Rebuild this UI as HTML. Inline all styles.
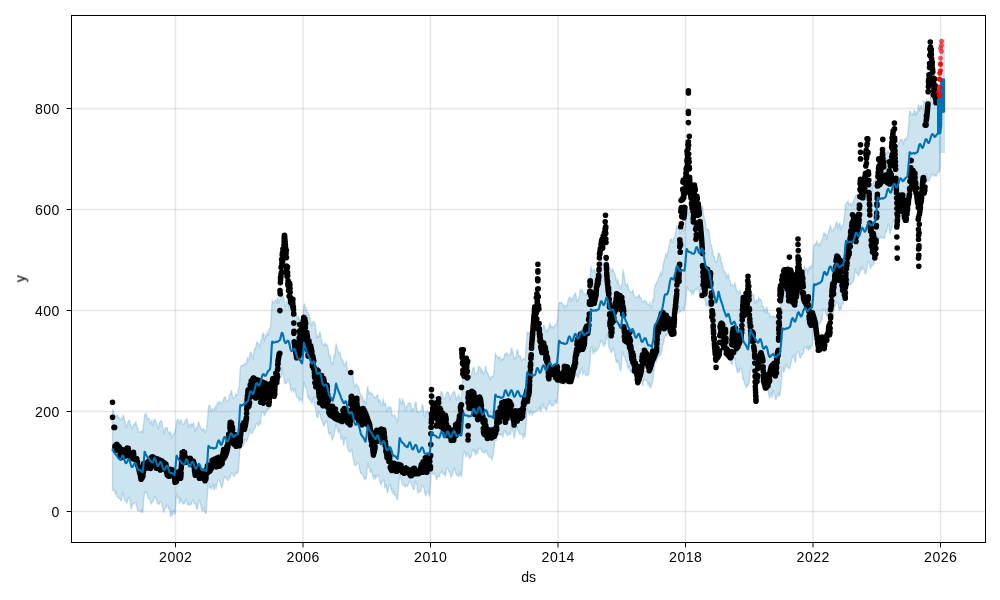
<!DOCTYPE html>
<html><head><meta charset="utf-8"><style>
html,body{margin:0;padding:0;background:#fff;}
svg{display:block}
text{font-family:"Liberation Sans",sans-serif;font-size:14.1px;letter-spacing:0.45px;fill:#000}
</style></head><body>
<svg width="1000" height="600" viewBox="0 0 1000 600">
<rect width="1000" height="600" fill="#fff"/>
<g stroke="#808080" stroke-opacity="0.2" stroke-width="1.39"><line x1="175.50" y1="15.5" x2="175.50" y2="542.5"/><line x1="303.00" y1="15.5" x2="303.00" y2="542.5"/><line x1="430.50" y1="15.5" x2="430.50" y2="542.5"/><line x1="558.00" y1="15.5" x2="558.00" y2="542.5"/><line x1="685.50" y1="15.5" x2="685.50" y2="542.5"/><line x1="813.00" y1="15.5" x2="813.00" y2="542.5"/><line x1="940.50" y1="15.5" x2="940.50" y2="542.5"/><line x1="71.5" y1="511.50" x2="985.5" y2="511.50"/><line x1="71.5" y1="411.50" x2="985.5" y2="411.50"/><line x1="71.5" y1="310.50" x2="985.5" y2="310.50"/><line x1="71.5" y1="209.50" x2="985.5" y2="209.50"/><line x1="71.5" y1="108.50" x2="985.5" y2="108.50"/></g>
<path d="M112.5,411.2 L112.8,409.0 L113.1,409.8 L113.4,411.2 L113.7,412.5 L114.0,413.5 L114.4,413.9 L114.7,414.7 L115.0,415.7 L115.3,416.7 L115.6,416.5 L116.0,416.2 L116.3,416.0 L116.6,415.4 L116.9,414.7 L117.2,414.8 L117.5,416.1 L117.9,417.3 L118.2,417.6 L118.5,417.4 L118.8,417.2 L119.1,417.8 L119.5,418.7 L119.8,419.6 L120.1,419.8 L120.4,419.9 L120.7,419.7 L121.0,419.3 L121.4,418.7 L121.7,418.3 L122.0,418.6 L122.3,419.2 L122.6,418.5 L122.9,416.7 L123.3,415.3 L123.6,415.8 L123.9,417.1 L124.2,418.5 L124.5,419.8 L124.9,420.9 L125.2,422.1 L125.5,424.4 L125.8,426.3 L126.1,427.4 L126.4,427.2 L126.8,426.7 L127.1,425.7 L127.4,424.4 L127.7,423.0 L128.0,422.0 L128.4,421.3 L128.7,420.8 L129.0,420.3 L129.3,420.2 L129.6,420.5 L129.9,421.7 L130.3,423.2 L130.6,424.5 L130.9,425.2 L131.2,425.8 L131.5,426.7 L131.9,427.9 L132.2,428.8 L132.5,428.4 L132.8,427.3 L133.1,426.1 L133.4,425.4 L133.8,424.6 L134.1,424.0 L134.4,424.3 L134.7,424.7 L135.0,424.6 L135.4,423.0 L135.7,421.7 L136.0,421.8 L136.3,423.5 L136.6,425.3 L136.9,426.4 L137.3,427.0 L137.6,427.4 L137.9,429.0 L138.2,430.7 L138.5,432.0 L138.9,432.2 L139.2,432.3 L139.5,432.2 L139.8,432.0 L140.1,431.7 L140.4,431.6 L140.8,431.7 L141.1,431.8 L141.4,431.7 L141.7,431.5 L142.0,431.3 L142.4,431.6 L142.7,432.1 L143.0,429.7 L143.3,427.5 L143.6,424.3 L143.9,421.4 L144.3,417.6 L144.6,414.1 L144.9,414.3 L145.2,414.8 L145.5,415.5 L145.9,415.6 L146.2,414.8 L146.5,413.9 L146.8,415.4 L147.1,417.4 L147.4,419.2 L147.8,418.8 L148.1,418.4 L148.4,418.1 L148.7,418.3 L149.0,418.6 L149.4,419.7 L149.7,421.9 L150.0,423.7 L150.3,423.9 L150.6,423.0 L150.9,422.2 L151.3,421.6 L151.6,421.0 L151.9,420.4 L152.2,422.8 L152.5,425.2 L152.9,426.6 L153.2,424.6 L153.5,422.5 L153.8,420.7 L154.1,419.7 L154.4,419.1 L154.8,419.3 L155.1,420.1 L155.4,421.4 L155.7,421.8 L156.0,422.0 L156.4,422.3 L156.7,423.8 L157.0,425.3 L157.3,426.5 L157.6,427.9 L157.9,429.0 L158.3,428.9 L158.6,426.8 L158.9,424.6 L159.2,423.1 L159.5,422.5 L159.9,422.0 L160.2,421.4 L160.5,420.9 L160.8,420.7 L161.1,420.8 L161.4,421.1 L161.8,421.8 L162.1,423.8 L162.4,425.8 L162.7,427.6 L163.0,428.8 L163.4,429.7 L163.7,430.8 L164.0,431.9 L164.3,432.8 L164.6,431.8 L164.9,429.9 L165.3,428.0 L165.6,427.9 L165.9,428.2 L166.2,428.4 L166.5,427.9 L166.9,427.6 L167.2,427.8 L167.5,428.7 L167.8,429.9 L168.1,430.9 L168.4,431.7 L168.8,432.6 L169.1,433.3 L169.4,433.9 L169.7,434.3 L170.0,433.5 L170.4,432.4 L170.7,431.3 L171.0,433.7 L171.3,436.1 L171.6,437.8 L171.9,437.4 L172.3,437.1 L172.6,436.6 L172.9,435.6 L173.2,434.7 L173.5,434.0 L173.9,433.5 L174.2,432.9 L174.5,433.5 L174.8,432.1 L175.1,430.2 L175.4,429.5 L175.8,427.3 L176.1,424.9 L176.4,421.5 L176.7,421.2 L177.0,421.2 L177.4,420.1 L177.7,418.9 L178.0,419.1 L178.3,420.1 L178.6,421.4 L178.9,422.2 L179.3,422.8 L179.6,423.3 L179.9,422.1 L180.2,420.9 L180.5,419.8 L180.9,420.0 L181.2,420.5 L181.5,421.4 L181.8,422.5 L182.1,423.3 L182.4,423.8 L182.8,423.9 L183.1,424.1 L183.4,424.2 L183.7,424.2 L184.0,424.3 L184.4,423.4 L184.7,422.2 L185.0,420.8 L185.3,420.5 L185.6,420.1 L185.9,419.7 L186.3,419.1 L186.6,419.0 L186.9,419.2 L187.2,419.7 L187.5,420.6 L187.8,422.8 L188.2,425.5 L188.5,428.1 L188.8,427.2 L189.1,425.9 L189.4,424.6 L189.8,424.9 L190.1,424.9 L190.4,424.6 L190.7,424.2 L191.0,423.8 L191.3,424.0 L191.7,425.1 L192.0,426.2 L192.3,425.7 L192.6,424.6 L192.9,423.8 L193.3,423.3 L193.6,423.1 L193.9,423.4 L194.2,426.5 L194.5,429.6 L194.8,431.5 L195.2,431.1 L195.5,430.3 L195.8,429.4 L196.1,428.3 L196.4,427.1 L196.8,427.4 L197.1,428.4 L197.4,429.3 L197.7,427.0 L198.0,424.2 L198.3,421.8 L198.7,422.3 L199.0,423.0 L199.3,423.8 L199.6,424.8 L199.9,426.0 L200.3,427.0 L200.6,427.7 L200.9,428.3 L201.2,428.9 L201.5,429.3 L201.8,429.4 L202.2,429.8 L202.5,430.2 L202.8,430.5 L203.1,429.6 L203.4,428.8 L203.8,428.5 L204.1,429.9 L204.4,431.3 L204.7,432.1 L205.0,432.1 L205.3,432.2 L205.7,431.7 L206.0,430.8 L206.3,429.9 L206.6,428.2 L206.9,425.5 L207.3,422.8 L207.6,418.8 L207.9,414.7 L208.2,410.0 L208.5,406.8 L208.8,405.7 L209.2,405.3 L209.5,405.6 L209.8,405.6 L210.1,406.2 L210.4,407.7 L210.8,409.3 L211.1,410.1 L211.4,410.7 L211.7,411.3 L212.0,410.4 L212.3,409.5 L212.7,408.7 L213.0,409.0 L213.3,409.4 L213.6,409.6 L213.9,409.6 L214.3,409.6 L214.6,408.8 L214.9,407.5 L215.2,406.3 L215.5,407.3 L215.8,408.9 L216.2,410.4 L216.5,408.2 L216.8,405.5 L217.1,403.1 L217.4,403.6 L217.8,404.2 L218.1,404.2 L218.4,403.3 L218.7,402.8 L219.0,402.2 L219.3,401.7 L219.7,401.5 L220.0,401.8 L220.3,402.3 L220.6,402.7 L220.9,403.3 L221.3,403.7 L221.6,403.7 L221.9,403.6 L222.2,403.2 L222.5,402.6 L222.8,401.6 L223.2,400.7 L223.5,399.6 L223.8,398.7 L224.1,398.0 L224.4,397.3 L224.8,396.8 L225.1,396.7 L225.4,397.7 L225.7,399.0 L226.0,400.3 L226.3,400.8 L226.7,401.2 L227.0,401.4 L227.3,401.4 L227.6,401.0 L227.9,400.7 L228.3,400.4 L228.6,400.0 L228.9,398.8 L229.2,397.2 L229.5,395.7 L229.8,394.8 L230.2,394.1 L230.5,393.5 L230.8,392.0 L231.1,390.8 L231.4,390.5 L231.8,392.1 L232.1,393.9 L232.4,395.5 L232.7,396.7 L233.0,397.8 L233.3,398.4 L233.7,398.5 L234.0,398.3 L234.3,397.8 L234.6,397.2 L234.9,396.5 L235.3,395.4 L235.6,394.4 L235.9,393.8 L236.2,394.6 L236.5,395.3 L236.8,395.5 L237.2,394.9 L237.5,394.3 L237.8,393.4 L238.1,392.2 L238.4,389.3 L238.8,387.8 L239.1,386.9 L239.4,384.8 L239.7,378.6 L240.0,372.0 L240.3,367.8 L240.7,366.6 L241.0,365.9 L241.3,365.7 L241.6,365.8 L241.9,365.4 L242.3,365.2 L242.6,365.3 L242.9,365.3 L243.2,365.3 L243.5,365.5 L243.8,365.7 L244.2,364.7 L244.5,363.5 L244.8,362.9 L245.1,363.3 L245.4,363.6 L245.8,363.7 L246.1,363.9 L246.4,364.1 L246.7,362.8 L247.0,360.3 L247.3,357.9 L247.7,358.2 L248.0,359.2 L248.3,359.9 L248.6,359.4 L248.9,358.5 L249.3,357.4 L249.6,355.5 L249.9,353.9 L250.2,352.8 L250.5,352.4 L250.8,352.4 L251.2,352.5 L251.5,352.9 L251.8,353.4 L252.1,355.4 L252.4,357.8 L252.7,360.0 L253.1,358.5 L253.4,356.6 L253.7,354.4 L254.0,352.3 L254.3,350.1 L254.7,348.6 L255.0,348.8 L255.3,349.0 L255.6,348.1 L255.9,346.3 L256.2,344.7 L256.6,343.5 L256.9,342.6 L257.2,342.1 L257.5,342.5 L257.8,343.2 L258.2,343.8 L258.5,343.8 L258.8,343.6 L259.1,344.0 L259.4,346.0 L259.7,347.6 L260.1,347.4 L260.4,345.4 L260.7,343.2 L261.0,341.6 L261.3,340.3 L261.7,339.1 L262.0,337.3 L262.3,335.7 L262.6,334.3 L262.9,333.5 L263.2,332.9 L263.6,333.6 L263.9,336.5 L264.2,339.7 L264.5,340.2 L264.8,337.8 L265.2,335.3 L265.5,335.6 L265.8,337.0 L266.1,338.3 L266.4,336.6 L266.7,334.5 L267.1,332.5 L267.4,333.4 L267.7,334.4 L268.0,334.8 L268.3,333.2 L268.7,331.6 L269.0,330.3 L269.3,329.3 L269.6,328.2 L269.9,328.2 L270.2,327.9 L270.6,325.1 L270.9,321.3 L271.2,316.2 L271.5,311.2 L271.8,305.5 L272.2,301.1 L272.5,300.7 L272.8,301.5 L273.1,302.5 L273.4,303.2 L273.7,303.3 L274.1,303.3 L274.4,302.7 L274.7,301.5 L275.0,300.2 L275.3,300.0 L275.7,300.2 L276.0,300.4 L276.3,301.1 L276.6,302.1 L276.9,302.6 L277.2,300.6 L277.6,298.3 L277.9,297.8 L278.2,300.4 L278.5,302.9 L278.8,303.0 L279.2,301.3 L279.5,299.5 L279.8,299.6 L280.1,299.8 L280.4,299.6 L280.7,298.0 L281.1,296.2 L281.4,294.5 L281.7,292.9 L282.0,292.4 L282.3,292.5 L282.7,293.5 L283.0,294.8 L283.3,296.1 L283.6,297.2 L283.9,298.4 L284.2,300.9 L284.6,303.6 L284.9,306.0 L285.2,306.6 L285.5,306.8 L285.8,306.5 L286.2,304.7 L286.5,302.8 L286.8,301.6 L287.1,302.3 L287.4,303.0 L287.7,303.3 L288.1,303.4 L288.4,303.8 L288.7,304.6 L289.0,305.9 L289.3,307.5 L289.7,307.1 L290.0,306.6 L290.3,306.3 L290.6,307.9 L290.9,309.2 L291.2,309.8 L291.6,309.6 L291.9,309.1 L292.2,309.5 L292.5,310.9 L292.8,312.3 L293.2,311.8 L293.5,310.8 L293.8,309.8 L294.1,310.4 L294.4,311.3 L294.7,312.2 L295.1,311.4 L295.4,310.9 L295.7,310.9 L296.0,311.5 L296.3,312.2 L296.7,314.0 L297.0,316.9 L297.3,319.5 L297.6,319.4 L297.9,318.0 L298.2,316.5 L298.6,316.9 L298.9,317.5 L299.2,318.1 L299.5,319.2 L299.8,320.5 L300.2,321.9 L300.5,323.6 L300.8,325.4 L301.1,325.5 L301.4,323.6 L301.7,321.7 L302.1,321.8 L302.4,320.2 L302.7,318.6 L303.0,315.4 L303.3,312.4 L303.7,308.5 L304.0,304.1 L304.3,303.9 L304.6,304.5 L304.9,306.0 L305.2,307.3 L305.6,307.8 L305.9,307.8 L306.2,308.0 L306.5,309.8 L306.8,312.3 L307.2,314.8 L307.5,314.6 L307.8,313.8 L308.1,313.0 L308.4,313.6 L308.7,314.4 L309.1,315.4 L309.4,316.2 L309.7,316.9 L310.0,318.0 L310.3,319.9 L310.7,321.8 L311.0,323.2 L311.3,324.3 L311.6,325.3 L311.9,324.7 L312.2,323.4 L312.6,321.8 L312.9,321.8 L313.2,321.9 L313.5,322.1 L313.8,322.0 L314.2,322.4 L314.5,322.8 L314.8,323.0 L315.1,323.4 L315.4,325.3 L315.7,328.1 L316.1,330.9 L316.4,333.8 L316.7,336.4 L317.0,338.6 L317.3,337.8 L317.6,336.6 L318.0,335.6 L318.3,336.4 L318.6,337.1 L318.9,336.8 L319.2,334.6 L319.6,332.6 L319.9,332.1 L320.2,332.9 L320.5,334.0 L320.8,335.7 L321.1,337.7 L321.5,340.0 L321.8,341.3 L322.1,342.4 L322.4,343.4 L322.7,343.9 L323.1,344.1 L323.4,344.4 L323.7,345.2 L324.0,345.8 L324.3,345.4 L324.6,344.3 L325.0,343.2 L325.3,343.4 L325.6,344.3 L325.9,345.3 L326.2,344.9 L326.6,344.5 L326.9,344.5 L327.2,345.2 L327.5,346.1 L327.8,347.3 L328.1,348.7 L328.5,350.0 L328.8,352.1 L329.1,354.8 L329.4,357.2 L329.7,357.5 L330.1,356.8 L330.4,356.1 L330.7,358.1 L331.0,360.5 L331.3,362.7 L331.6,362.7 L332.0,362.7 L332.3,363.1 L332.6,364.5 L332.9,364.2 L333.2,362.5 L333.6,359.1 L333.9,355.8 L334.2,354.9 L334.5,355.4 L334.8,355.8 L335.1,352.6 L335.5,349.1 L335.8,345.7 L336.1,344.4 L336.4,345.3 L336.7,346.8 L337.1,348.0 L337.4,348.9 L337.7,349.7 L338.0,351.0 L338.3,352.4 L338.6,353.0 L339.0,353.0 L339.3,353.2 L339.6,352.9 L339.9,352.5 L340.2,352.2 L340.6,354.5 L340.9,356.9 L341.2,358.7 L341.5,358.9 L341.8,359.2 L342.1,359.6 L342.5,359.9 L342.8,360.3 L343.1,361.4 L343.4,362.8 L343.7,364.1 L344.1,364.9 L344.4,365.4 L344.7,365.6 L345.0,364.5 L345.3,363.5 L345.6,362.8 L346.0,361.9 L346.3,361.4 L346.6,362.5 L346.9,365.7 L347.2,369.2 L347.6,371.3 L347.9,372.1 L348.2,372.8 L348.5,372.9 L348.8,372.6 L349.1,372.0 L349.5,372.3 L349.8,372.4 L350.1,372.4 L350.4,372.7 L350.7,372.9 L351.1,372.7 L351.4,372.0 L351.7,371.6 L352.0,371.9 L352.3,373.1 L352.6,374.6 L353.0,376.7 L353.3,379.2 L353.6,381.8 L353.9,383.7 L354.2,385.5 L354.6,386.8 L354.9,387.0 L355.2,386.9 L355.5,386.3 L355.8,385.3 L356.1,384.1 L356.5,383.9 L356.8,384.7 L357.1,385.5 L357.4,385.8 L357.7,386.0 L358.1,386.4 L358.4,386.8 L358.7,387.3 L359.0,388.3 L359.3,390.0 L359.6,391.9 L360.0,393.5 L360.3,393.9 L360.6,394.2 L360.9,395.1 L361.2,396.7 L361.6,398.1 L361.9,398.0 L362.2,397.3 L362.5,396.6 L362.8,398.5 L363.1,400.9 L363.5,403.1 L363.8,401.7 L364.1,400.4 L364.4,399.9 L364.7,401.3 L365.1,402.7 L365.4,404.2 L365.7,404.2 L366.0,403.4 L366.3,400.7 L366.6,397.1 L367.0,392.1 L367.3,389.4 L367.6,387.0 L367.9,386.9 L368.2,389.0 L368.6,391.5 L368.9,393.5 L369.2,393.3 L369.5,392.7 L369.8,392.4 L370.1,392.3 L370.5,392.0 L370.8,392.4 L371.1,393.4 L371.4,394.4 L371.7,394.2 L372.1,393.7 L372.4,393.6 L372.7,394.5 L373.0,395.2 L373.3,395.6 L373.6,396.0 L374.0,396.5 L374.3,397.0 L374.6,397.7 L374.9,398.3 L375.2,398.3 L375.6,397.8 L375.9,396.9 L376.2,396.6 L376.5,396.3 L376.8,395.9 L377.1,395.3 L377.5,395.0 L377.8,395.4 L378.1,397.5 L378.4,400.1 L378.7,401.3 L379.1,400.4 L379.4,399.6 L379.7,399.9 L380.0,400.8 L380.3,401.5 L380.6,403.0 L381.0,404.4 L381.3,405.6 L381.6,405.4 L381.9,405.1 L382.2,404.3 L382.5,401.9 L382.9,399.6 L383.2,399.1 L383.5,401.5 L383.8,404.2 L384.1,404.8 L384.5,403.9 L384.8,403.3 L385.1,403.1 L385.4,403.0 L385.7,402.9 L386.0,406.4 L386.4,409.7 L386.7,412.3 L387.0,411.4 L387.3,410.3 L387.6,409.1 L388.0,407.9 L388.3,406.6 L388.6,406.4 L388.9,407.3 L389.2,408.3 L389.5,408.0 L389.9,407.3 L390.2,406.9 L390.5,407.0 L390.8,407.3 L391.1,408.2 L391.5,410.5 L391.8,413.0 L392.1,414.9 L392.4,415.4 L392.7,415.6 L393.0,415.8 L393.4,415.9 L393.7,415.8 L394.0,415.6 L394.3,415.3 L394.6,415.0 L395.0,415.7 L395.3,416.5 L395.6,417.4 L395.9,417.8 L396.2,418.4 L396.5,419.0 L396.9,420.0 L397.2,421.0 L397.5,421.5 L397.8,419.9 L398.1,416.6 L398.5,413.1 L398.8,408.3 L399.1,403.4 L399.4,399.5 L399.7,398.0 L400.0,399.0 L400.4,400.5 L400.7,402.2 L401.0,403.4 L401.3,403.6 L401.6,404.0 L402.0,403.4 L402.3,401.3 L402.6,399.0 L402.9,399.1 L403.2,400.5 L403.5,401.9 L403.9,402.5 L404.2,403.4 L404.5,404.6 L404.8,407.4 L405.1,410.0 L405.5,411.4 L405.8,409.3 L406.1,407.3 L406.4,406.2 L406.7,406.5 L407.0,406.8 L407.4,406.4 L407.7,405.3 L408.0,403.8 L408.3,403.4 L408.6,403.2 L409.0,403.2 L409.3,402.8 L409.6,402.8 L409.9,403.1 L410.2,403.1 L410.5,403.5 L410.9,404.9 L411.2,407.9 L411.5,410.8 L411.8,411.3 L412.1,410.0 L412.5,408.4 L412.8,408.5 L413.1,408.9 L413.4,409.0 L413.7,409.2 L414.0,409.2 L414.4,408.7 L414.7,406.5 L415.0,404.4 L415.3,402.9 L415.6,402.3 L416.0,402.1 L416.3,403.7 L416.6,406.7 L416.9,410.1 L417.2,411.4 L417.5,412.0 L417.9,412.6 L418.2,412.7 L418.5,412.6 L418.8,412.2 L419.1,412.2 L419.5,412.0 L419.8,411.7 L420.1,411.5 L420.4,411.2 L420.7,410.9 L421.0,410.6 L421.4,410.5 L421.7,408.6 L422.0,406.3 L422.3,404.1 L422.6,405.1 L423.0,406.5 L423.3,408.2 L423.6,410.8 L423.9,413.4 L424.2,415.5 L424.5,416.3 L424.9,416.9 L425.2,416.0 L425.5,413.9 L425.8,411.7 L426.1,411.3 L426.5,411.8 L426.8,412.2 L427.1,411.7 L427.4,411.3 L427.7,411.0 L428.0,411.9 L428.4,412.9 L428.7,414.0 L429.0,415.4 L429.3,416.8 L429.6,416.3 L430.0,412.4 L430.3,408.4 L430.6,405.2 L430.9,402.9 L431.2,400.0 L431.5,396.1 L431.9,395.2 L432.2,394.9 L432.5,395.3 L432.8,395.4 L433.1,395.1 L433.5,394.9 L433.8,394.8 L434.1,395.3 L434.4,396.3 L434.7,397.3 L435.0,397.5 L435.4,397.2 L435.7,396.8 L436.0,396.7 L436.3,396.9 L436.6,396.9 L437.0,397.1 L437.3,397.2 L437.6,397.3 L437.9,397.2 L438.2,397.1 L438.5,397.2 L438.9,397.6 L439.2,397.9 L439.5,397.9 L439.8,397.5 L440.1,396.8 L440.5,395.1 L440.8,393.1 L441.1,391.4 L441.4,391.4 L441.7,391.8 L442.0,392.6 L442.4,393.8 L442.7,395.2 L443.0,396.5 L443.3,397.4 L443.6,398.2 L444.0,398.7 L444.3,398.7 L444.6,398.3 L444.9,398.1 L445.2,397.7 L445.5,397.0 L445.9,396.0 L446.2,394.8 L446.5,393.7 L446.8,393.0 L447.1,392.5 L447.4,392.1 L447.8,391.9 L448.1,392.0 L448.4,392.6 L448.7,393.7 L449.0,394.9 L449.4,396.6 L449.7,398.4 L450.0,399.9 L450.3,399.3 L450.6,398.2 L450.9,396.9 L451.3,396.1 L451.6,395.0 L451.9,394.1 L452.2,393.7 L452.5,393.3 L452.9,392.9 L453.2,392.7 L453.5,392.6 L453.8,392.0 L454.1,391.4 L454.4,391.2 L454.8,392.5 L455.1,394.2 L455.4,396.0 L455.7,397.6 L456.0,399.0 L456.4,399.7 L456.7,398.7 L457.0,397.4 L457.3,397.0 L457.6,397.5 L457.9,398.0 L458.3,397.1 L458.6,395.7 L458.9,394.4 L459.2,395.4 L459.5,396.7 L459.9,398.1 L460.2,399.3 L460.5,400.5 L460.8,401.0 L461.1,399.9 L461.4,398.6 L461.8,394.1 L462.1,389.3 L462.4,383.5 L462.7,380.2 L463.0,377.1 L463.4,374.7 L463.7,375.3 L464.0,376.5 L464.3,377.8 L464.6,378.0 L464.9,377.6 L465.3,377.1 L465.6,376.4 L465.9,375.7 L466.2,375.2 L466.5,375.2 L466.9,375.2 L467.2,375.4 L467.5,375.6 L467.8,375.9 L468.1,375.5 L468.4,375.0 L468.8,374.2 L469.1,374.6 L469.4,375.1 L469.7,375.6 L470.0,376.1 L470.4,376.6 L470.7,376.6 L471.0,376.1 L471.3,375.3 L471.6,373.8 L471.9,371.9 L472.3,369.9 L472.6,368.8 L472.9,368.2 L473.2,367.9 L473.5,367.5 L473.9,367.5 L474.2,368.2 L474.5,370.4 L474.8,372.8 L475.1,374.3 L475.4,374.5 L475.8,374.4 L476.1,374.2 L476.4,373.6 L476.7,372.7 L477.0,372.6 L477.4,372.5 L477.7,372.3 L478.0,370.2 L478.3,368.2 L478.6,366.7 L478.9,366.5 L479.3,366.6 L479.6,366.7 L479.9,366.8 L480.2,367.2 L480.5,368.5 L480.9,370.4 L481.2,372.4 L481.5,372.2 L481.8,371.2 L482.1,369.9 L482.4,371.1 L482.8,372.0 L483.1,372.8 L483.4,373.4 L483.7,373.9 L484.0,373.8 L484.4,372.8 L484.7,371.9 L485.0,370.3 L485.3,368.0 L485.6,366.0 L485.9,367.1 L486.3,369.5 L486.6,372.2 L486.9,372.3 L487.2,372.3 L487.5,372.6 L487.9,373.5 L488.2,374.2 L488.5,375.0 L488.8,376.0 L489.1,376.8 L489.4,377.6 L489.8,378.4 L490.1,379.1 L490.4,378.6 L490.7,377.6 L491.0,376.7 L491.4,376.7 L491.7,376.8 L492.0,376.8 L492.3,376.5 L492.6,376.2 L492.9,376.1 L493.3,376.5 L493.6,374.0 L493.9,371.3 L494.2,368.8 L494.5,364.7 L494.9,359.9 L495.2,354.9 L495.5,353.6 L495.8,354.1 L496.1,355.0 L496.4,355.9 L496.8,356.4 L497.1,356.6 L497.4,357.0 L497.7,357.3 L498.0,357.5 L498.4,357.6 L498.7,357.8 L499.0,358.1 L499.3,357.7 L499.6,357.0 L499.9,356.7 L500.3,358.1 L500.6,359.5 L500.9,360.6 L501.2,360.2 L501.5,359.9 L501.9,359.5 L502.2,359.0 L502.5,358.5 L502.8,358.6 L503.1,359.3 L503.4,359.7 L503.8,358.5 L504.1,356.5 L504.4,354.5 L504.7,354.1 L505.0,354.4 L505.4,355.0 L505.7,354.1 L506.0,353.4 L506.3,353.1 L506.6,353.0 L506.9,353.1 L507.3,353.6 L507.6,354.4 L507.9,355.1 L508.2,355.6 L508.5,356.0 L508.8,356.2 L509.2,355.8 L509.5,355.1 L509.8,354.4 L510.1,354.3 L510.4,354.4 L510.8,353.9 L511.1,351.2 L511.4,348.7 L511.7,347.7 L512.0,349.2 L512.3,350.9 L512.7,352.1 L513.0,352.8 L513.3,353.4 L513.6,355.3 L513.9,357.4 L514.3,359.1 L514.6,358.6 L514.9,357.9 L515.2,357.2 L515.5,357.7 L515.8,358.1 L516.2,357.4 L516.5,354.7 L516.8,352.1 L517.1,350.7 L517.4,350.2 L517.8,349.9 L518.1,351.6 L518.4,354.0 L518.7,356.7 L519.0,356.4 L519.3,356.0 L519.7,355.7 L520.0,355.9 L520.3,356.0 L520.6,356.5 L520.9,358.3 L521.3,359.9 L521.6,360.6 L521.9,360.5 L522.2,360.3 L522.5,359.8 L522.8,359.3 L523.2,358.8 L523.5,358.5 L523.8,358.4 L524.1,358.3 L524.4,359.0 L524.8,359.7 L525.1,359.8 L525.4,356.5 L525.7,352.2 L526.0,348.4 L526.3,343.6 L526.7,338.8 L527.0,333.9 L527.3,332.1 L527.6,332.1 L527.9,332.7 L528.3,333.3 L528.6,333.5 L528.9,332.9 L529.2,332.5 L529.5,332.4 L529.8,332.8 L530.2,332.9 L530.5,333.9 L530.8,335.7 L531.1,337.5 L531.4,337.7 L531.8,337.4 L532.1,337.2 L532.4,337.7 L532.7,338.0 L533.0,338.3 L533.3,338.3 L533.7,338.3 L534.0,338.1 L534.3,337.3 L534.6,336.5 L534.9,335.8 L535.3,335.1 L535.6,334.0 L535.9,332.5 L536.2,330.9 L536.5,329.3 L536.8,329.6 L537.2,330.5 L537.5,331.9 L537.8,331.9 L538.1,332.2 L538.4,332.6 L538.8,332.6 L539.1,332.7 L539.4,333.0 L539.7,333.6 L540.0,333.9 L540.3,333.8 L540.7,333.4 L541.0,332.8 L541.3,331.7 L541.6,330.5 L541.9,329.3 L542.3,328.7 L542.6,328.3 L542.9,327.9 L543.2,326.4 L543.5,325.3 L543.8,325.0 L544.2,325.8 L544.5,326.8 L544.8,328.0 L545.1,329.2 L545.4,330.3 L545.8,331.2 L546.1,331.8 L546.4,332.1 L546.7,331.3 L547.0,330.4 L547.3,329.6 L547.7,330.5 L548.0,331.3 L548.3,331.0 L548.6,328.9 L548.9,326.8 L549.3,325.3 L549.6,324.2 L549.9,323.4 L550.2,324.2 L550.5,325.7 L550.8,327.5 L551.2,327.1 L551.5,326.6 L551.8,326.1 L552.1,326.6 L552.4,326.8 L552.8,327.0 L553.1,327.9 L553.4,328.7 L553.7,328.4 L554.0,327.2 L554.3,326.1 L554.7,325.7 L555.0,325.6 L555.3,325.6 L555.6,325.0 L555.9,324.4 L556.3,323.9 L556.6,323.7 L556.9,323.5 L557.2,321.9 L557.5,319.3 L557.8,316.7 L558.2,312.9 L558.5,309.2 L558.8,305.2 L559.1,302.7 L559.4,302.4 L559.8,302.5 L560.1,303.1 L560.4,303.5 L560.7,303.3 L561.0,302.9 L561.3,302.6 L561.7,302.4 L562.0,302.6 L562.3,303.0 L562.6,303.5 L562.9,304.3 L563.3,304.9 L563.6,305.7 L563.9,306.6 L564.2,307.4 L564.5,306.8 L564.8,306.0 L565.2,305.3 L565.5,305.5 L565.8,305.8 L566.1,306.0 L566.4,306.2 L566.8,306.3 L567.1,305.5 L567.4,303.8 L567.7,301.9 L568.0,300.5 L568.3,299.6 L568.7,298.9 L569.0,297.9 L569.3,297.3 L569.6,297.1 L569.9,297.3 L570.3,297.8 L570.6,298.6 L570.9,300.2 L571.2,301.6 L571.5,301.7 L571.8,300.0 L572.2,298.0 L572.5,298.0 L572.8,299.2 L573.1,300.2 L573.4,298.7 L573.7,296.6 L574.1,294.6 L574.4,294.4 L574.7,294.4 L575.0,294.3 L575.3,293.5 L575.7,293.0 L576.0,294.0 L576.3,297.3 L576.6,300.7 L576.9,301.9 L577.2,301.6 L577.6,301.0 L577.9,300.4 L578.2,299.6 L578.5,298.5 L578.8,297.7 L579.2,296.7 L579.5,295.4 L579.8,293.1 L580.1,290.9 L580.4,289.7 L580.7,290.4 L581.1,291.2 L581.4,291.0 L581.7,290.2 L582.0,289.6 L582.3,290.1 L582.7,291.1 L583.0,292.2 L583.3,292.8 L583.6,293.3 L583.9,293.7 L584.2,294.2 L584.6,294.5 L584.9,294.6 L585.2,294.8 L585.5,294.9 L585.8,294.5 L586.2,293.7 L586.5,293.0 L586.8,293.6 L587.1,294.6 L587.4,295.7 L587.7,294.3 L588.1,292.6 L588.4,291.3 L588.7,292.8 L589.0,293.4 L589.3,291.0 L589.7,287.0 L590.0,281.9 L590.3,276.7 L590.6,270.7 L590.9,266.3 L591.2,267.0 L591.6,269.1 L591.9,271.4 L592.2,271.8 L592.5,271.5 L592.8,271.2 L593.2,270.5 L593.5,269.8 L593.8,269.2 L594.1,269.9 L594.4,270.7 L594.7,271.3 L595.1,271.7 L595.4,272.4 L595.7,272.3 L596.0,271.8 L596.3,270.9 L596.7,270.4 L597.0,270.0 L597.3,269.6 L597.6,269.3 L597.9,269.1 L598.2,269.1 L598.6,269.9 L598.9,270.4 L599.2,269.1 L599.5,266.0 L599.8,262.8 L600.2,260.8 L600.5,259.7 L600.8,258.9 L601.1,259.6 L601.4,260.8 L601.7,262.2 L602.1,262.7 L602.4,263.2 L602.7,264.0 L603.0,265.2 L603.3,266.2 L603.7,266.1 L604.0,264.6 L604.3,262.8 L604.6,262.5 L604.9,263.1 L605.2,263.5 L605.6,261.7 L605.9,259.6 L606.2,257.6 L606.5,257.7 L606.8,258.7 L607.2,260.0 L607.5,261.0 L607.8,262.3 L608.1,263.5 L608.4,264.1 L608.7,264.7 L609.1,265.6 L609.4,266.5 L609.7,267.1 L610.0,268.5 L610.3,269.9 L610.7,271.1 L611.0,271.6 L611.3,271.9 L611.6,271.9 L611.9,270.6 L612.2,269.3 L612.6,268.8 L612.9,269.5 L613.2,270.4 L613.5,271.0 L613.8,271.6 L614.2,272.4 L614.5,273.0 L614.8,273.5 L615.1,274.2 L615.4,275.8 L615.7,277.3 L616.1,278.7 L616.4,280.6 L616.7,282.4 L617.0,282.9 L617.3,281.3 L617.7,279.6 L618.0,280.0 L618.3,282.1 L618.6,284.4 L618.9,285.0 L619.2,285.1 L619.6,285.3 L619.9,286.9 L620.2,288.6 L620.5,289.9 L620.8,288.1 L621.2,286.3 L621.5,285.0 L621.8,283.8 L622.1,282.9 L622.4,279.2 L622.7,274.2 L623.1,270.5 L623.4,271.2 L623.7,272.9 L624.0,274.4 L624.3,276.9 L624.7,279.5 L625.0,282.1 L625.3,283.2 L625.6,284.0 L625.9,284.8 L626.2,285.6 L626.6,286.4 L626.9,286.1 L627.2,284.9 L627.5,284.0 L627.8,285.2 L628.2,287.1 L628.5,288.9 L628.8,289.4 L629.1,289.7 L629.4,290.1 L629.7,290.9 L630.1,291.7 L630.4,292.4 L630.7,292.5 L631.0,292.3 L631.3,292.1 L631.7,292.1 L632.0,292.2 L632.3,291.5 L632.6,290.6 L632.9,290.2 L633.2,291.7 L633.6,293.5 L633.9,295.5 L634.2,295.7 L634.5,296.0 L634.8,296.4 L635.2,297.1 L635.5,297.5 L635.8,297.7 L636.1,297.7 L636.4,297.3 L636.7,297.2 L637.1,297.0 L637.4,296.8 L637.7,296.6 L638.0,296.5 L638.3,296.5 L638.6,295.5 L639.0,294.8 L639.3,294.7 L639.6,295.9 L639.9,297.4 L640.2,298.3 L640.6,298.1 L640.9,297.8 L641.2,298.6 L641.5,299.9 L641.8,300.9 L642.1,301.6 L642.5,302.1 L642.8,302.4 L643.1,302.1 L643.4,301.8 L643.7,301.4 L644.1,300.9 L644.4,300.6 L644.7,300.4 L645.0,300.4 L645.3,300.7 L645.6,300.9 L646.0,301.1 L646.3,301.6 L646.6,302.2 L646.9,302.8 L647.2,303.4 L647.6,304.1 L647.9,304.6 L648.2,304.8 L648.5,305.0 L648.8,305.0 L649.1,304.6 L649.5,303.5 L649.8,302.4 L650.1,303.1 L650.4,305.3 L650.7,307.5 L651.1,307.9 L651.4,307.7 L651.7,307.6 L652.0,306.0 L652.3,302.0 L652.6,298.7 L653.0,299.9 L653.3,301.1 L653.6,300.9 L653.9,296.2 L654.2,291.6 L654.6,287.5 L654.9,285.8 L655.2,284.9 L655.5,284.6 L655.8,284.4 L656.1,283.8 L656.5,282.9 L656.8,282.1 L657.1,281.4 L657.4,281.0 L657.7,280.6 L658.1,280.0 L658.4,278.8 L658.7,277.5 L659.0,276.7 L659.3,276.4 L659.6,276.3 L660.0,275.3 L660.3,273.8 L660.6,272.4 L660.9,273.2 L661.2,274.3 L661.6,275.2 L661.9,273.6 L662.2,271.9 L662.5,270.1 L662.8,267.9 L663.1,265.4 L663.5,263.3 L663.8,262.0 L664.1,260.8 L664.4,259.4 L664.7,258.3 L665.1,257.5 L665.4,256.1 L665.7,254.8 L666.0,253.7 L666.3,254.8 L666.6,255.8 L667.0,256.2 L667.3,255.0 L667.6,253.4 L667.9,251.9 L668.2,250.5 L668.6,248.9 L668.9,247.4 L669.2,245.9 L669.5,244.4 L669.8,242.6 L670.1,240.8 L670.5,239.3 L670.8,238.9 L671.1,238.8 L671.4,239.1 L671.7,240.2 L672.1,241.4 L672.4,242.0 L672.7,241.3 L673.0,240.5 L673.3,239.8 L673.6,239.1 L674.0,238.0 L674.3,237.6 L674.6,237.1 L674.9,236.4 L675.2,234.7 L675.6,232.9 L675.9,231.0 L676.2,229.0 L676.5,227.1 L676.8,226.1 L677.1,227.0 L677.5,228.3 L677.8,228.5 L678.1,228.0 L678.4,227.7 L678.7,227.7 L679.1,227.6 L679.4,227.5 L679.7,229.6 L680.0,231.6 L680.3,232.9 L680.6,232.3 L681.0,231.6 L681.3,231.1 L681.6,231.1 L681.9,231.2 L682.2,230.5 L682.6,229.3 L682.9,228.2 L683.2,228.6 L683.5,229.6 L683.8,230.6 L684.1,230.3 L684.5,230.0 L684.8,227.7 L685.1,225.9 L685.4,224.2 L685.7,220.6 L686.1,215.9 L686.4,211.2 L686.7,209.8 L687.0,210.1 L687.3,210.8 L687.6,212.5 L688.0,214.2 L688.3,215.5 L688.6,213.7 L688.9,211.7 L689.2,209.9 L689.6,210.2 L689.9,210.7 L690.2,211.7 L690.5,213.7 L690.8,215.6 L691.1,216.1 L691.5,214.8 L691.8,213.3 L692.1,213.1 L692.4,213.8 L692.7,214.4 L693.1,214.2 L693.4,213.8 L693.7,213.4 L694.0,213.5 L694.3,213.4 L694.6,213.2 L695.0,213.6 L695.3,213.7 L695.6,212.8 L695.9,210.7 L696.2,209.0 L696.6,207.4 L696.9,206.2 L697.2,205.4 L697.5,207.3 L697.8,209.8 L698.1,212.2 L698.5,213.6 L698.8,214.8 L699.1,215.8 L699.4,216.4 L699.7,216.6 L700.1,216.4 L700.4,215.7 L700.7,214.9 L701.0,213.2 L701.3,211.2 L701.6,209.2 L702.0,207.5 L702.3,206.7 L702.6,206.7 L702.9,208.7 L703.2,211.1 L703.5,213.7 L703.9,215.8 L704.2,218.1 L704.5,219.7 L704.8,220.2 L705.1,220.5 L705.5,222.6 L705.8,225.7 L706.1,228.5 L706.4,229.5 L706.7,230.1 L707.0,230.5 L707.4,229.8 L707.7,229.2 L708.0,228.9 L708.3,229.3 L708.6,229.9 L709.0,231.2 L709.3,233.5 L709.6,236.1 L709.9,238.4 L710.2,240.5 L710.5,242.7 L710.9,244.0 L711.2,244.9 L711.5,245.6 L711.8,247.2 L712.1,248.4 L712.5,249.8 L712.8,251.9 L713.1,254.0 L713.4,255.4 L713.7,255.7 L714.0,256.0 L714.4,257.1 L714.7,258.6 L715.0,260.1 L715.3,261.0 L715.6,261.6 L716.0,262.2 L716.3,262.6 L716.6,262.2 L716.9,261.6 L717.2,260.7 L717.5,258.6 L717.9,256.6 L718.2,254.4 L718.5,253.1 L718.8,253.0 L719.1,253.5 L719.5,254.1 L719.8,255.0 L720.1,255.7 L720.4,256.5 L720.7,258.8 L721.0,261.2 L721.4,263.0 L721.7,263.1 L722.0,263.2 L722.3,263.9 L722.6,265.9 L723.0,268.3 L723.3,269.9 L723.6,270.5 L723.9,270.8 L724.2,271.1 L724.5,271.5 L724.9,271.9 L725.2,272.2 L725.5,272.6 L725.8,273.0 L726.1,275.2 L726.5,276.9 L726.8,277.7 L727.1,277.0 L727.4,276.1 L727.7,275.2 L728.0,274.6 L728.4,274.3 L728.7,275.5 L729.0,277.4 L729.3,279.7 L729.6,280.3 L730.0,280.6 L730.3,281.1 L730.6,282.9 L730.9,284.5 L731.2,285.5 L731.5,285.2 L731.9,284.5 L732.2,284.5 L732.5,285.2 L732.8,285.8 L733.1,286.1 L733.5,286.2 L733.8,286.4 L734.1,285.2 L734.4,283.8 L734.7,282.8 L735.0,283.4 L735.4,284.3 L735.7,285.7 L736.0,287.7 L736.3,289.7 L736.6,290.9 L737.0,291.0 L737.3,290.8 L737.6,291.4 L737.9,292.4 L738.2,293.2 L738.5,293.3 L738.9,293.2 L739.2,293.0 L739.5,291.8 L739.8,290.7 L740.1,290.4 L740.5,292.0 L740.8,293.8 L741.1,295.1 L741.4,295.4 L741.7,295.9 L742.0,296.7 L742.4,297.7 L742.7,298.8 L743.0,299.6 L743.3,300.2 L743.6,300.5 L744.0,301.9 L744.3,303.2 L744.6,304.2 L744.9,304.3 L745.2,304.4 L745.5,304.9 L745.9,306.1 L746.2,307.4 L746.5,308.0 L746.8,308.0 L747.1,308.1 L747.5,307.9 L747.8,307.7 L748.1,306.5 L748.4,306.0 L748.7,305.7 L749.0,304.8 L749.4,299.5 L749.7,294.2 L750.0,290.0 L750.3,289.3 L750.6,290.5 L751.0,292.2 L751.3,292.9 L751.6,293.4 L751.9,293.7 L752.2,294.1 L752.5,294.7 L752.9,294.7 L753.2,294.5 L753.5,294.6 L753.8,296.8 L754.1,298.9 L754.5,300.6 L754.8,301.8 L755.1,303.4 L755.4,303.4 L755.7,301.9 L756.0,300.3 L756.4,300.1 L756.7,300.4 L757.0,300.7 L757.3,301.2 L757.6,301.7 L758.0,302.0 L758.3,300.5 L758.6,298.6 L758.9,297.4 L759.2,298.3 L759.5,299.2 L759.9,299.5 L760.2,299.3 L760.5,299.4 L760.8,299.7 L761.1,300.1 L761.5,300.8 L761.8,302.5 L762.1,304.3 L762.4,305.9 L762.7,306.2 L763.0,306.1 L763.4,306.5 L763.7,308.8 L764.0,310.8 L764.3,311.3 L764.6,310.3 L765.0,309.1 L765.3,309.9 L765.6,311.7 L765.9,313.7 L766.2,311.5 L766.5,308.8 L766.9,306.6 L767.2,308.5 L767.5,310.6 L767.8,312.5 L768.1,313.0 L768.4,313.4 L768.8,313.7 L769.1,313.7 L769.4,313.3 L769.7,314.2 L770.0,315.8 L770.4,317.2 L770.7,317.3 L771.0,317.0 L771.3,316.8 L771.6,316.6 L771.9,316.5 L772.3,316.4 L772.6,316.2 L772.9,316.2 L773.2,316.3 L773.5,316.4 L773.9,316.8 L774.2,316.8 L774.5,316.6 L774.8,316.3 L775.1,316.9 L775.4,317.5 L775.8,317.9 L776.1,317.6 L776.4,317.2 L776.7,316.9 L777.0,316.6 L777.4,316.4 L777.7,315.9 L778.0,314.9 L778.3,314.0 L778.6,313.7 L778.9,313.9 L779.3,314.1 L779.6,314.5 L779.9,314.4 L780.2,312.2 L780.5,308.9 L780.9,305.6 L781.2,301.5 L781.5,298.5 L781.8,294.9 L782.1,291.8 L782.4,290.2 L782.8,291.2 L783.1,291.1 L783.4,289.6 L783.7,287.6 L784.0,287.5 L784.4,288.3 L784.7,289.0 L785.0,289.8 L785.3,290.6 L785.6,291.2 L785.9,289.5 L786.3,287.8 L786.6,287.0 L786.9,287.7 L787.2,288.4 L787.5,289.3 L787.9,290.3 L788.2,291.5 L788.5,290.0 L788.8,287.5 L789.1,285.0 L789.4,285.4 L789.8,286.0 L790.1,286.2 L790.4,284.8 L790.7,283.1 L791.0,281.5 L791.4,280.5 L791.7,279.7 L792.0,279.2 L792.3,278.9 L792.6,279.1 L792.9,280.1 L793.3,281.6 L793.6,283.2 L793.9,282.5 L794.2,281.3 L794.5,280.2 L794.9,281.0 L795.2,281.6 L795.5,281.6 L795.8,281.1 L796.1,280.3 L796.4,279.1 L796.8,277.3 L797.1,275.6 L797.4,274.5 L797.7,273.7 L798.0,273.2 L798.4,272.5 L798.7,272.0 L799.0,272.0 L799.3,273.3 L799.6,274.9 L799.9,276.2 L800.3,276.7 L800.6,277.1 L800.9,277.9 L801.2,279.3 L801.5,280.5 L801.9,279.7 L802.2,277.7 L802.5,275.5 L802.8,273.6 L803.1,271.7 L803.4,269.9 L803.8,268.5 L804.1,267.2 L804.4,266.6 L804.7,267.4 L805.0,268.6 L805.4,269.5 L805.7,269.8 L806.0,270.2 L806.3,270.0 L806.6,269.4 L806.9,268.6 L807.3,269.7 L807.6,271.0 L807.9,272.1 L808.2,271.0 L808.5,269.8 L808.9,268.6 L809.2,267.6 L809.5,266.5 L809.8,266.3 L810.1,267.3 L810.4,268.3 L810.8,268.2 L811.1,267.2 L811.4,266.3 L811.7,267.0 L812.0,268.2 L812.4,266.6 L812.7,262.9 L813.0,259.1 L813.3,253.9 L813.6,249.5 L813.9,245.4 L814.3,244.8 L814.6,244.8 L814.9,245.2 L815.2,245.1 L815.5,244.3 L815.9,243.3 L816.2,242.4 L816.5,241.5 L816.8,240.4 L817.1,242.1 L817.4,244.1 L817.8,245.8 L818.1,245.4 L818.4,245.1 L818.7,245.0 L819.0,244.4 L819.4,243.5 L819.7,243.3 L820.0,244.1 L820.3,245.0 L820.6,244.2 L820.9,242.8 L821.3,241.4 L821.6,240.9 L821.9,240.3 L822.2,239.3 L822.5,238.6 L822.9,237.7 L823.2,236.4 L823.5,234.4 L823.8,232.8 L824.1,232.6 L824.4,233.8 L824.8,235.4 L825.1,235.1 L825.4,234.1 L825.7,233.1 L826.0,235.0 L826.4,237.1 L826.7,238.7 L827.0,238.0 L827.3,236.9 L827.6,235.6 L827.9,234.5 L828.3,233.2 L828.6,232.0 L828.9,230.8 L829.2,229.7 L829.5,228.2 L829.9,226.7 L830.2,225.5 L830.5,225.8 L830.8,226.7 L831.1,227.9 L831.4,229.1 L831.8,230.3 L832.1,231.3 L832.4,231.3 L832.7,231.0 L833.0,230.4 L833.3,229.5 L833.7,228.3 L834.0,228.0 L834.3,228.3 L834.6,228.5 L834.9,227.5 L835.3,226.3 L835.6,225.1 L835.9,223.7 L836.2,222.6 L836.5,222.0 L836.8,222.6 L837.2,223.6 L837.5,224.9 L837.8,226.7 L838.1,228.5 L838.4,228.0 L838.8,225.9 L839.1,223.5 L839.4,223.2 L839.7,223.3 L840.0,223.2 L840.3,225.9 L840.7,228.5 L841.0,230.3 L841.3,228.6 L841.6,227.0 L841.9,225.9 L842.3,225.5 L842.6,225.1 L842.9,224.8 L843.2,224.3 L843.5,222.1 L843.8,219.7 L844.2,217.5 L844.5,215.2 L844.8,213.5 L845.1,210.3 L845.4,207.1 L845.8,203.8 L846.1,203.3 L846.4,203.5 L846.7,203.2 L847.0,203.0 L847.3,202.4 L847.7,201.6 L848.0,201.0 L848.3,202.1 L848.6,203.5 L848.9,204.9 L849.3,204.8 L849.6,204.7 L849.9,204.4 L850.2,203.6 L850.5,203.1 L850.8,203.4 L851.2,204.8 L851.5,205.9 L851.8,205.8 L852.1,204.4 L852.4,203.0 L852.8,202.6 L853.1,202.6 L853.4,202.5 L853.7,201.6 L854.0,200.1 L854.3,198.5 L854.7,197.9 L855.0,197.3 L855.3,196.6 L855.6,195.8 L855.9,195.3 L856.3,195.0 L856.6,194.8 L856.9,194.9 L857.2,195.3 L857.5,195.9 L857.8,196.4 L858.2,197.3 L858.5,198.2 L858.8,198.5 L859.1,197.8 L859.4,196.7 L859.8,195.3 L860.1,193.7 L860.4,192.0 L860.7,190.4 L861.0,189.0 L861.3,187.7 L861.7,186.5 L862.0,185.7 L862.3,185.1 L862.6,186.8 L862.9,189.0 L863.3,191.3 L863.6,191.9 L863.9,192.4 L864.2,193.2 L864.5,195.0 L864.8,196.6 L865.2,195.7 L865.5,192.0 L865.8,188.1 L866.1,187.3 L866.4,188.1 L866.8,188.9 L867.1,187.6 L867.4,186.1 L867.7,184.7 L868.0,183.7 L868.3,182.8 L868.7,182.6 L869.0,184.0 L869.3,185.7 L869.6,186.4 L869.9,185.7 L870.3,185.0 L870.6,185.2 L870.9,185.8 L871.2,186.2 L871.5,187.1 L871.8,188.0 L872.2,188.8 L872.5,186.8 L872.8,184.8 L873.1,183.1 L873.4,182.1 L873.8,181.2 L874.1,181.5 L874.4,183.5 L874.7,185.5 L875.0,185.2 L875.3,181.8 L875.7,177.4 L876.0,174.9 L876.3,172.9 L876.6,170.9 L876.9,167.0 L877.3,163.1 L877.6,159.0 L877.9,157.3 L878.2,157.4 L878.5,157.7 L878.8,157.6 L879.2,157.2 L879.5,157.4 L879.8,158.5 L880.1,159.7 L880.4,159.4 L880.8,158.4 L881.1,157.5 L881.4,158.2 L881.7,159.0 L882.0,159.5 L882.3,158.8 L882.7,158.3 L883.0,158.3 L883.3,159.2 L883.6,160.1 L883.9,160.1 L884.3,159.5 L884.6,158.8 L884.9,157.5 L885.2,156.0 L885.5,154.3 L885.8,154.3 L886.2,154.2 L886.5,153.7 L886.8,152.6 L887.1,151.7 L887.4,151.1 L887.8,151.1 L888.1,151.6 L888.4,151.9 L888.7,152.0 L889.0,152.4 L889.3,152.6 L889.7,152.7 L890.0,152.6 L890.3,152.4 L890.6,152.0 L890.9,151.3 L891.3,151.1 L891.6,150.6 L891.9,149.8 L892.2,148.6 L892.5,147.3 L892.8,146.3 L893.2,145.7 L893.5,145.3 L893.8,144.1 L894.1,142.9 L894.4,142.0 L894.8,143.3 L895.1,145.2 L895.4,147.1 L895.7,148.0 L896.0,148.8 L896.3,149.0 L896.7,148.1 L897.0,146.8 L897.3,146.0 L897.6,145.9 L897.9,145.5 L898.2,144.9 L898.6,144.0 L898.9,143.1 L899.2,142.3 L899.5,141.6 L899.8,141.0 L900.2,140.3 L900.5,139.7 L900.8,139.4 L901.1,139.1 L901.4,138.9 L901.7,139.2 L902.1,140.0 L902.4,140.7 L902.7,141.8 L903.0,143.0 L903.3,143.9 L903.7,142.7 L904.0,141.1 L904.3,139.5 L904.6,139.2 L904.9,138.9 L905.2,138.8 L905.6,139.4 L905.9,140.0 L906.2,139.8 L906.5,138.4 L906.8,137.0 L907.2,136.7 L907.5,136.2 L907.8,134.1 L908.1,131.4 L908.4,128.6 L908.7,124.7 L909.1,119.9 L909.4,114.7 L909.7,111.3 L910.0,110.9 L910.3,110.9 L910.7,111.8 L911.0,113.6 L911.3,115.0 L911.6,115.1 L911.9,114.4 L912.2,113.7 L912.6,114.0 L912.9,114.8 L913.2,115.7 L913.5,113.4 L913.8,110.9 L914.2,109.4 L914.5,111.7 L914.8,114.0 L915.1,114.7 L915.4,113.3 L915.7,111.9 L916.1,111.9 L916.4,113.1 L916.7,114.2 L917.0,113.6 L917.3,112.3 L917.7,110.6 L918.0,108.5 L918.3,106.2 L918.6,104.3 L918.9,106.4 L919.2,108.7 L919.6,109.7 L919.9,107.9 L920.2,106.4 L920.5,105.7 L920.8,105.6 L921.2,105.7 L921.5,106.6 L921.8,107.7 L922.1,108.6 L922.4,109.2 L922.7,109.4 L923.1,109.1 L923.4,106.3 L923.7,103.3 L924.0,101.2 L924.3,101.5 L924.7,101.8 L925.0,102.1 L925.3,102.5 L925.6,103.1 L925.9,101.9 L926.2,100.2 L926.6,98.7 L926.9,100.7 L927.2,103.4 L927.5,105.7 L927.8,104.3 L928.2,102.7 L928.5,101.7 L928.8,102.8 L929.1,103.6 L929.4,103.4 L929.7,102.0 L930.1,100.5 L930.4,98.7 L930.7,96.7 L931.0,94.9 L931.3,94.5 L931.7,94.6 L932.0,94.8 L932.3,95.6 L932.6,96.7 L932.9,97.8 L933.2,98.5 L933.6,99.3 L933.9,99.1 L934.2,97.6 L934.5,95.9 L934.8,95.4 L935.2,95.6 L935.5,95.6 L935.8,96.1 L936.1,96.8 L936.4,97.4 L936.7,95.7 L937.1,94.1 L937.4,93.0 L937.7,93.0 L938.0,93.1 L938.3,93.0 L938.7,92.8 L939.0,92.5 L939.3,93.5 L939.6,95.4 L939.6,172.7 L939.3,171.7 L939.0,171.3 L938.7,171.9 L938.3,172.4 L938.0,172.7 L937.7,172.9 L937.4,173.1 L937.1,173.9 L936.7,174.9 L936.4,176.0 L936.1,175.7 L935.8,175.3 L935.5,175.1 L935.2,175.7 L934.8,176.1 L934.5,176.1 L934.2,175.6 L933.9,174.9 L933.6,174.6 L933.2,174.7 L932.9,175.0 L932.6,174.5 L932.3,174.1 L932.0,173.9 L931.7,174.5 L931.3,175.3 L931.0,176.3 L930.7,177.0 L930.4,177.7 L930.1,178.6 L929.7,179.4 L929.4,180.1 L929.1,180.7 L928.8,181.0 L928.5,181.0 L928.2,181.1 L927.8,181.2 L927.5,181.0 L927.2,178.7 L926.9,176.3 L926.6,174.2 L926.2,173.9 L925.9,173.8 L925.6,175.1 L925.3,178.8 L925.0,182.8 L924.7,184.4 L924.3,183.6 L924.0,182.9 L923.7,183.8 L923.4,185.3 L923.1,186.5 L922.7,187.0 L922.4,187.1 L922.1,186.9 L921.8,187.1 L921.5,187.1 L921.2,186.7 L920.8,185.8 L920.5,185.0 L920.2,184.5 L919.9,184.3 L919.6,184.4 L919.2,184.6 L918.9,185.0 L918.6,185.6 L918.3,186.1 L918.0,186.5 L917.7,186.7 L917.3,187.5 L917.0,187.9 L916.7,188.1 L916.4,188.1 L916.1,188.1 L915.7,188.1 L915.4,188.4 L915.1,188.7 L914.8,190.2 L914.5,192.1 L914.2,193.8 L913.8,192.9 L913.5,191.7 L913.2,190.5 L912.9,190.9 L912.6,191.4 L912.2,192.0 L911.9,192.9 L911.6,193.8 L911.3,193.9 L911.0,193.2 L910.7,191.9 L910.3,190.9 L910.0,190.3 L909.7,190.2 L909.4,193.0 L909.1,197.6 L908.7,201.7 L908.4,205.2 L908.1,207.7 L907.8,210.4 L907.5,214.1 L907.2,216.1 L906.8,216.3 L906.5,215.2 L906.2,214.2 L905.9,214.0 L905.6,214.5 L905.2,215.0 L904.9,216.9 L904.6,219.1 L904.3,221.4 L904.0,221.2 L903.7,221.0 L903.3,220.7 L903.0,220.5 L902.7,220.0 L902.4,219.5 L902.1,219.2 L901.7,218.8 L901.4,218.5 L901.1,218.3 L900.8,218.4 L900.5,218.4 L900.2,218.7 L899.8,219.2 L899.5,220.4 L899.2,221.8 L898.9,223.1 L898.6,223.1 L898.2,223.1 L897.9,223.5 L897.6,224.6 L897.3,225.5 L897.0,226.5 L896.7,227.6 L896.3,228.3 L896.0,228.2 L895.7,227.8 L895.4,227.3 L895.1,225.2 L894.8,223.2 L894.4,221.5 L894.1,221.1 L893.8,220.9 L893.5,221.1 L893.2,221.5 L892.8,222.2 L892.5,223.5 L892.2,225.5 L891.9,227.4 L891.6,228.7 L891.3,229.7 L890.9,230.3 L890.6,232.1 L890.3,233.6 L890.0,234.4 L889.7,231.7 L889.3,228.8 L889.0,226.3 L888.7,225.0 L888.4,224.0 L888.1,224.2 L887.8,225.9 L887.4,227.9 L887.1,229.4 L886.8,230.7 L886.5,232.1 L886.2,232.3 L885.8,232.2 L885.5,231.9 L885.2,234.3 L884.9,236.6 L884.6,238.2 L884.3,238.0 L883.9,237.8 L883.6,237.8 L883.3,238.0 L883.0,238.3 L882.7,238.1 L882.3,237.7 L882.0,237.5 L881.7,237.3 L881.4,237.0 L881.1,236.7 L880.8,237.2 L880.4,237.8 L880.1,238.1 L879.8,237.9 L879.5,237.9 L879.2,238.2 L878.8,238.5 L878.5,238.4 L878.2,237.6 L877.9,236.7 L877.6,237.7 L877.3,241.8 L876.9,245.9 L876.6,249.9 L876.3,252.0 L876.0,254.0 L875.7,256.1 L875.3,258.4 L875.0,259.8 L874.7,260.3 L874.4,261.6 L874.1,263.0 L873.8,263.8 L873.4,264.4 L873.1,265.2 L872.8,265.3 L872.5,265.3 L872.2,265.3 L871.8,265.4 L871.5,265.5 L871.2,265.8 L870.9,267.2 L870.6,268.4 L870.3,268.1 L869.9,265.8 L869.6,263.4 L869.3,262.1 L869.0,261.7 L868.7,261.5 L868.3,261.5 L868.0,261.8 L867.7,262.2 L867.4,265.1 L867.1,268.1 L866.8,270.9 L866.4,271.6 L866.1,272.3 L865.8,272.9 L865.5,273.5 L865.2,273.8 L864.8,273.3 L864.5,271.9 L864.2,270.2 L863.9,269.5 L863.6,269.2 L863.3,268.9 L862.9,267.9 L862.6,267.2 L862.3,266.9 L862.0,268.1 L861.7,269.6 L861.3,270.3 L861.0,269.1 L860.7,268.1 L860.4,268.6 L860.1,270.4 L859.8,272.0 L859.4,273.5 L859.1,274.8 L858.8,275.8 L858.5,275.7 L858.2,275.1 L857.8,274.3 L857.5,273.7 L857.2,273.1 L856.9,272.6 L856.6,272.7 L856.3,273.0 L855.9,272.2 L855.6,270.1 L855.3,268.5 L855.0,270.4 L854.7,273.9 L854.3,277.3 L854.0,279.1 L853.7,280.5 L853.4,281.4 L853.1,281.8 L852.8,282.2 L852.4,282.4 L852.1,282.3 L851.8,282.2 L851.5,282.7 L851.2,284.0 L850.8,285.0 L850.5,284.9 L850.2,284.4 L849.9,284.3 L849.6,282.6 L849.3,280.6 L848.9,278.8 L848.6,280.0 L848.3,281.0 L848.0,281.3 L847.7,279.9 L847.3,278.8 L847.0,277.9 L846.7,277.2 L846.4,276.6 L846.1,277.5 L845.8,280.4 L845.4,285.9 L845.1,290.2 L844.8,294.2 L844.5,296.8 L844.2,298.8 L843.8,300.8 L843.5,302.8 L843.2,304.3 L842.9,304.0 L842.6,303.7 L842.3,303.5 L841.9,303.4 L841.6,304.7 L841.3,307.1 L841.0,309.5 L840.7,309.3 L840.3,308.5 L840.0,307.7 L839.7,308.8 L839.4,309.8 L839.1,310.1 L838.8,308.3 L838.4,306.3 L838.1,304.6 L837.8,303.8 L837.5,303.1 L837.2,302.4 L836.8,301.9 L836.5,301.7 L836.2,302.2 L835.9,303.0 L835.6,304.1 L835.3,304.9 L834.9,305.8 L834.6,306.8 L834.3,307.9 L834.0,309.0 L833.7,310.4 L833.3,312.5 L833.0,314.4 L832.7,313.7 L832.4,310.8 L832.1,307.7 L831.8,307.1 L831.4,307.3 L831.1,307.7 L830.8,305.7 L830.5,303.8 L830.2,302.7 L829.9,304.9 L829.5,307.4 L829.2,309.2 L828.9,309.3 L828.6,309.5 L828.3,310.4 L827.9,312.0 L827.6,313.4 L827.3,314.4 L827.0,315.2 L826.7,315.6 L826.4,315.6 L826.0,315.2 L825.7,314.6 L825.4,312.8 L825.1,311.0 L824.8,309.8 L824.4,309.8 L824.1,310.1 L823.8,310.0 L823.5,309.4 L823.2,309.1 L822.9,311.6 L822.5,315.3 L822.2,318.8 L821.9,320.1 L821.6,320.8 L821.3,321.3 L820.9,321.9 L820.6,322.4 L820.3,322.9 L820.0,323.3 L819.7,323.8 L819.4,324.2 L819.0,324.1 L818.7,323.8 L818.4,323.3 L818.1,323.0 L817.8,322.8 L817.4,322.5 L817.1,322.1 L816.8,321.9 L816.5,322.0 L816.2,321.8 L815.9,322.0 L815.5,323.0 L815.2,323.9 L814.9,323.6 L814.6,322.5 L814.3,321.6 L813.9,322.3 L813.6,327.2 L813.3,332.3 L813.0,337.1 L812.7,340.3 L812.4,343.4 L812.0,346.0 L811.7,345.9 L811.4,346.0 L811.1,347.3 L810.8,348.6 L810.4,348.9 L810.1,347.6 L809.8,346.4 L809.5,346.9 L809.2,348.6 L808.9,350.3 L808.5,349.7 L808.2,348.5 L807.9,347.2 L807.6,348.0 L807.3,348.6 L806.9,348.9 L806.6,348.4 L806.3,347.9 L806.0,347.3 L805.7,347.0 L805.4,346.8 L805.0,346.7 L804.7,346.8 L804.4,347.2 L804.1,348.6 L803.8,350.5 L803.4,352.5 L803.1,353.2 L802.8,353.9 L802.5,354.4 L802.2,354.1 L801.9,353.7 L801.5,354.0 L801.2,355.7 L800.9,357.2 L800.6,357.8 L800.3,357.9 L799.9,357.7 L799.6,356.4 L799.3,354.8 L799.0,353.4 L798.7,352.5 L798.4,351.9 L798.0,351.6 L797.7,351.8 L797.4,352.1 L797.1,352.7 L796.8,353.5 L796.4,354.4 L796.1,356.3 L795.8,359.2 L795.5,361.9 L795.2,362.1 L794.9,361.3 L794.5,360.2 L794.2,358.7 L793.9,357.1 L793.6,355.6 L793.3,356.2 L792.9,356.9 L792.6,357.5 L792.3,357.4 L792.0,357.8 L791.7,359.0 L791.4,360.8 L791.0,362.9 L790.7,364.7 L790.4,366.2 L790.1,367.4 L789.8,368.1 L789.4,368.6 L789.1,369.0 L788.8,368.6 L788.5,368.1 L788.2,367.7 L787.9,367.3 L787.5,366.9 L787.2,366.3 L786.9,365.5 L786.6,364.6 L786.3,364.9 L785.9,366.0 L785.6,366.9 L785.3,367.8 L785.0,368.8 L784.7,369.8 L784.4,370.6 L784.0,371.3 L783.7,371.7 L783.4,370.3 L783.1,368.4 L782.8,367.3 L782.4,367.4 L782.1,370.1 L781.8,374.9 L781.5,380.4 L781.2,385.2 L780.9,388.5 L780.5,390.3 L780.2,392.3 L779.9,395.4 L779.6,396.3 L779.3,396.3 L778.9,394.6 L778.6,392.8 L778.3,392.3 L778.0,393.5 L777.7,394.8 L777.4,395.6 L777.0,396.3 L776.7,396.9 L776.4,398.1 L776.1,399.2 L775.8,400.3 L775.4,398.5 L775.1,396.4 L774.8,394.5 L774.5,394.1 L774.2,393.6 L773.9,392.7 L773.5,391.2 L773.2,389.9 L772.9,391.1 L772.6,394.1 L772.3,397.3 L771.9,396.5 L771.6,394.8 L771.3,393.2 L771.0,393.7 L770.7,394.3 L770.4,395.0 L770.0,396.5 L769.7,397.7 L769.4,398.0 L769.1,396.6 L768.8,394.9 L768.4,393.0 L768.1,391.1 L767.8,389.1 L767.5,388.4 L767.2,388.2 L766.9,388.3 L766.5,386.9 L766.2,385.8 L765.9,385.3 L765.6,386.6 L765.3,388.1 L765.0,389.4 L764.6,390.2 L764.3,391.0 L764.0,390.4 L763.7,388.4 L763.4,386.3 L763.0,386.3 L762.7,387.0 L762.4,387.4 L762.1,384.8 L761.8,382.0 L761.5,379.7 L761.1,380.5 L760.8,381.6 L760.5,382.0 L760.2,380.8 L759.9,380.0 L759.5,380.2 L759.2,381.1 L758.9,382.1 L758.6,382.7 L758.3,382.8 L758.0,382.5 L757.6,380.8 L757.3,378.9 L757.0,377.1 L756.7,377.2 L756.4,377.3 L756.0,377.6 L755.7,378.6 L755.4,379.5 L755.1,379.8 L754.8,379.7 L754.5,379.8 L754.1,379.1 L753.8,377.7 L753.5,376.3 L753.2,374.8 L752.9,373.3 L752.5,371.5 L752.2,369.7 L751.9,368.1 L751.6,367.4 L751.3,368.5 L751.0,369.3 L750.6,369.6 L750.3,370.9 L750.0,374.1 L749.7,377.6 L749.4,380.6 L749.0,383.6 L748.7,384.2 L748.4,384.6 L748.1,385.1 L747.8,385.7 L747.5,385.3 L747.1,385.2 L746.8,386.3 L746.5,387.3 L746.2,387.5 L745.9,386.5 L745.5,385.5 L745.2,384.9 L744.9,384.4 L744.6,384.0 L744.3,382.4 L744.0,380.6 L743.6,378.7 L743.3,379.1 L743.0,379.4 L742.7,378.8 L742.4,375.6 L742.0,372.4 L741.7,370.1 L741.4,369.2 L741.1,368.5 L740.8,368.2 L740.5,368.2 L740.1,368.4 L739.8,369.6 L739.5,371.3 L739.2,373.2 L738.9,371.9 L738.5,370.6 L738.2,369.7 L737.9,371.0 L737.6,372.2 L737.3,372.3 L737.0,370.8 L736.6,369.1 L736.3,367.6 L736.0,366.4 L735.7,365.3 L735.4,362.9 L735.0,360.3 L734.7,358.1 L734.4,358.1 L734.1,358.5 L733.8,359.1 L733.5,359.1 L733.1,359.2 L732.8,360.0 L732.5,362.0 L732.2,363.9 L731.9,364.6 L731.5,364.3 L731.2,363.7 L730.9,362.6 L730.6,361.1 L730.3,359.4 L730.0,357.9 L729.6,356.5 L729.3,355.1 L729.0,353.1 L728.7,351.4 L728.4,350.7 L728.0,351.9 L727.7,353.4 L727.4,354.6 L727.1,355.3 L726.8,355.7 L726.5,354.4 L726.1,352.2 L725.8,349.5 L725.5,350.2 L725.2,351.3 L724.9,352.0 L724.5,350.7 L724.2,349.3 L723.9,348.8 L723.6,349.9 L723.3,350.8 L723.0,350.0 L722.6,348.0 L722.3,346.4 L722.0,345.1 L721.7,344.1 L721.4,343.2 L721.0,341.9 L720.7,340.3 L720.4,338.7 L720.1,337.4 L719.8,336.2 L719.5,335.0 L719.1,334.7 L718.8,334.5 L718.5,334.4 L718.2,334.9 L717.9,336.2 L717.5,337.5 L717.2,338.8 L716.9,339.0 L716.6,339.1 L716.3,339.2 L716.0,338.4 L715.6,338.7 L715.3,339.1 L715.0,338.9 L714.7,337.1 L714.4,335.5 L714.0,334.2 L713.7,333.6 L713.4,333.0 L713.1,331.9 L712.8,330.5 L712.5,329.0 L712.1,327.6 L711.8,326.2 L711.5,324.5 L711.2,322.8 L710.9,320.8 L710.5,318.6 L710.2,315.8 L709.9,313.2 L709.6,310.8 L709.3,308.8 L709.0,307.2 L708.6,306.1 L708.3,305.4 L708.0,304.9 L707.7,304.5 L707.4,304.2 L707.0,303.9 L706.7,304.9 L706.4,305.8 L706.1,306.1 L705.8,304.2 L705.5,302.1 L705.1,300.4 L704.8,299.6 L704.5,298.6 L704.2,297.0 L703.9,294.9 L703.5,292.9 L703.2,291.4 L702.9,290.4 L702.6,289.7 L702.3,288.8 L702.0,288.5 L701.6,289.1 L701.3,289.5 L701.0,289.9 L700.7,290.6 L700.4,291.9 L700.1,292.9 L699.7,293.3 L699.4,293.1 L699.1,292.6 L698.8,291.2 L698.5,289.4 L698.1,287.4 L697.8,287.9 L697.5,288.7 L697.2,289.5 L696.9,289.6 L696.6,290.0 L696.2,290.3 L695.9,289.7 L695.6,289.3 L695.3,289.5 L695.0,290.0 L694.6,290.3 L694.3,291.5 L694.0,292.8 L693.7,293.9 L693.4,293.0 L693.1,291.9 L692.7,291.1 L692.4,292.6 L692.1,294.1 L691.8,294.9 L691.5,293.4 L691.1,291.7 L690.8,290.8 L690.5,291.0 L690.2,291.2 L689.9,291.0 L689.6,290.6 L689.2,290.4 L688.9,290.2 L688.6,289.9 L688.3,289.7 L688.0,289.1 L687.6,288.1 L687.3,287.5 L687.0,289.0 L686.7,290.8 L686.4,293.0 L686.1,297.0 L685.7,301.0 L685.4,304.0 L685.1,305.1 L684.8,306.2 L684.5,308.9 L684.1,309.9 L683.8,310.7 L683.5,309.6 L683.2,308.4 L682.9,307.8 L682.6,308.7 L682.2,309.6 L681.9,310.2 L681.6,310.4 L681.3,310.5 L681.0,310.9 L680.6,311.4 L680.3,311.9 L680.0,312.5 L679.7,312.9 L679.4,312.9 L679.1,310.5 L678.7,308.0 L678.4,306.0 L678.1,306.4 L677.8,306.9 L677.5,307.1 L677.1,306.8 L676.8,306.9 L676.5,308.6 L676.2,311.1 L675.9,313.7 L675.6,313.9 L675.2,313.6 L674.9,313.3 L674.6,314.7 L674.3,315.9 L674.0,317.0 L673.6,317.8 L673.3,318.3 L673.0,318.6 L672.7,318.8 L672.4,318.9 L672.1,318.4 L671.7,317.8 L671.4,317.3 L671.1,318.0 L670.8,319.2 L670.5,320.8 L670.1,321.9 L669.8,323.2 L669.5,324.8 L669.2,326.6 L668.9,328.5 L668.6,330.2 L668.2,331.4 L667.9,332.5 L667.6,333.8 L667.3,335.1 L667.0,336.1 L666.6,335.9 L666.3,335.2 L666.0,334.5 L665.7,334.7 L665.4,335.2 L665.1,335.9 L664.7,336.7 L664.4,338.0 L664.1,339.6 L663.8,341.3 L663.5,343.1 L663.1,344.4 L662.8,344.9 L662.5,345.1 L662.2,347.2 L661.9,350.0 L661.6,352.8 L661.2,353.5 L660.9,353.9 L660.6,354.4 L660.3,355.1 L660.0,355.8 L659.6,355.9 L659.3,355.0 L659.0,354.1 L658.7,354.6 L658.4,356.3 L658.1,358.0 L657.7,358.7 L657.4,359.1 L657.1,359.5 L656.8,360.2 L656.5,361.1 L656.1,362.2 L655.8,362.4 L655.5,362.2 L655.2,362.4 L654.9,364.0 L654.6,366.4 L654.2,369.8 L653.9,372.1 L653.6,374.5 L653.3,376.5 L653.0,379.0 L652.6,381.6 L652.3,383.0 L652.0,384.1 L651.7,383.1 L651.4,384.9 L651.1,386.6 L650.7,387.8 L650.4,387.5 L650.1,387.2 L649.8,386.3 L649.5,384.5 L649.1,382.8 L648.8,382.9 L648.5,384.0 L648.2,385.1 L647.9,384.2 L647.6,382.7 L647.2,381.0 L646.9,380.8 L646.6,380.6 L646.3,380.4 L646.0,380.2 L645.6,380.3 L645.3,380.3 L645.0,379.8 L644.7,379.7 L644.4,379.5 L644.1,379.3 L643.7,379.3 L643.4,381.4 L643.1,383.8 L642.8,386.2 L642.5,384.6 L642.1,382.8 L641.8,381.3 L641.5,381.4 L641.2,381.2 L640.9,380.6 L640.6,379.5 L640.2,378.3 L639.9,376.5 L639.6,374.5 L639.3,372.8 L639.0,372.8 L638.6,373.6 L638.3,374.7 L638.0,374.4 L637.7,374.2 L637.4,374.2 L637.1,374.8 L636.7,375.3 L636.4,376.1 L636.1,377.5 L635.8,378.7 L635.5,378.0 L635.2,375.7 L634.8,373.1 L634.5,372.0 L634.2,371.3 L633.9,370.6 L633.6,370.0 L633.2,369.6 L632.9,369.4 L632.6,370.1 L632.3,371.2 L632.0,371.6 L631.7,370.4 L631.3,369.2 L631.0,369.4 L630.7,370.7 L630.4,371.6 L630.1,370.1 L629.7,367.7 L629.4,365.3 L629.1,366.3 L628.8,367.7 L628.5,368.8 L628.2,368.5 L627.8,368.0 L627.5,366.8 L627.2,364.9 L626.9,363.4 L626.6,362.3 L626.2,361.5 L625.9,360.7 L625.6,359.9 L625.3,358.9 L625.0,357.8 L624.7,357.0 L624.3,356.5 L624.0,356.0 L623.7,355.5 L623.4,354.9 L623.1,353.6 L622.7,352.1 L622.4,352.0 L622.1,354.9 L621.8,359.8 L621.5,365.0 L621.2,367.6 L620.8,369.5 L620.5,371.4 L620.2,370.3 L619.9,368.8 L619.6,367.3 L619.2,365.7 L618.9,364.1 L618.6,362.7 L618.3,361.3 L618.0,360.0 L617.7,360.0 L617.3,361.3 L617.0,362.7 L616.7,362.8 L616.4,362.1 L616.1,361.3 L615.7,359.8 L615.4,357.9 L615.1,356.0 L614.8,354.1 L614.5,352.3 L614.2,350.7 L613.8,349.4 L613.5,348.3 L613.2,348.1 L612.9,348.9 L612.6,349.8 L612.2,350.7 L611.9,351.6 L611.6,352.5 L611.3,352.5 L611.0,352.1 L610.7,351.6 L610.3,350.5 L610.0,349.2 L609.7,348.0 L609.4,348.0 L609.1,347.8 L608.7,346.5 L608.4,343.9 L608.1,341.3 L607.8,338.7 L607.5,336.1 L607.2,334.0 L606.8,334.5 L606.5,336.0 L606.2,338.4 L605.9,340.6 L605.6,342.8 L605.2,344.6 L604.9,344.2 L604.6,343.8 L604.3,344.0 L604.0,345.3 L603.7,346.4 L603.3,346.0 L603.0,344.6 L602.7,343.0 L602.4,342.4 L602.1,342.1 L601.7,341.9 L601.4,341.2 L601.1,340.8 L600.8,340.9 L600.5,342.0 L600.2,343.4 L599.8,344.7 L599.5,345.5 L599.2,346.2 L598.9,347.1 L598.6,348.0 L598.2,348.6 L597.9,349.1 L597.6,349.5 L597.3,349.9 L597.0,350.3 L596.7,350.9 L596.3,351.2 L596.0,350.3 L595.7,349.0 L595.4,348.5 L595.1,350.4 L594.7,352.5 L594.4,353.0 L594.1,351.9 L593.8,350.9 L593.5,351.4 L593.2,352.3 L592.8,353.1 L592.5,351.2 L592.2,349.1 L591.9,346.8 L591.6,346.9 L591.2,347.2 L590.9,348.2 L590.6,353.0 L590.3,359.3 L590.0,363.5 L589.7,366.0 L589.3,367.5 L589.0,371.2 L588.7,373.9 L588.4,375.6 L588.1,375.4 L587.7,374.8 L587.4,374.3 L587.1,374.4 L586.8,374.5 L586.5,374.8 L586.2,375.2 L585.8,375.7 L585.5,375.1 L585.2,373.2 L584.9,371.2 L584.6,371.0 L584.2,371.6 L583.9,372.0 L583.6,372.8 L583.3,373.7 L583.0,374.3 L582.7,371.8 L582.3,369.4 L582.0,367.8 L581.7,368.4 L581.4,369.3 L581.1,370.3 L580.7,371.5 L580.4,372.9 L580.1,373.1 L579.8,372.7 L579.5,372.2 L579.2,373.7 L578.8,375.6 L578.5,377.3 L578.2,377.5 L577.9,377.5 L577.6,377.1 L577.2,376.4 L576.9,375.6 L576.6,374.9 L576.3,374.8 L576.0,374.8 L575.7,374.5 L575.3,374.2 L575.0,374.2 L574.7,374.3 L574.4,374.6 L574.1,375.0 L573.7,374.5 L573.4,373.9 L573.1,373.9 L572.8,376.7 L572.5,379.2 L572.2,380.7 L571.8,380.8 L571.5,380.6 L571.2,379.4 L570.9,377.4 L570.6,375.4 L570.3,374.4 L569.9,373.8 L569.6,373.5 L569.3,374.8 L569.0,376.5 L568.7,378.2 L568.3,377.4 L568.0,376.9 L567.7,377.3 L567.4,379.1 L567.1,380.6 L566.8,381.0 L566.4,380.4 L566.1,379.7 L565.8,380.9 L565.5,382.8 L565.2,384.7 L564.8,383.1 L564.5,381.3 L564.2,380.0 L563.9,381.5 L563.6,382.9 L563.3,383.8 L562.9,383.7 L562.6,383.5 L562.3,382.9 L562.0,382.1 L561.7,381.4 L561.3,382.0 L561.0,383.1 L560.7,384.3 L560.4,382.9 L560.1,380.8 L559.8,378.7 L559.4,379.1 L559.1,380.0 L558.8,382.7 L558.5,386.5 L558.2,390.0 L557.8,394.2 L557.5,398.0 L557.2,401.7 L556.9,403.5 L556.6,403.4 L556.3,403.4 L555.9,402.4 L555.6,401.3 L555.3,400.4 L555.0,401.4 L554.7,402.5 L554.3,403.6 L554.0,404.5 L553.7,405.5 L553.4,405.8 L553.1,405.3 L552.8,404.7 L552.4,405.1 L552.1,405.7 L551.8,406.1 L551.5,405.7 L551.2,405.0 L550.8,404.3 L550.5,402.9 L550.2,401.7 L549.9,401.1 L549.6,402.2 L549.3,403.4 L548.9,404.1 L548.6,404.0 L548.3,404.0 L548.0,404.9 L547.7,406.4 L547.3,407.7 L547.0,408.8 L546.7,409.7 L546.4,410.3 L546.1,410.0 L545.8,409.3 L545.4,408.6 L545.1,408.5 L544.8,408.4 L544.5,408.1 L544.2,408.0 L543.8,408.0 L543.5,406.9 L543.2,405.3 L542.9,403.9 L542.6,404.0 L542.3,404.7 L541.9,405.4 L541.6,407.9 L541.3,410.4 L541.0,412.0 L540.7,410.3 L540.3,408.3 L540.0,407.6 L539.7,409.0 L539.4,410.0 L539.1,410.0 L538.8,409.2 L538.4,408.4 L538.1,408.5 L537.8,409.0 L537.5,409.8 L537.2,410.0 L536.8,410.5 L536.5,411.3 L536.2,411.2 L535.9,411.2 L535.6,411.4 L535.3,411.9 L534.9,412.0 L534.6,412.0 L534.3,412.1 L534.0,412.2 L533.7,412.7 L533.3,413.3 L533.0,413.9 L532.7,414.6 L532.4,415.4 L532.1,415.6 L531.8,413.5 L531.4,411.5 L531.1,410.8 L530.8,411.8 L530.5,412.8 L530.2,413.6 L529.8,414.2 L529.5,414.7 L529.2,413.8 L528.9,412.5 L528.6,411.4 L528.3,410.7 L527.9,409.6 L527.6,408.8 L527.3,409.5 L527.0,412.0 L526.7,417.3 L526.3,421.6 L526.0,426.0 L525.7,429.5 L525.4,433.5 L525.1,436.6 L524.8,436.2 L524.4,435.2 L524.1,434.2 L523.8,435.3 L523.5,436.6 L523.2,437.8 L522.8,436.7 L522.5,435.7 L522.2,434.9 L521.9,434.4 L521.6,433.9 L521.3,433.7 L520.9,433.8 L520.6,433.8 L520.3,434.1 L520.0,434.3 L519.7,434.4 L519.3,433.4 L519.0,432.2 L518.7,431.1 L518.4,430.7 L518.1,430.7 L517.8,430.4 L517.4,429.0 L517.1,427.7 L516.8,427.4 L516.5,428.0 L516.2,428.8 L515.8,430.1 L515.5,431.5 L515.2,432.9 L514.9,434.9 L514.6,436.9 L514.3,438.5 L513.9,436.2 L513.6,433.6 L513.3,431.3 L513.0,431.0 L512.7,430.7 L512.3,429.9 L512.0,428.5 L511.7,427.3 L511.4,428.4 L511.1,430.9 L510.8,433.8 L510.4,434.3 L510.1,434.5 L509.8,434.6 L509.5,434.3 L509.2,433.9 L508.8,433.6 L508.5,434.5 L508.2,435.0 L507.9,435.4 L507.6,435.7 L507.3,435.8 L506.9,434.7 L506.6,433.1 L506.3,431.5 L506.0,431.4 L505.7,431.8 L505.4,432.7 L505.0,431.5 L504.7,430.7 L504.4,430.5 L504.1,431.6 L503.8,432.6 L503.4,434.0 L503.1,435.8 L502.8,437.1 L502.5,437.1 L502.2,436.0 L501.9,434.9 L501.5,434.5 L501.2,434.3 L500.9,434.1 L500.6,434.6 L500.3,434.8 L499.9,434.8 L499.6,434.9 L499.3,435.3 L499.0,435.4 L498.7,434.7 L498.4,434.0 L498.0,434.2 L497.7,434.9 L497.4,435.4 L497.1,436.9 L496.8,439.0 L496.4,440.8 L496.1,439.2 L495.8,437.3 L495.5,435.7 L495.2,435.6 L494.9,439.1 L494.5,442.9 L494.2,446.7 L493.9,448.9 L493.6,451.9 L493.3,455.2 L492.9,455.6 L492.6,456.8 L492.3,458.5 L492.0,460.2 L491.7,459.5 L491.4,458.5 L491.0,457.7 L490.7,457.4 L490.4,457.1 L490.1,457.0 L489.8,457.1 L489.4,457.2 L489.1,456.8 L488.8,455.8 L488.5,454.6 L488.2,454.4 L487.9,454.7 L487.5,454.8 L487.2,453.6 L486.9,452.4 L486.6,451.3 L486.3,450.7 L485.9,450.4 L485.6,450.6 L485.3,451.6 L485.0,452.7 L484.7,453.1 L484.4,452.5 L484.0,451.8 L483.7,451.9 L483.4,452.3 L483.1,452.5 L482.8,452.5 L482.4,452.3 L482.1,451.8 L481.8,450.8 L481.5,449.5 L481.2,448.5 L480.9,448.6 L480.5,448.8 L480.2,448.7 L479.9,448.3 L479.6,448.2 L479.3,448.2 L478.9,448.4 L478.6,448.8 L478.3,449.8 L478.0,451.3 L477.7,452.7 L477.4,452.1 L477.0,451.4 L476.7,451.1 L476.4,453.2 L476.1,454.9 L475.8,455.1 L475.4,453.1 L475.1,451.0 L474.8,450.5 L474.5,451.3 L474.2,452.3 L473.9,451.3 L473.5,450.0 L473.2,449.2 L472.9,449.5 L472.6,450.1 L472.3,451.1 L471.9,453.1 L471.6,454.9 L471.3,456.2 L471.0,456.6 L470.7,456.8 L470.4,457.2 L470.0,457.8 L469.7,458.4 L469.4,458.0 L469.1,457.5 L468.8,456.9 L468.4,455.8 L468.1,454.4 L467.8,453.1 L467.5,453.0 L467.2,453.0 L466.9,453.5 L466.5,455.1 L466.2,456.8 L465.9,456.6 L465.6,454.7 L465.3,452.7 L464.9,452.3 L464.6,452.4 L464.3,451.9 L464.0,452.4 L463.7,453.1 L463.4,454.3 L463.0,458.1 L462.7,462.5 L462.4,466.2 L462.1,470.4 L461.8,473.6 L461.4,476.4 L461.1,476.2 L460.8,475.6 L460.5,474.7 L460.2,473.5 L459.9,472.4 L459.5,473.8 L459.2,475.6 L458.9,477.1 L458.6,476.1 L458.3,475.2 L457.9,474.7 L457.6,475.1 L457.3,475.6 L457.0,475.6 L456.7,475.0 L456.4,474.2 L456.0,473.3 L455.7,472.5 L455.4,471.5 L455.1,470.2 L454.8,468.9 L454.4,468.0 L454.1,468.4 L453.8,469.1 L453.5,470.2 L453.2,471.9 L452.9,473.7 L452.5,474.8 L452.2,475.0 L451.9,475.1 L451.6,475.7 L451.3,476.3 L450.9,476.8 L450.6,475.8 L450.3,474.3 L450.0,472.5 L449.7,472.6 L449.4,472.5 L449.0,472.1 L448.7,470.9 L448.4,469.9 L448.1,469.1 L447.8,468.3 L447.4,467.9 L447.1,467.8 L446.8,468.1 L446.5,468.5 L446.2,470.8 L445.9,473.4 L445.5,475.9 L445.2,475.3 L444.9,474.4 L444.6,473.7 L444.3,474.4 L444.0,474.7 L443.6,474.6 L443.3,474.3 L443.0,473.9 L442.7,473.0 L442.4,472.0 L442.0,471.3 L441.7,471.3 L441.4,471.8 L441.1,472.8 L440.8,472.7 L440.5,472.7 L440.1,473.2 L439.8,474.8 L439.5,476.2 L439.2,476.8 L438.9,476.5 L438.5,476.1 L438.2,475.9 L437.9,475.9 L437.6,476.0 L437.3,477.1 L437.0,478.6 L436.6,480.1 L436.3,478.8 L436.0,477.3 L435.7,476.1 L435.4,475.1 L435.0,473.9 L434.7,473.3 L434.4,473.5 L434.1,473.8 L433.8,473.9 L433.5,474.1 L433.1,474.5 L432.8,473.9 L432.5,472.6 L432.2,471.0 L431.9,470.1 L431.5,469.8 L431.2,472.8 L430.9,477.5 L430.6,481.6 L430.3,486.2 L430.0,490.8 L429.6,495.4 L429.3,496.3 L429.0,495.1 L428.7,493.8 L428.4,492.8 L428.0,492.1 L427.7,491.3 L427.4,491.4 L427.1,491.5 L426.8,491.9 L426.5,493.4 L426.1,494.8 L425.8,495.8 L425.5,495.4 L425.2,495.0 L424.9,493.7 L424.5,491.5 L424.2,489.0 L423.9,487.7 L423.6,487.1 L423.3,486.5 L423.0,485.9 L422.6,485.5 L422.3,485.4 L422.0,486.2 L421.7,487.3 L421.4,488.5 L421.0,489.7 L420.7,491.0 L420.4,491.6 L420.1,491.2 L419.8,490.8 L419.5,491.1 L419.1,491.7 L418.8,492.0 L418.5,492.6 L418.2,493.0 L417.9,493.0 L417.5,490.0 L417.2,486.8 L416.9,484.3 L416.6,484.0 L416.3,484.0 L416.0,483.5 L415.6,482.5 L415.3,481.7 L415.0,483.2 L414.7,485.9 L414.4,488.8 L414.0,489.5 L413.7,489.6 L413.4,489.7 L413.1,488.9 L412.8,487.8 L412.5,486.7 L412.1,486.3 L411.8,485.7 L411.5,484.8 L411.2,484.1 L410.9,483.3 L410.5,482.6 L410.2,482.1 L409.9,481.9 L409.6,481.6 L409.3,481.8 L409.0,482.3 L408.6,483.6 L408.3,484.9 L408.0,486.0 L407.7,486.3 L407.4,486.1 L407.0,485.7 L406.7,485.3 L406.4,484.9 L406.1,485.2 L405.8,485.9 L405.5,486.7 L405.1,486.7 L404.8,486.4 L404.5,485.7 L404.2,485.0 L403.9,484.4 L403.5,484.3 L403.2,484.8 L402.9,485.2 L402.6,485.1 L402.3,484.1 L402.0,482.9 L401.6,481.5 L401.3,480.1 L401.0,478.8 L400.7,477.5 L400.4,476.0 L400.0,474.6 L399.7,474.6 L399.4,477.2 L399.1,481.9 L398.8,485.6 L398.5,489.4 L398.1,492.6 L397.8,497.0 L397.5,499.7 L397.2,499.8 L396.9,498.9 L396.5,497.9 L396.2,496.8 L395.9,495.7 L395.6,494.6 L395.3,494.7 L395.0,495.1 L394.6,495.3 L394.3,493.4 L394.0,491.5 L393.7,490.6 L393.4,492.3 L393.0,493.8 L392.7,493.5 L392.4,491.4 L392.1,489.1 L391.8,488.8 L391.5,489.6 L391.1,490.4 L390.8,488.4 L390.5,486.2 L390.2,484.5 L389.9,484.8 L389.5,485.4 L389.2,486.1 L388.9,486.9 L388.6,487.7 L388.3,489.0 L388.0,490.8 L387.6,492.5 L387.3,492.3 L387.0,490.9 L386.7,489.3 L386.4,487.8 L386.0,486.0 L385.7,484.1 L385.4,485.6 L385.1,487.1 L384.8,487.4 L384.5,484.3 L384.1,481.5 L383.8,480.0 L383.5,480.1 L383.2,480.5 L382.9,480.7 L382.5,480.8 L382.2,481.0 L381.9,482.2 L381.6,483.6 L381.3,484.7 L381.0,484.1 L380.6,483.2 L380.3,482.2 L380.0,481.7 L379.7,480.9 L379.4,479.6 L379.1,477.8 L378.7,476.2 L378.4,475.2 L378.1,474.8 L377.8,474.8 L377.5,475.2 L377.1,476.1 L376.8,477.2 L376.5,476.7 L376.2,476.1 L375.9,475.8 L375.6,477.5 L375.2,478.9 L374.9,479.0 L374.6,477.5 L374.3,476.0 L374.0,476.0 L373.6,477.3 L373.3,478.5 L373.0,477.5 L372.7,475.6 L372.4,473.4 L372.1,472.0 L371.7,471.0 L371.4,470.4 L371.1,471.4 L370.8,472.5 L370.5,472.6 L370.1,470.6 L369.8,468.6 L369.5,467.8 L369.2,468.1 L368.9,468.1 L368.6,466.4 L368.2,464.3 L367.9,462.6 L367.6,463.7 L367.3,467.3 L367.0,470.7 L366.6,474.7 L366.3,477.3 L366.0,479.1 L365.7,479.3 L365.4,478.6 L365.1,478.0 L364.7,478.6 L364.4,479.3 L364.1,478.7 L363.8,477.8 L363.5,476.9 L363.1,475.9 L362.8,475.0 L362.5,474.2 L362.2,473.7 L361.9,473.2 L361.6,472.9 L361.2,473.3 L360.9,473.5 L360.6,473.0 L360.3,471.8 L360.0,470.6 L359.6,468.8 L359.3,466.9 L359.0,465.2 L358.7,464.1 L358.4,463.3 L358.1,462.7 L357.7,462.5 L357.4,462.4 L357.1,462.7 L356.8,463.7 L356.5,464.6 L356.1,465.2 L355.8,465.3 L355.5,465.2 L355.2,465.3 L354.9,465.3 L354.6,465.1 L354.2,463.9 L353.9,462.3 L353.6,460.6 L353.3,459.2 L353.0,457.8 L352.6,456.1 L352.3,453.3 L352.0,450.8 L351.7,449.7 L351.4,450.2 L351.1,451.0 L350.7,451.5 L350.4,451.8 L350.1,452.1 L349.8,452.2 L349.5,452.1 L349.1,451.7 L348.8,451.1 L348.5,450.2 L348.2,449.2 L347.9,449.0 L347.6,448.7 L347.2,446.8 L346.9,442.9 L346.6,439.2 L346.3,437.8 L346.0,438.0 L345.6,438.7 L345.3,438.4 L345.0,438.1 L344.7,437.9 L344.4,441.2 L344.1,444.2 L343.7,445.9 L343.4,443.5 L343.1,440.9 L342.8,438.8 L342.5,437.8 L342.1,436.7 L341.8,437.0 L341.5,438.2 L341.2,439.5 L340.9,438.0 L340.6,435.6 L340.2,433.3 L339.9,432.0 L339.6,430.8 L339.3,430.0 L339.0,431.2 L338.6,432.6 L338.3,432.8 L338.0,431.1 L337.7,429.5 L337.4,428.8 L337.1,428.4 L336.7,427.5 L336.4,425.8 L336.1,424.4 L335.8,425.3 L335.5,427.4 L335.1,429.7 L334.8,432.0 L334.5,433.1 L334.2,434.1 L333.9,435.2 L333.6,436.2 L333.2,437.2 L332.9,438.6 L332.6,440.0 L332.3,439.9 L332.0,438.4 L331.6,436.6 L331.3,434.8 L331.0,434.0 L330.7,433.3 L330.4,432.9 L330.1,433.6 L329.7,434.3 L329.4,434.6 L329.1,433.8 L328.8,432.8 L328.5,431.2 L328.1,429.1 L327.8,427.0 L327.5,424.9 L327.2,423.0 L326.9,421.4 L326.6,421.0 L326.2,420.9 L325.9,421.2 L325.6,421.9 L325.3,422.8 L325.0,423.7 L324.6,424.4 L324.3,425.1 L324.0,425.7 L323.7,425.9 L323.4,425.9 L323.1,424.9 L322.7,423.1 L322.4,420.9 L322.1,420.7 L321.8,420.6 L321.5,420.4 L321.1,419.1 L320.8,418.0 L320.5,416.8 L320.2,415.2 L319.9,413.9 L319.6,412.9 L319.2,412.3 L318.9,411.8 L318.6,412.9 L318.3,414.9 L318.0,416.7 L317.6,417.4 L317.3,417.5 L317.0,417.4 L316.7,415.9 L316.4,414.1 L316.1,412.1 L315.7,410.3 L315.4,408.4 L315.1,406.7 L314.8,405.3 L314.5,404.1 L314.2,401.9 L313.8,399.2 L313.5,396.9 L313.2,398.1 L312.9,400.1 L312.6,402.1 L312.2,403.0 L311.9,403.6 L311.6,403.5 L311.3,402.0 L311.0,400.4 L310.7,399.6 L310.3,400.0 L310.0,400.4 L309.7,399.8 L309.4,398.6 L309.1,397.1 L308.7,397.2 L308.4,397.8 L308.1,398.7 L307.8,396.4 L307.5,394.0 L307.2,391.7 L306.8,390.5 L306.5,389.1 L306.2,388.0 L305.9,387.6 L305.6,387.4 L305.2,386.8 L304.9,385.5 L304.6,384.1 L304.3,382.9 L304.0,382.1 L303.7,385.7 L303.3,390.0 L303.0,393.6 L302.7,397.4 L302.4,399.5 L302.1,401.6 L301.7,400.7 L301.4,399.7 L301.1,398.6 L300.8,398.5 L300.5,399.1 L300.2,399.7 L299.8,400.1 L299.5,400.5 L299.2,401.0 L298.9,399.8 L298.6,398.6 L298.2,397.5 L297.9,397.7 L297.6,397.8 L297.3,397.7 L297.0,397.3 L296.7,396.7 L296.3,395.7 L296.0,394.2 L295.7,392.8 L295.4,391.3 L295.1,390.0 L294.7,389.0 L294.4,389.7 L294.1,390.8 L293.8,391.9 L293.5,391.4 L293.2,390.9 L292.8,390.3 L292.5,389.3 L292.2,388.1 L291.9,388.3 L291.6,389.9 L291.2,391.3 L290.9,390.7 L290.6,389.0 L290.3,387.0 L290.0,385.6 L289.7,384.3 L289.3,383.1 L289.0,381.5 L288.7,380.2 L288.4,379.4 L288.1,379.4 L287.7,379.6 L287.4,380.4 L287.1,381.6 L286.8,383.0 L286.5,383.3 L286.2,383.0 L285.8,382.6 L285.5,383.1 L285.2,383.7 L284.9,383.8 L284.6,382.2 L284.2,380.2 L283.9,378.2 L283.6,376.7 L283.3,375.2 L283.0,373.3 L282.7,371.0 L282.3,369.0 L282.0,369.8 L281.7,372.5 L281.4,376.1 L281.1,376.9 L280.7,377.0 L280.4,377.0 L280.1,377.8 L279.8,378.3 L279.5,378.2 L279.2,377.5 L278.8,376.7 L278.5,376.7 L278.2,377.8 L277.9,378.9 L277.6,380.0 L277.2,380.9 L276.9,381.5 L276.6,381.6 L276.3,381.8 L276.0,382.3 L275.7,381.8 L275.3,381.4 L275.0,381.2 L274.7,381.6 L274.4,381.8 L274.1,382.3 L273.7,383.4 L273.4,384.5 L273.1,383.4 L272.8,380.9 L272.5,378.6 L272.2,378.9 L271.8,383.4 L271.5,389.3 L271.2,394.5 L270.9,399.8 L270.6,403.9 L270.2,407.1 L269.9,407.8 L269.6,408.0 L269.3,408.6 L269.0,409.3 L268.7,409.3 L268.3,408.8 L268.0,408.4 L267.7,409.0 L267.4,410.0 L267.1,411.1 L266.7,411.1 L266.4,411.0 L266.1,411.1 L265.8,412.5 L265.5,413.7 L265.2,414.6 L264.8,415.2 L264.5,415.6 L264.2,415.1 L263.9,414.0 L263.6,413.1 L263.2,412.4 L262.9,412.0 L262.6,411.8 L262.3,411.9 L262.0,412.1 L261.7,412.8 L261.3,415.5 L261.0,418.4 L260.7,420.9 L260.4,422.5 L260.1,424.1 L259.7,424.4 L259.4,423.5 L259.1,422.4 L258.8,423.1 L258.5,424.5 L258.2,425.7 L257.8,425.1 L257.5,424.4 L257.2,423.8 L256.9,423.4 L256.6,423.3 L256.2,423.8 L255.9,424.9 L255.6,426.3 L255.3,427.4 L255.0,428.1 L254.7,428.7 L254.3,429.2 L254.0,429.4 L253.7,429.4 L253.4,430.5 L253.1,431.6 L252.7,432.3 L252.4,432.8 L252.1,433.1 L251.8,433.2 L251.5,433.0 L251.2,433.0 L250.8,432.3 L250.5,430.6 L250.2,429.4 L249.9,429.8 L249.6,431.4 L249.3,433.2 L248.9,434.7 L248.6,435.9 L248.3,436.9 L248.0,438.1 L247.7,439.0 L247.3,439.8 L247.0,440.6 L246.7,441.3 L246.4,441.3 L246.1,440.4 L245.8,439.5 L245.4,439.5 L245.1,439.6 L244.8,439.6 L244.5,441.0 L244.2,443.1 L243.8,445.1 L243.5,445.3 L243.2,445.6 L242.9,445.9 L242.6,445.8 L242.3,445.5 L241.9,445.5 L241.6,446.0 L241.3,446.0 L241.0,444.8 L240.7,443.2 L240.3,442.0 L240.0,445.5 L239.7,451.8 L239.4,457.8 L239.1,462.7 L238.8,466.5 L238.4,470.3 L238.1,472.0 L237.8,472.0 L237.5,472.2 L237.2,472.8 L236.8,473.4 L236.5,473.3 L236.2,472.8 L235.9,472.3 L235.6,473.0 L235.3,474.2 L234.9,475.4 L234.6,475.8 L234.3,476.1 L234.0,476.3 L233.7,476.0 L233.3,475.4 L233.0,474.7 L232.7,474.1 L232.4,473.5 L232.1,473.0 L231.8,472.9 L231.4,473.0 L231.1,474.0 L230.8,475.6 L230.5,477.4 L230.2,477.3 L229.8,477.1 L229.5,477.2 L229.2,478.2 L228.9,479.3 L228.6,480.1 L228.3,480.3 L227.9,480.3 L227.6,480.2 L227.3,480.1 L227.0,479.6 L226.7,479.2 L226.3,478.9 L226.0,478.4 L225.7,477.6 L225.4,476.9 L225.1,476.5 L224.8,476.9 L224.4,477.5 L224.1,478.5 L223.8,479.6 L223.5,480.9 L223.2,482.5 L222.8,484.3 L222.5,486.0 L222.2,487.0 L221.9,487.5 L221.6,487.7 L221.3,487.1 L220.9,486.2 L220.6,484.8 L220.3,483.4 L220.0,481.8 L219.7,480.5 L219.3,480.2 L219.0,480.2 L218.7,480.1 L218.4,480.1 L218.1,480.5 L217.8,481.3 L217.4,482.4 L217.1,483.5 L216.8,485.3 L216.5,486.9 L216.2,488.1 L215.8,487.0 L215.5,485.7 L215.2,485.1 L214.9,486.9 L214.6,488.7 L214.3,489.5 L213.9,488.9 L213.6,488.3 L213.3,487.2 L213.0,485.8 L212.7,484.6 L212.3,485.6 L212.0,487.2 L211.7,488.6 L211.4,488.0 L211.1,487.4 L210.8,486.9 L210.4,487.4 L210.1,487.9 L209.8,488.4 L209.5,488.1 L209.2,487.4 L208.8,485.7 L208.5,483.6 L208.2,483.7 L207.9,487.8 L207.6,492.1 L207.3,496.4 L206.9,502.3 L206.6,508.2 L206.3,512.6 L206.0,513.0 L205.7,513.4 L205.3,513.3 L205.0,512.4 L204.7,511.5 L204.4,510.4 L204.1,509.0 L203.8,507.6 L203.4,508.2 L203.1,509.5 L202.8,510.7 L202.5,510.8 L202.2,510.7 L201.8,510.4 L201.5,509.0 L201.2,507.3 L200.9,505.8 L200.6,504.7 L200.3,503.7 L199.9,502.5 L199.6,501.3 L199.3,500.4 L199.0,500.5 L198.7,501.1 L198.3,501.8 L198.0,504.2 L197.7,506.9 L197.4,509.3 L197.1,509.3 L196.8,509.2 L196.4,508.7 L196.1,507.0 L195.8,505.0 L195.5,504.2 L195.2,504.3 L194.8,504.1 L194.5,503.9 L194.2,503.5 L193.9,503.1 L193.6,501.9 L193.3,500.7 L192.9,499.9 L192.6,500.1 L192.3,500.7 L192.0,501.6 L191.7,502.8 L191.3,504.2 L191.0,504.8 L190.7,504.4 L190.4,503.9 L190.1,504.3 L189.8,504.9 L189.4,505.2 L189.1,505.1 L188.8,504.5 L188.5,503.8 L188.2,504.2 L187.8,504.7 L187.5,504.5 L187.2,502.4 L186.9,500.6 L186.6,499.4 L186.3,499.1 L185.9,499.2 L185.6,500.3 L185.3,501.8 L185.0,503.4 L184.7,503.6 L184.4,503.2 L184.0,502.5 L183.7,503.2 L183.4,503.9 L183.1,504.2 L182.8,503.6 L182.4,502.9 L182.1,502.4 L181.8,502.0 L181.5,501.3 L181.2,500.3 L180.9,499.4 L180.5,498.8 L180.2,500.3 L179.9,502.2 L179.6,504.1 L179.3,501.9 L178.9,499.6 L178.6,497.6 L178.3,497.8 L178.0,498.2 L177.7,497.8 L177.4,496.3 L177.0,494.8 L176.7,494.1 L176.4,495.1 L176.1,499.2 L175.8,504.7 L175.4,510.5 L175.1,514.9 L174.8,513.9 L174.5,512.2 L174.2,509.1 L173.9,510.0 L173.5,510.9 L173.2,512.1 L172.9,513.8 L172.6,515.6 L172.3,515.6 L171.9,514.3 L171.6,513.1 L171.3,514.1 L171.0,515.8 L170.7,517.6 L170.4,514.4 L170.0,510.8 L169.7,507.8 L169.4,508.7 L169.1,509.4 L168.8,509.3 L168.4,507.7 L168.1,506.2 L167.8,505.4 L167.5,505.2 L167.2,505.2 L166.9,505.8 L166.5,506.6 L166.2,507.7 L165.9,507.7 L165.6,507.6 L165.3,507.7 L164.9,508.5 L164.6,509.2 L164.3,510.1 L164.0,511.2 L163.7,512.1 L163.4,511.6 L163.0,509.7 L162.7,507.6 L162.4,506.1 L162.1,504.9 L161.8,503.9 L161.4,502.9 L161.1,502.1 L160.8,501.7 L160.5,501.5 L160.2,501.6 L159.9,502.0 L159.5,502.9 L159.2,503.8 L158.9,504.3 L158.6,504.3 L158.3,504.1 L157.9,504.0 L157.6,503.7 L157.3,503.0 L157.0,502.3 L156.7,501.4 L156.4,500.3 L156.0,499.1 L155.7,497.9 L155.4,497.1 L155.1,496.8 L154.8,496.9 L154.4,497.4 L154.1,498.3 L153.8,499.5 L153.5,500.3 L153.2,500.8 L152.9,501.1 L152.5,501.9 L152.2,502.5 L151.9,502.8 L151.6,503.3 L151.3,503.8 L150.9,503.8 L150.6,502.2 L150.3,500.5 L150.0,499.6 L149.7,499.2 L149.4,498.5 L149.0,498.2 L148.7,498.3 L148.4,498.6 L148.1,497.8 L147.8,496.7 L147.4,495.8 L147.1,494.6 L146.8,493.2 L146.5,492.1 L146.2,492.5 L145.9,492.7 L145.5,492.6 L145.2,492.6 L144.9,492.8 L144.6,492.3 L144.3,495.0 L143.9,498.0 L143.6,502.2 L143.3,507.3 L143.0,511.4 L142.7,512.7 L142.4,511.1 L142.0,510.0 L141.7,511.0 L141.4,511.9 L141.1,512.3 L140.8,511.6 L140.4,511.0 L140.1,510.7 L139.8,510.6 L139.5,510.6 L139.2,510.7 L138.9,510.8 L138.5,510.9 L138.2,510.9 L137.9,510.8 L137.6,510.3 L137.3,509.0 L136.9,507.5 L136.6,506.0 L136.3,504.5 L136.0,503.1 L135.7,502.5 L135.4,502.5 L135.0,502.8 L134.7,502.9 L134.4,503.0 L134.1,503.3 L133.8,503.7 L133.4,504.2 L133.1,504.5 L132.8,504.4 L132.5,504.1 L132.2,504.6 L131.9,507.0 L131.5,509.0 L131.2,508.8 L130.9,506.6 L130.6,504.1 L130.3,502.1 L129.9,500.3 L129.6,498.6 L129.3,497.8 L129.0,497.4 L128.7,497.3 L128.4,498.0 L128.0,498.9 L127.7,500.1 L127.4,501.4 L127.1,502.8 L126.8,503.1 L126.4,502.1 L126.1,501.0 L125.8,500.9 L125.5,501.1 L125.2,501.0 L124.9,500.6 L124.5,500.0 L124.2,499.2 L123.9,497.4 L123.6,495.7 L123.3,494.4 L122.9,493.4 L122.6,492.8 L122.3,493.8 L122.0,496.4 L121.7,499.3 L121.4,500.5 L121.0,500.7 L120.7,500.5 L120.4,500.0 L120.1,499.2 L119.8,498.4 L119.5,498.6 L119.1,498.8 L118.8,498.7 L118.5,497.9 L118.2,497.1 L117.9,496.7 L117.5,496.8 L117.2,496.8 L116.9,495.7 L116.6,494.0 L116.3,492.3 L116.0,492.6 L115.6,493.4 L115.3,494.3 L115.0,492.8 L114.7,491.2 L114.4,490.2 L114.0,490.4 L113.7,490.2 L113.4,489.6 L113.1,489.0 L112.8,489.0 L112.5,491.4Z" fill="#0072B2" fill-opacity="0.2" stroke="#0072B2" stroke-opacity="0.2" stroke-width="1.39"/>
<rect x="940.3" y="39" width="4.6" height="114" fill="#0072B2" fill-opacity="0.2"/><line x1="940" y1="100" x2="940" y2="170" stroke="#0072B2" stroke-opacity="0.2" stroke-width="1.5"/>
<path d="M114.9,446.8h0M115.1,445.7h0M115.2,448.0h0M115.3,447.1h0M115.4,450.3h0M115.6,449.7h0M115.7,448.3h0M115.8,449.7h0M115.9,449.2h0M116.1,449.2h0M116.2,448.4h0M116.3,447.5h0M116.5,446.8h0M116.6,446.3h0M116.7,444.2h0M116.8,445.7h0M117.0,447.0h0M117.1,446.3h0M117.2,448.1h0M117.3,445.9h0M117.5,447.6h0M117.6,446.2h0M117.7,448.8h0M117.8,446.3h0M118.0,445.9h0M118.1,448.2h0M118.2,448.8h0M118.4,448.0h0M118.5,447.5h0M118.6,446.6h0M118.7,447.8h0M118.9,449.1h0M119.0,446.7h0M119.1,449.4h0M119.2,449.8h0M119.4,449.0h0M119.5,447.5h0M119.6,449.8h0M119.7,449.8h0M119.9,450.9h0M120.0,454.9h0M120.1,451.8h0M120.2,453.3h0M120.4,453.0h0M120.5,452.0h0M120.6,452.6h0M120.8,453.5h0M120.9,455.2h0M121.0,453.5h0M121.1,457.3h0M121.3,457.4h0M121.4,457.0h0M121.5,453.2h0M121.6,450.7h0M121.8,449.6h0M121.9,452.5h0M122.0,452.7h0M122.1,454.1h0M122.3,453.6h0M122.4,451.5h0M122.5,450.0h0M122.7,450.5h0M122.8,449.9h0M122.9,450.9h0M123.0,451.8h0M123.2,455.2h0M123.3,455.8h0M123.4,456.9h0M123.5,455.6h0M123.7,454.8h0M123.8,453.5h0M123.9,452.7h0M124.0,451.7h0M124.2,453.6h0M124.3,452.6h0M124.4,452.5h0M124.6,452.9h0M124.7,451.3h0M124.8,451.8h0M124.9,453.5h0M125.1,450.9h0M125.2,453.8h0M125.3,455.9h0M125.4,454.9h0M125.6,453.9h0M125.7,455.4h0M125.8,454.4h0M125.9,454.0h0M126.1,455.4h0M126.2,453.2h0M126.3,454.5h0M126.4,454.9h0M126.6,454.2h0M126.7,451.4h0M126.8,453.4h0M127.0,452.2h0M127.1,450.0h0M127.2,448.0h0M127.3,448.9h0M127.5,453.5h0M127.6,452.0h0M127.7,452.5h0M127.8,451.5h0M128.0,451.0h0M128.1,448.7h0M128.2,448.2h0M128.3,449.1h0M128.5,452.6h0M128.6,454.1h0M128.7,454.3h0M128.9,454.5h0M129.0,454.8h0M129.1,455.0h0M129.2,455.2h0M129.4,455.5h0M129.5,455.7h0M129.6,455.9h0M129.7,456.2h0M129.9,455.3h0M130.0,456.6h0M130.1,455.8h0M130.2,455.2h0M130.4,452.9h0M130.5,455.0h0M130.6,455.2h0M130.7,457.1h0M130.9,454.9h0M131.0,457.5h0M131.1,457.6h0M131.3,457.6h0M131.4,457.7h0M131.5,457.8h0M131.6,457.8h0M131.8,457.9h0M131.9,458.0h0M132.0,458.0h0M132.1,458.1h0M132.3,458.2h0M132.4,458.2h0M132.5,458.3h0M132.6,458.4h0M132.8,458.4h0M132.9,458.5h0M133.0,457.9h0M133.2,457.3h0M133.3,454.2h0M133.4,452.3h0M133.5,455.1h0M133.7,454.1h0M133.8,457.0h0M133.9,456.8h0M134.0,459.1h0M134.2,459.1h0M134.3,459.1h0M134.4,459.1h0M134.5,459.0h0M134.7,458.8h0M134.8,459.1h0M134.9,458.5h0M135.0,459.1h0M135.2,459.1h0M135.3,459.1h0M135.4,459.1h0M135.6,459.1h0M135.7,459.1h0M135.8,459.1h0M135.9,459.1h0M136.1,459.4h0M136.2,459.8h0M136.3,460.2h0M136.4,458.6h0M136.6,461.1h0M136.7,461.5h0M136.8,458.7h0M136.9,462.4h0M137.1,462.8h0M137.2,463.2h0M137.3,463.0h0M137.5,461.8h0M137.6,464.0h0M137.7,464.9h0M137.8,465.3h0M138.0,465.7h0M138.1,466.1h0M138.2,466.6h0M138.3,467.0h0M138.5,467.4h0M138.6,467.8h0M138.7,468.3h0M138.8,468.7h0M139.0,469.3h0M139.1,469.9h0M139.2,470.5h0M139.3,471.1h0M139.5,471.5h0M139.6,472.2h0M139.7,472.9h0M139.9,470.6h0M140.0,470.7h0M140.1,471.6h0M140.2,474.1h0M140.4,475.2h0M140.5,475.4h0M140.6,477.1h0M140.7,476.6h0M140.9,478.3h0M141.0,478.9h0M141.1,479.2h0M141.2,479.0h0M141.4,478.4h0M141.5,478.6h0M141.6,478.4h0M141.8,478.2h0M141.9,477.6h0M142.0,477.8h0M142.1,477.6h0M142.3,477.4h0M142.4,476.6h0M142.5,477.0h0M142.6,475.4h0M142.8,476.2h0M142.9,476.3h0M143.0,475.8h0M143.1,472.4h0M143.3,472.5h0M143.4,471.2h0M143.5,468.5h0M143.7,465.1h0M143.8,463.6h0M143.9,465.5h0M144.0,466.6h0M144.2,468.9h0M144.3,468.0h0M144.4,468.6h0M144.5,463.6h0M144.7,467.3h0M144.8,465.2h0M144.9,464.3h0M145.0,464.9h0M145.2,464.3h0M145.3,466.2h0M145.4,465.8h0M145.5,466.1h0M145.7,467.6h0M145.8,468.3h0M145.9,468.3h0M146.1,466.7h0M146.2,466.7h0M146.3,464.3h0M146.4,463.6h0M146.6,463.6h0M146.7,463.4h0M146.8,464.2h0M146.9,465.5h0M147.1,463.4h0M147.2,462.8h0M147.3,462.6h0M147.4,462.7h0M147.6,463.4h0M147.7,462.2h0M147.8,462.0h0M148.0,462.1h0M148.1,462.4h0M148.2,465.1h0M148.3,462.3h0M148.5,461.4h0M148.6,462.9h0M148.7,461.0h0M148.8,462.2h0M149.0,462.5h0M149.1,465.3h0M149.2,462.9h0M149.3,465.8h0M149.5,464.3h0M149.6,463.0h0M149.7,462.4h0M149.8,463.4h0M150.0,468.3h0M150.1,464.7h0M150.2,468.0h0M150.4,468.5h0M150.5,464.6h0M150.6,465.1h0M150.7,463.7h0M150.9,461.4h0M151.0,463.5h0M151.1,463.3h0M151.2,464.3h0M151.4,464.2h0M151.5,461.1h0M151.6,457.7h0M151.7,457.3h0M151.9,457.1h0M152.0,457.1h0M152.1,457.5h0M152.3,457.2h0M152.4,460.7h0M152.5,460.7h0M152.6,459.7h0M152.8,457.3h0M152.9,457.8h0M153.0,457.3h0M153.1,457.4h0M153.3,457.4h0M153.4,457.4h0M153.5,457.5h0M153.6,457.5h0M153.8,457.5h0M153.9,458.0h0M154.0,459.4h0M154.1,462.8h0M154.3,462.5h0M154.4,459.1h0M154.5,460.2h0M154.7,458.9h0M154.8,460.7h0M154.9,461.7h0M155.0,464.8h0M155.2,464.9h0M155.3,465.8h0M155.4,465.9h0M155.5,465.4h0M155.7,464.3h0M155.8,462.4h0M155.9,465.7h0M156.0,465.5h0M156.2,468.1h0M156.3,467.0h0M156.4,465.9h0M156.6,468.2h0M156.7,467.2h0M156.8,467.1h0M156.9,464.3h0M157.1,462.8h0M157.2,458.9h0M157.3,459.1h0M157.4,461.4h0M157.6,459.9h0M157.7,459.8h0M157.8,461.4h0M157.9,461.2h0M158.1,461.8h0M158.2,463.9h0M158.3,460.0h0M158.4,461.7h0M158.6,464.0h0M158.7,466.7h0M158.8,464.9h0M159.0,464.4h0M159.1,459.7h0M159.2,460.9h0M159.3,463.1h0M159.5,465.3h0M159.6,463.8h0M159.7,462.7h0M159.8,464.5h0M160.0,464.8h0M160.1,467.6h0M160.2,469.8h0M160.3,469.9h0M160.5,467.3h0M160.6,463.4h0M160.7,465.1h0M160.9,463.7h0M161.0,464.0h0M161.1,464.0h0M161.2,462.8h0M161.4,461.5h0M161.5,460.9h0M161.6,463.7h0M161.7,462.0h0M161.9,461.2h0M162.0,461.3h0M162.1,461.4h0M162.2,461.5h0M162.4,463.1h0M162.5,461.7h0M162.6,464.0h0M162.7,462.6h0M162.9,463.6h0M163.0,467.2h0M163.1,462.4h0M163.3,465.4h0M163.4,463.4h0M163.5,464.6h0M163.6,463.6h0M163.8,462.7h0M163.9,462.8h0M164.0,462.9h0M164.1,463.5h0M164.3,463.6h0M164.4,466.1h0M164.5,464.6h0M164.6,465.0h0M164.8,469.2h0M164.9,469.3h0M165.0,466.2h0M165.2,469.6h0M165.3,469.7h0M165.4,469.6h0M165.5,468.2h0M165.7,465.7h0M165.8,464.1h0M165.9,466.6h0M166.0,465.1h0M166.2,468.2h0M166.3,469.2h0M166.4,467.6h0M166.5,467.8h0M166.7,472.4h0M166.8,471.8h0M166.9,473.2h0M167.1,471.6h0M167.2,471.5h0M167.3,474.9h0M167.4,475.0h0M167.6,475.1h0M167.7,475.2h0M167.8,475.3h0M167.9,475.4h0M168.1,475.5h0M168.2,473.8h0M168.3,472.5h0M168.4,475.2h0M168.6,475.7h0M168.7,475.9h0M168.8,474.3h0M168.9,474.1h0M169.1,476.2h0M169.2,476.2h0M169.3,476.1h0M169.5,473.2h0M169.6,474.5h0M169.7,475.8h0M169.8,474.6h0M170.0,474.2h0M170.1,475.5h0M170.2,473.4h0M170.3,471.4h0M170.5,469.4h0M170.6,475.2h0M170.7,474.3h0M170.8,475.0h0M171.0,474.9h0M171.1,474.4h0M171.2,473.4h0M171.4,471.9h0M171.5,473.2h0M171.6,472.8h0M171.7,474.4h0M171.9,474.3h0M172.0,474.2h0M172.1,474.1h0M172.2,474.0h0M172.4,473.2h0M172.5,471.4h0M172.6,471.4h0M172.7,470.1h0M172.9,470.2h0M173.0,473.6h0M173.1,474.6h0M173.2,472.3h0M173.4,470.5h0M173.5,471.5h0M173.6,474.3h0M173.8,474.6h0M173.9,473.7h0M174.0,473.3h0M174.1,476.7h0M174.3,476.2h0M174.4,476.1h0M174.5,477.3h0M174.6,477.6h0M174.8,479.5h0M174.9,482.0h0M175.0,482.2h0M175.1,482.1h0M175.3,482.1h0M175.4,482.0h0M175.5,481.9h0M175.7,481.2h0M175.8,481.8h0M175.9,481.7h0M176.0,481.7h0M176.2,481.6h0M176.3,481.5h0M176.4,481.5h0M176.5,480.9h0M176.7,478.5h0M176.8,479.8h0M176.9,478.2h0M177.0,476.7h0M177.2,479.3h0M177.3,476.8h0M177.4,477.3h0M177.5,474.9h0M177.7,476.4h0M177.8,476.1h0M177.9,475.0h0M178.1,473.7h0M178.2,472.0h0M178.3,474.3h0M178.4,473.0h0M178.6,475.5h0M178.7,474.7h0M178.8,473.4h0M178.9,473.2h0M179.1,473.4h0M179.2,475.2h0M179.3,472.6h0M179.4,473.6h0M179.6,471.4h0M179.7,472.6h0M179.8,473.8h0M180.0,471.7h0M180.1,475.6h0M180.2,473.1h0M180.3,476.0h0M180.5,478.2h0M180.6,475.0h0M180.7,476.9h0M180.8,477.3h0M181.0,475.4h0M181.1,473.0h0M181.2,468.7h0M181.3,466.9h0M181.5,464.8h0M181.6,462.6h0M181.7,460.5h0M181.8,458.4h0M182.0,459.8h0M182.1,455.4h0M182.2,452.6h0M182.4,454.7h0M182.5,456.1h0M182.6,456.9h0M182.7,452.6h0M182.9,452.6h0M183.0,452.6h0M183.1,452.6h0M183.2,452.6h0M183.4,452.6h0M183.5,452.6h0M183.6,452.6h0M183.7,452.6h0M183.9,452.6h0M184.0,452.6h0M184.1,452.6h0M184.3,452.6h0M184.4,452.6h0M184.5,452.6h0M184.6,452.6h0M184.8,455.4h0M184.9,456.8h0M185.0,461.0h0M185.1,457.4h0M185.3,457.1h0M185.4,460.3h0M185.5,461.9h0M185.6,462.2h0M185.8,462.2h0M185.9,462.1h0M186.0,462.1h0M186.2,462.0h0M186.3,461.9h0M186.4,461.9h0M186.5,460.7h0M186.7,461.5h0M186.8,461.7h0M186.9,460.7h0M187.0,459.8h0M187.2,459.2h0M187.3,461.5h0M187.4,460.6h0M187.5,461.4h0M187.7,461.4h0M187.8,461.3h0M187.9,461.3h0M188.0,461.2h0M188.2,461.2h0M188.3,460.8h0M188.4,461.1h0M188.6,461.1h0M188.7,461.1h0M188.8,461.1h0M188.9,461.1h0M189.1,461.1h0M189.2,459.7h0M189.3,461.1h0M189.4,461.1h0M189.6,460.4h0M189.7,461.0h0M189.8,461.1h0M189.9,459.8h0M190.1,458.4h0M190.2,459.1h0M190.3,458.6h0M190.5,460.8h0M190.6,461.1h0M190.7,461.1h0M190.8,461.1h0M191.0,461.1h0M191.1,461.1h0M191.2,461.1h0M191.3,461.1h0M191.5,461.1h0M191.6,461.1h0M191.7,461.1h0M191.8,461.1h0M192.0,461.1h0M192.1,461.1h0M192.2,461.0h0M192.3,461.1h0M192.5,460.7h0M192.6,461.1h0M192.7,461.1h0M192.9,461.1h0M193.0,461.1h0M193.1,461.6h0M193.2,462.4h0M193.4,461.4h0M193.5,462.4h0M193.6,463.9h0M193.7,465.4h0M193.9,466.4h0M194.0,466.1h0M194.1,463.6h0M194.2,466.0h0M194.4,466.8h0M194.5,469.7h0M194.6,471.2h0M194.8,472.0h0M194.9,472.8h0M195.0,473.6h0M195.1,474.4h0M195.3,475.2h0M195.4,475.3h0M195.5,473.1h0M195.6,472.9h0M195.8,474.2h0M195.9,470.2h0M196.0,472.3h0M196.1,468.6h0M196.3,470.6h0M196.4,468.3h0M196.5,468.4h0M196.6,468.4h0M196.8,467.2h0M196.9,467.3h0M197.0,467.4h0M197.2,467.5h0M197.3,468.3h0M197.4,467.7h0M197.5,467.8h0M197.7,467.8h0M197.8,467.9h0M197.9,468.5h0M198.0,470.3h0M198.2,472.5h0M198.3,472.5h0M198.4,470.8h0M198.5,469.0h0M198.7,471.4h0M198.8,473.1h0M198.9,471.7h0M199.1,472.7h0M199.2,474.5h0M199.3,476.5h0M199.4,478.2h0M199.6,477.6h0M199.7,478.2h0M199.8,477.6h0M199.9,478.3h0M200.1,476.5h0M200.2,476.3h0M200.3,477.6h0M200.4,476.0h0M200.6,476.5h0M200.7,475.4h0M200.8,474.3h0M200.9,476.0h0M201.1,475.3h0M201.2,474.2h0M201.3,476.9h0M201.5,473.7h0M201.6,471.0h0M201.7,471.5h0M201.8,474.0h0M202.0,474.9h0M202.1,474.1h0M202.2,473.9h0M202.3,474.7h0M202.5,472.9h0M202.6,474.1h0M202.7,473.8h0M202.8,473.1h0M203.0,475.0h0M203.1,475.0h0M203.2,474.9h0M203.4,472.2h0M203.5,472.3h0M203.6,472.4h0M203.7,472.5h0M203.9,472.6h0M204.0,474.2h0M204.1,476.7h0M204.2,475.4h0M204.4,474.5h0M204.5,476.2h0M204.6,475.7h0M204.7,479.9h0M204.9,479.0h0M205.0,480.8h0M205.1,480.4h0M205.2,479.2h0M205.4,477.4h0M205.5,477.9h0M205.6,478.3h0M205.8,479.2h0M205.9,478.8h0M206.0,477.6h0M206.1,474.6h0M206.3,472.4h0M206.4,473.0h0M206.5,474.1h0M206.6,469.2h0M206.8,470.7h0M206.9,471.1h0M207.0,469.0h0M207.1,468.6h0M207.3,470.0h0M207.4,467.3h0M207.5,465.8h0M207.7,468.6h0M207.8,466.9h0M207.9,467.0h0M208.0,465.3h0M208.2,470.9h0M208.3,466.1h0M208.4,469.3h0M208.5,472.1h0M208.7,469.1h0M208.8,468.9h0M208.9,467.4h0M209.0,468.9h0M209.2,468.3h0M209.3,469.2h0M209.4,471.5h0M209.6,471.0h0M209.7,468.9h0M209.8,469.3h0M209.9,470.9h0M210.1,470.4h0M210.2,469.5h0M210.3,468.1h0M210.4,466.5h0M210.6,466.4h0M210.7,464.9h0M210.8,467.1h0M210.9,466.6h0M211.1,465.9h0M211.2,466.3h0M211.3,465.3h0M211.4,467.0h0M211.6,468.2h0M211.7,467.4h0M211.8,464.1h0M212.0,464.9h0M212.1,460.7h0M212.2,461.9h0M212.3,460.4h0M212.5,460.9h0M212.6,460.8h0M212.7,460.1h0M212.8,460.1h0M213.0,460.0h0M213.1,459.9h0M213.2,459.9h0M213.3,459.8h0M213.5,459.8h0M213.6,459.7h0M213.7,459.7h0M213.9,459.6h0M214.0,459.5h0M214.1,460.7h0M214.2,463.3h0M214.4,463.2h0M214.5,464.8h0M214.6,461.3h0M214.7,461.2h0M214.9,464.7h0M215.0,463.4h0M215.1,464.2h0M215.2,460.9h0M215.4,460.3h0M215.5,460.8h0M215.6,462.1h0M215.7,461.6h0M215.9,462.7h0M216.0,465.4h0M216.1,463.2h0M216.3,465.0h0M216.4,466.8h0M216.5,462.5h0M216.6,460.0h0M216.8,459.4h0M216.9,459.0h0M217.0,458.1h0M217.1,462.6h0M217.3,462.2h0M217.4,461.3h0M217.5,460.0h0M217.6,460.1h0M217.8,459.9h0M217.9,457.7h0M218.0,460.9h0M218.2,460.5h0M218.3,459.0h0M218.4,459.4h0M218.5,460.0h0M218.7,460.4h0M218.8,457.3h0M218.9,461.0h0M219.0,462.2h0M219.2,464.7h0M219.3,466.1h0M219.4,464.8h0M219.5,464.9h0M219.7,462.9h0M219.8,465.1h0M219.9,465.8h0M220.0,464.8h0M220.2,463.8h0M220.3,463.3h0M220.4,460.8h0M220.6,458.0h0M220.7,459.6h0M220.8,460.7h0M220.9,462.9h0M221.1,462.8h0M221.2,463.7h0M221.3,461.1h0M221.4,461.2h0M221.6,461.1h0M221.7,464.1h0M221.8,461.9h0M221.9,463.8h0M222.1,463.5h0M222.2,460.6h0M222.3,460.6h0M222.5,460.4h0M222.6,459.3h0M222.7,458.7h0M222.8,455.3h0M223.0,453.3h0M223.1,453.1h0M223.2,452.7h0M223.3,451.9h0M223.5,453.1h0M223.6,452.3h0M223.7,449.6h0M223.8,453.5h0M224.0,457.0h0M224.1,455.1h0M224.2,456.2h0M224.3,457.7h0M224.5,457.3h0M224.6,456.7h0M224.7,457.1h0M224.9,456.8h0M225.0,456.5h0M225.1,456.2h0M225.2,455.9h0M225.4,455.6h0M225.5,453.9h0M225.6,455.0h0M225.7,454.7h0M225.9,453.3h0M226.0,454.1h0M226.1,453.7h0M226.2,453.4h0M226.4,452.8h0M226.5,451.6h0M226.6,452.1h0M226.8,446.9h0M226.9,450.9h0M227.0,451.1h0M227.1,448.5h0M227.3,445.8h0M227.4,449.2h0M227.5,448.6h0M227.6,447.9h0M227.8,447.3h0M227.9,446.6h0M228.0,442.9h0M228.1,445.0h0M228.3,439.8h0M228.4,440.1h0M228.5,442.2h0M228.7,434.3h0M228.8,438.2h0M228.9,435.0h0M229.0,440.5h0M229.2,436.8h0M229.3,435.8h0M229.4,439.0h0M229.5,438.3h0M229.7,436.5h0M229.8,434.6h0M229.9,427.8h0M230.0,424.7h0M230.2,422.5h0M230.3,430.2h0M230.4,423.1h0M230.5,422.2h0M230.7,426.8h0M230.8,426.3h0M230.9,424.7h0M231.1,423.7h0M231.2,428.0h0M231.3,422.7h0M231.4,423.1h0M231.6,423.6h0M231.7,428.2h0M231.8,430.4h0M231.9,433.9h0M232.1,430.2h0M232.2,428.8h0M232.3,427.6h0M232.4,427.3h0M232.6,429.6h0M232.7,433.7h0M232.8,437.1h0M233.0,436.1h0M233.1,438.3h0M233.2,435.6h0M233.3,441.0h0M233.5,437.6h0M233.6,438.3h0M233.7,444.1h0M233.8,439.7h0M234.0,435.6h0M234.1,438.3h0M234.2,435.1h0M234.3,434.2h0M234.5,435.3h0M234.6,435.2h0M234.7,435.7h0M234.8,436.2h0M235.0,436.7h0M235.1,437.2h0M235.2,439.0h0M235.4,438.2h0M235.5,438.4h0M235.6,442.9h0M235.7,441.3h0M235.9,444.0h0M236.0,443.0h0M236.1,446.3h0M236.2,444.1h0M236.4,439.6h0M236.5,444.3h0M236.6,439.2h0M236.7,440.7h0M236.9,440.2h0M237.0,437.9h0M237.1,436.4h0M237.3,437.9h0M237.4,438.3h0M237.5,437.3h0M237.6,436.5h0M237.8,435.6h0M237.9,439.6h0M238.0,440.8h0M238.1,439.5h0M238.3,439.2h0M238.4,435.4h0M238.5,435.0h0M238.6,438.1h0M238.8,442.1h0M238.9,441.1h0M239.0,441.5h0M239.1,442.7h0M239.3,445.7h0M239.4,441.6h0M239.5,445.0h0M239.7,438.3h0M239.8,440.9h0M239.9,436.5h0M240.0,438.3h0M240.2,440.4h0M240.3,441.9h0M240.4,439.1h0M240.5,435.6h0M240.7,434.7h0M240.8,432.0h0M240.9,432.2h0M241.0,431.7h0M241.2,430.5h0M241.3,430.0h0M241.4,429.8h0M241.6,428.9h0M241.7,428.4h0M241.8,427.9h0M241.9,427.4h0M242.1,426.8h0M242.2,426.3h0M242.3,425.8h0M242.4,425.3h0M242.6,426.9h0M242.7,424.8h0M242.8,426.8h0M242.9,426.4h0M243.1,426.4h0M243.2,425.9h0M243.3,424.7h0M243.4,426.1h0M243.6,425.7h0M243.7,423.0h0M243.8,422.7h0M244.0,425.7h0M244.1,422.8h0M244.2,422.5h0M244.3,423.4h0M244.5,429.2h0M244.6,426.3h0M244.7,424.1h0M244.8,426.3h0M245.0,426.6h0M245.1,426.7h0M245.2,426.2h0M245.3,425.6h0M245.5,424.8h0M245.6,422.8h0M245.7,423.1h0M245.9,422.3h0M246.0,419.1h0M246.1,420.6h0M246.2,419.8h0M246.4,418.9h0M246.5,417.5h0M246.6,413.6h0M246.7,409.2h0M246.9,407.1h0M247.0,403.7h0M247.1,400.4h0M247.2,399.2h0M247.4,396.8h0M247.5,395.6h0M247.6,398.1h0M247.7,395.1h0M247.9,392.2h0M248.0,391.1h0M248.1,390.3h0M248.3,389.9h0M248.4,394.9h0M248.5,403.3h0M248.6,405.4h0M248.8,406.3h0M248.9,405.4h0M249.0,401.9h0M249.1,401.8h0M249.3,404.0h0M249.4,397.3h0M249.5,403.0h0M249.6,402.7h0M249.8,397.2h0M249.9,391.0h0M250.0,388.6h0M250.2,385.0h0M250.3,391.6h0M250.4,396.9h0M250.5,393.8h0M250.7,393.1h0M250.8,393.2h0M250.9,388.2h0M251.0,384.3h0M251.2,381.0h0M251.3,383.2h0M251.4,383.5h0M251.5,389.4h0M251.7,388.2h0M251.8,384.9h0M251.9,384.5h0M252.1,384.5h0M252.2,382.4h0M252.3,383.1h0M252.4,379.7h0M252.6,379.4h0M252.7,384.7h0M252.8,385.2h0M252.9,382.7h0M253.1,380.5h0M253.2,386.1h0M253.3,383.3h0M253.4,378.0h0M253.6,378.1h0M253.7,378.2h0M253.8,378.3h0M253.9,378.4h0M254.1,378.6h0M254.2,378.7h0M254.3,378.8h0M254.5,382.9h0M254.6,379.9h0M254.7,383.4h0M254.8,389.7h0M255.0,387.8h0M255.1,394.7h0M255.2,390.7h0M255.3,392.4h0M255.5,397.5h0M255.6,395.6h0M255.7,397.9h0M255.8,394.7h0M256.0,394.9h0M256.1,395.9h0M256.2,393.9h0M256.4,389.6h0M256.5,393.2h0M256.6,387.9h0M256.7,384.2h0M256.9,380.6h0M257.0,380.0h0M257.1,380.7h0M257.2,380.1h0M257.4,380.1h0M257.5,380.1h0M257.6,380.5h0M257.7,380.2h0M257.9,381.6h0M258.0,380.3h0M258.1,380.3h0M258.2,385.2h0M258.4,380.4h0M258.5,383.5h0M258.6,380.4h0M258.8,388.2h0M258.9,380.5h0M259.0,380.5h0M259.1,380.6h0M259.3,380.6h0M259.4,380.7h0M259.5,380.7h0M259.6,380.8h0M259.8,380.9h0M259.9,380.9h0M260.0,390.3h0M260.1,390.9h0M260.3,383.3h0M260.4,381.5h0M260.5,394.0h0M260.7,402.3h0M260.8,402.3h0M260.9,402.3h0M261.0,398.5h0M261.2,391.4h0M261.3,396.0h0M261.4,398.0h0M261.5,396.1h0M261.7,389.1h0M261.8,387.4h0M261.9,385.8h0M262.0,395.1h0M262.2,390.8h0M262.3,382.0h0M262.4,383.8h0M262.5,390.6h0M262.7,389.9h0M262.8,388.3h0M262.9,394.5h0M263.1,397.4h0M263.2,403.1h0M263.3,399.9h0M263.4,396.3h0M263.6,386.2h0M263.7,387.3h0M263.8,387.1h0M263.9,382.8h0M264.1,385.6h0M264.2,386.6h0M264.3,388.9h0M264.4,384.4h0M264.6,391.0h0M264.7,390.9h0M264.8,385.3h0M265.0,383.1h0M265.1,383.2h0M265.2,385.5h0M265.3,383.3h0M265.5,391.2h0M265.6,384.2h0M265.7,390.9h0M265.8,395.9h0M266.0,388.6h0M266.1,394.6h0M266.2,394.3h0M266.3,388.2h0M266.5,385.4h0M266.6,386.1h0M266.7,391.3h0M266.8,392.9h0M267.0,394.4h0M267.1,398.7h0M267.2,393.0h0M267.4,391.9h0M267.5,391.5h0M267.6,393.9h0M267.7,389.7h0M267.9,387.9h0M268.0,388.6h0M268.1,392.8h0M268.2,394.1h0M268.4,396.1h0M268.5,397.5h0M268.6,403.7h0M268.7,404.5h0M268.9,404.5h0M269.0,398.7h0M269.1,400.7h0M269.3,401.9h0M269.4,398.4h0M269.5,397.8h0M269.6,392.6h0M269.8,395.0h0M269.9,393.2h0M270.0,388.1h0M270.1,388.3h0M270.3,386.0h0M270.4,388.6h0M270.5,384.1h0M270.6,383.8h0M270.8,383.5h0M270.9,384.3h0M271.0,388.9h0M271.2,387.5h0M271.3,386.3h0M271.4,393.2h0M271.5,387.8h0M271.7,393.4h0M271.8,393.5h0M271.9,390.2h0M272.0,386.6h0M272.2,390.1h0M272.3,390.1h0M272.4,390.2h0M272.5,381.2h0M272.7,379.2h0M272.8,382.6h0M272.9,378.6h0M273.0,384.7h0M273.2,380.1h0M273.3,383.4h0M273.4,386.0h0M273.6,382.9h0M273.7,391.5h0M273.8,383.8h0M273.9,382.1h0M274.1,389.9h0M274.2,396.2h0M274.3,389.7h0M274.4,393.4h0M274.6,388.3h0M274.7,391.6h0M274.8,394.1h0M274.9,388.9h0M275.1,385.7h0M275.2,382.1h0M275.3,381.3h0M275.5,383.3h0M275.6,377.7h0M275.7,377.9h0M275.8,373.2h0M276.0,378.4h0M276.1,381.0h0M276.2,378.9h0M276.3,373.6h0M276.5,376.7h0M276.6,378.8h0M276.7,376.7h0M276.8,382.6h0M277.0,379.7h0M277.1,375.2h0M277.2,374.7h0M277.3,377.5h0M277.5,377.0h0M277.6,369.7h0M277.7,364.7h0M277.9,368.5h0M278.0,361.4h0M278.1,363.4h0M278.2,359.8h0M278.4,359.0h0M278.5,358.2h0M278.6,357.4h0M278.7,356.6h0M278.9,355.8h0M279.0,355.0h0M279.1,354.3h0M279.2,354.1h0M279.4,353.9h0M279.5,353.7h0M279.6,353.6h0M279.8,353.4h0M279.9,310.6h0M280.0,290.6h0M280.1,293.1h0M280.3,294.0h0M280.4,282.6h0M280.5,277.7h0M280.6,279.7h0M280.8,277.3h0M280.9,276.4h0M281.0,274.4h0M281.1,267.5h0M281.3,266.8h0M281.4,273.1h0M281.5,272.6h0M281.6,259.6h0M281.8,272.1h0M281.9,263.6h0M282.0,261.1h0M282.2,254.8h0M282.3,258.3h0M282.4,260.2h0M282.5,252.7h0M282.7,261.6h0M282.8,259.1h0M282.9,249.1h0M283.0,256.9h0M283.2,254.3h0M283.3,249.9h0M283.4,251.6h0M283.5,248.7h0M283.7,250.3h0M283.8,248.6h0M283.9,245.3h0M284.1,241.4h0M284.2,237.8h0M284.3,239.2h0M284.4,236.0h0M284.6,236.1h0M284.7,237.3h0M284.8,241.7h0M284.9,239.2h0M285.1,241.2h0M285.2,243.3h0M285.3,245.6h0M285.4,244.7h0M285.6,247.9h0M285.7,251.2h0M285.8,255.0h0M285.9,251.1h0M286.1,253.5h0M286.2,251.2h0M286.3,250.3h0M286.5,257.6h0M286.6,266.1h0M286.7,269.4h0M286.8,273.8h0M287.0,275.5h0M287.1,276.6h0M287.2,275.6h0M287.3,267.7h0M287.5,267.1h0M287.6,272.6h0M287.7,275.8h0M287.8,283.9h0M288.0,285.4h0M288.1,280.9h0M288.2,285.7h0M288.4,281.8h0M288.5,281.9h0M288.6,290.8h0M288.7,285.3h0M288.9,288.3h0M289.0,288.3h0M289.1,296.3h0M289.2,286.0h0M289.4,285.5h0M289.5,286.7h0M289.6,283.4h0M289.7,286.6h0M289.9,285.0h0M290.0,288.4h0M290.1,297.0h0M290.2,292.3h0M290.4,298.4h0M290.5,300.0h0M290.6,302.0h0M290.8,302.2h0M290.9,302.3h0M291.0,302.5h0M291.1,302.7h0M291.3,302.8h0M291.4,303.0h0M291.5,302.7h0M291.6,303.3h0M291.8,303.5h0M291.9,303.6h0M292.0,303.8h0M292.1,303.9h0M292.3,304.4h0M292.4,305.0h0M292.5,304.2h0M292.7,302.4h0M292.8,304.1h0M292.9,299.2h0M293.0,307.6h0M293.2,307.1h0M293.3,308.1h0M293.4,306.9h0M293.5,309.8h0M293.7,313.9h0M293.8,323.1h0M293.9,333.2h0M294.0,331.4h0M294.2,341.9h0M294.3,342.7h0M294.4,343.5h0M294.6,344.4h0M294.7,345.2h0M294.8,346.0h0M294.9,346.8h0M295.1,347.6h0M295.2,348.5h0M295.3,349.3h0M295.4,350.1h0M295.6,350.9h0M295.7,351.8h0M295.8,351.5h0M295.9,352.9h0M296.1,354.2h0M296.2,355.1h0M296.3,354.8h0M296.4,355.2h0M296.6,357.5h0M296.7,357.8h0M296.8,357.7h0M297.0,357.6h0M297.1,357.5h0M297.2,346.3h0M297.3,353.2h0M297.5,355.6h0M297.6,357.1h0M297.7,356.1h0M297.8,356.9h0M298.0,356.8h0M298.1,356.7h0M298.2,356.6h0M298.3,356.5h0M298.5,356.4h0M298.6,356.3h0M298.7,356.2h0M298.9,356.1h0M299.0,345.4h0M299.1,342.1h0M299.2,338.0h0M299.4,345.5h0M299.5,331.4h0M299.6,343.6h0M299.7,324.5h0M299.9,332.2h0M300.0,340.5h0M300.1,334.7h0M300.2,332.7h0M300.4,348.4h0M300.5,340.0h0M300.6,338.4h0M300.7,345.5h0M300.9,336.3h0M301.0,329.6h0M301.1,349.4h0M301.3,344.2h0M301.4,352.9h0M301.5,351.4h0M301.6,334.8h0M301.8,336.1h0M301.9,330.9h0M302.0,334.0h0M302.1,329.8h0M302.3,332.8h0M302.4,339.6h0M302.5,348.4h0M302.6,342.8h0M302.8,339.4h0M302.9,332.9h0M303.0,326.5h0M303.2,321.3h0M303.3,326.9h0M303.4,320.1h0M303.5,323.5h0M303.7,317.6h0M303.8,317.6h0M303.9,331.0h0M304.0,336.6h0M304.2,330.0h0M304.3,333.7h0M304.4,333.3h0M304.5,329.9h0M304.7,330.7h0M304.8,318.9h0M304.9,319.6h0M305.0,322.1h0M305.2,320.8h0M305.3,327.5h0M305.4,327.6h0M305.6,323.1h0M305.7,323.7h0M305.8,332.2h0M305.9,336.4h0M306.1,334.5h0M306.2,335.8h0M306.3,334.7h0M306.4,335.5h0M306.6,337.0h0M306.7,340.2h0M306.8,332.5h0M306.9,337.1h0M307.1,339.9h0M307.2,341.6h0M307.3,335.3h0M307.5,337.2h0M307.6,340.5h0M307.7,344.3h0M307.8,350.4h0M308.0,355.0h0M308.1,356.1h0M308.2,355.7h0M308.3,350.3h0M308.5,351.5h0M308.6,354.5h0M308.7,349.0h0M308.8,348.3h0M309.0,341.0h0M309.1,343.6h0M309.2,347.8h0M309.3,353.3h0M309.5,351.2h0M309.6,353.5h0M309.7,354.9h0M309.9,350.4h0M310.0,353.1h0M310.1,351.9h0M310.2,352.6h0M310.4,350.5h0M310.5,348.3h0M310.6,345.7h0M310.7,348.6h0M310.9,347.5h0M311.0,347.6h0M311.1,348.2h0M311.2,348.8h0M311.4,350.6h0M311.5,350.1h0M311.6,350.7h0M311.8,351.3h0M311.9,352.0h0M312.0,355.0h0M312.1,355.1h0M312.3,364.5h0M312.4,366.3h0M312.5,364.9h0M312.6,356.6h0M312.8,356.3h0M312.9,357.0h0M313.0,357.6h0M313.1,358.2h0M313.3,358.8h0M313.4,361.9h0M313.5,360.1h0M313.7,360.7h0M313.8,369.1h0M313.9,367.2h0M314.0,367.1h0M314.2,367.9h0M314.3,367.9h0M314.4,372.8h0M314.5,376.0h0M314.7,377.6h0M314.8,377.8h0M314.9,382.7h0M315.0,374.7h0M315.2,375.4h0M315.3,371.9h0M315.4,370.6h0M315.5,371.6h0M315.7,376.6h0M315.8,386.8h0M315.9,382.3h0M316.1,375.9h0M316.2,369.7h0M316.3,369.9h0M316.4,378.9h0M316.6,375.6h0M316.7,377.2h0M316.8,377.2h0M316.9,369.9h0M317.1,370.0h0M317.2,371.2h0M317.3,370.3h0M317.4,370.4h0M317.6,370.5h0M317.7,370.7h0M317.8,370.8h0M318.0,370.9h0M318.1,371.1h0M318.2,384.1h0M318.3,375.6h0M318.5,387.5h0M318.6,390.0h0M318.7,390.1h0M318.8,393.0h0M319.0,396.3h0M319.1,394.1h0M319.2,384.3h0M319.3,389.1h0M319.5,393.4h0M319.6,402.8h0M319.7,402.7h0M319.8,398.0h0M320.0,393.3h0M320.1,387.6h0M320.2,378.9h0M320.4,385.8h0M320.5,402.8h0M320.6,399.0h0M320.7,399.1h0M320.9,395.8h0M321.0,395.1h0M321.1,392.1h0M321.2,391.5h0M321.4,379.0h0M321.5,375.5h0M321.6,378.2h0M321.7,386.2h0M321.9,385.4h0M322.0,391.9h0M322.1,391.5h0M322.3,390.0h0M322.4,385.6h0M322.5,386.9h0M322.6,405.0h0M322.8,395.1h0M322.9,400.6h0M323.0,402.0h0M323.1,405.8h0M323.3,397.2h0M323.4,386.1h0M323.5,378.6h0M323.6,385.0h0M323.8,391.8h0M323.9,389.5h0M324.0,380.6h0M324.1,382.0h0M324.3,385.5h0M324.4,393.5h0M324.5,405.1h0M324.7,391.7h0M324.8,393.3h0M324.9,391.7h0M325.0,401.9h0M325.2,400.1h0M325.3,404.9h0M325.4,401.7h0M325.5,405.8h0M325.7,398.6h0M325.8,399.1h0M325.9,386.7h0M326.0,393.5h0M326.2,395.1h0M326.3,396.5h0M326.4,398.2h0M326.6,398.3h0M326.7,394.5h0M326.8,391.7h0M326.9,385.4h0M327.1,386.1h0M327.2,386.7h0M327.3,387.4h0M327.4,390.2h0M327.6,396.2h0M327.7,394.6h0M327.8,401.5h0M327.9,404.0h0M328.1,406.1h0M328.2,408.1h0M328.3,406.7h0M328.4,400.4h0M328.6,408.0h0M328.7,406.9h0M328.8,412.3h0M329.0,412.5h0M329.1,411.5h0M329.2,413.0h0M329.3,413.3h0M329.5,413.5h0M329.6,412.5h0M329.7,414.0h0M329.8,414.3h0M330.0,414.5h0M330.1,414.8h0M330.2,414.7h0M330.3,415.0h0M330.5,415.1h0M330.6,415.2h0M330.7,415.2h0M330.9,415.3h0M331.0,414.4h0M331.1,415.5h0M331.2,415.6h0M331.4,414.9h0M331.5,414.1h0M331.6,415.6h0M331.7,413.9h0M331.9,416.1h0M332.0,414.0h0M332.1,412.5h0M332.2,413.7h0M332.4,406.2h0M332.5,410.3h0M332.6,412.9h0M332.7,409.5h0M332.9,409.9h0M333.0,411.3h0M333.1,412.9h0M333.3,416.3h0M333.4,411.2h0M333.5,413.8h0M333.6,408.6h0M333.8,410.3h0M333.9,413.7h0M334.0,412.5h0M334.1,412.6h0M334.3,417.8h0M334.4,414.3h0M334.5,414.3h0M334.6,416.7h0M334.8,409.8h0M334.9,409.4h0M335.0,410.1h0M335.2,412.3h0M335.3,413.7h0M335.4,409.1h0M335.5,418.6h0M335.7,415.9h0M335.8,413.4h0M335.9,417.2h0M336.0,417.1h0M336.2,416.5h0M336.3,413.2h0M336.4,418.9h0M336.5,419.0h0M336.7,419.0h0M336.8,417.3h0M336.9,418.0h0M337.1,419.2h0M337.2,419.2h0M337.3,418.9h0M337.4,419.3h0M337.6,419.4h0M337.7,419.0h0M337.8,419.5h0M337.9,419.5h0M338.1,419.6h0M338.2,419.6h0M338.3,415.3h0M338.4,419.1h0M338.6,418.2h0M338.7,419.8h0M338.8,418.9h0M338.9,418.8h0M339.1,420.0h0M339.2,420.0h0M339.3,418.9h0M339.5,420.1h0M339.6,420.2h0M339.7,420.2h0M339.8,420.3h0M340.0,420.3h0M340.1,420.4h0M340.2,417.4h0M340.3,420.5h0M340.5,420.5h0M340.6,420.6h0M340.7,420.6h0M340.8,420.7h0M341.0,420.7h0M341.1,420.8h0M341.2,420.8h0M341.4,420.9h0M341.5,421.0h0M341.6,421.0h0M341.7,421.1h0M341.9,421.2h0M342.0,421.3h0M342.1,421.4h0M342.2,421.4h0M342.4,421.2h0M342.5,420.7h0M342.6,419.0h0M342.7,418.0h0M342.9,410.5h0M343.0,414.8h0M343.1,418.8h0M343.2,416.6h0M343.4,414.7h0M343.5,411.6h0M343.6,411.1h0M343.8,413.2h0M343.9,410.8h0M344.0,410.1h0M344.1,411.0h0M344.3,408.5h0M344.4,408.7h0M344.5,408.8h0M344.6,409.0h0M344.8,409.2h0M344.9,409.3h0M345.0,409.5h0M345.1,409.8h0M345.3,410.0h0M345.4,410.0h0M345.5,410.1h0M345.7,410.3h0M345.8,411.8h0M345.9,410.6h0M346.0,410.7h0M346.2,413.1h0M346.3,411.1h0M346.4,413.3h0M346.5,411.7h0M346.7,413.3h0M346.8,417.7h0M346.9,418.2h0M347.0,416.8h0M347.2,420.3h0M347.3,417.2h0M347.4,419.7h0M347.5,419.4h0M347.7,422.6h0M347.8,422.3h0M347.9,421.3h0M348.1,418.6h0M348.2,416.7h0M348.3,422.0h0M348.4,422.5h0M348.6,422.5h0M348.7,420.7h0M348.8,422.7h0M348.9,422.8h0M349.1,422.2h0M349.2,419.6h0M349.3,421.4h0M349.4,418.6h0M349.6,421.0h0M349.7,419.1h0M349.8,418.6h0M350.0,421.8h0M350.1,424.7h0M350.2,420.3h0M350.3,420.1h0M350.5,421.4h0M350.6,416.7h0M350.7,410.5h0M350.8,404.0h0M351.0,401.3h0M351.1,400.7h0M351.2,396.8h0M351.3,399.6h0M351.5,404.6h0M351.6,396.4h0M351.7,398.3h0M351.8,397.3h0M352.0,397.6h0M352.1,401.1h0M352.2,400.4h0M352.4,404.1h0M352.5,407.6h0M352.6,406.0h0M352.7,406.0h0M352.9,409.5h0M353.0,405.9h0M353.1,399.1h0M353.2,404.9h0M353.4,408.6h0M353.5,399.1h0M353.6,405.8h0M353.7,410.2h0M353.9,411.3h0M354.0,405.3h0M354.1,405.5h0M354.3,409.1h0M354.4,410.9h0M354.5,408.2h0M354.6,410.2h0M354.8,411.3h0M354.9,413.4h0M355.0,415.1h0M355.1,415.3h0M355.3,409.4h0M355.4,415.4h0M355.5,407.0h0M355.6,415.7h0M355.8,408.2h0M355.9,408.2h0M356.0,410.7h0M356.2,414.6h0M356.3,413.6h0M356.4,417.6h0M356.5,410.6h0M356.7,402.3h0M356.8,398.2h0M356.9,400.3h0M357.0,404.0h0M357.2,407.1h0M357.3,411.4h0M357.4,407.9h0M357.5,409.7h0M357.7,407.4h0M357.8,415.1h0M357.9,414.6h0M358.0,415.8h0M358.2,411.8h0M358.3,411.6h0M358.4,415.5h0M358.6,415.7h0M358.7,421.0h0M358.8,414.2h0M358.9,409.3h0M359.1,412.8h0M359.2,419.5h0M359.3,419.5h0M359.4,422.6h0M359.6,420.1h0M359.7,417.9h0M359.8,416.7h0M359.9,412.1h0M360.1,411.6h0M360.2,410.9h0M360.3,409.3h0M360.5,412.6h0M360.6,413.1h0M360.7,410.1h0M360.8,411.9h0M361.0,412.8h0M361.1,409.6h0M361.2,417.7h0M361.3,414.0h0M361.5,418.8h0M361.6,418.5h0M361.7,419.2h0M361.8,421.1h0M362.0,424.8h0M362.1,421.5h0M362.2,416.7h0M362.3,420.9h0M362.5,416.2h0M362.6,423.3h0M362.7,423.9h0M362.9,423.7h0M363.0,416.0h0M363.1,408.5h0M363.2,408.7h0M363.4,412.8h0M363.5,409.2h0M363.6,409.8h0M363.7,409.7h0M363.9,410.0h0M364.0,410.3h0M364.1,412.1h0M364.2,410.8h0M364.4,411.0h0M364.5,414.2h0M364.6,411.5h0M364.8,411.8h0M364.9,412.1h0M365.0,418.0h0M365.1,419.2h0M365.3,422.4h0M365.4,415.2h0M365.5,415.1h0M365.6,413.7h0M365.8,414.1h0M365.9,416.1h0M366.0,414.8h0M366.1,415.2h0M366.3,415.5h0M366.4,415.9h0M366.5,416.2h0M366.6,416.6h0M366.8,416.9h0M366.9,417.3h0M367.0,417.7h0M367.2,418.0h0M367.3,418.4h0M367.4,418.7h0M367.5,420.0h0M367.7,422.2h0M367.8,425.0h0M367.9,420.3h0M368.0,421.6h0M368.2,420.9h0M368.3,421.2h0M368.4,421.6h0M368.5,424.0h0M368.7,422.6h0M368.8,422.6h0M368.9,423.0h0M369.1,423.4h0M369.2,423.7h0M369.3,424.1h0M369.4,424.4h0M369.6,424.8h0M369.7,425.1h0M369.8,425.5h0M369.9,427.2h0M370.1,431.6h0M370.2,428.5h0M370.3,431.5h0M370.4,430.8h0M370.6,430.9h0M370.7,436.5h0M370.8,438.8h0M370.9,435.0h0M371.1,437.9h0M371.2,440.9h0M371.3,436.9h0M371.5,439.9h0M371.6,445.3h0M371.7,441.6h0M371.8,445.1h0M372.0,440.2h0M372.1,442.3h0M372.2,445.4h0M372.3,444.2h0M372.5,442.2h0M372.6,442.7h0M372.7,445.2h0M372.8,449.6h0M373.0,451.9h0M373.1,449.7h0M373.2,452.7h0M373.4,455.1h0M373.5,453.7h0M373.6,452.7h0M373.7,451.8h0M373.9,450.3h0M374.0,451.9h0M374.1,452.6h0M374.2,451.9h0M374.4,450.2h0M374.5,449.6h0M374.6,449.9h0M374.7,449.2h0M374.9,448.6h0M375.0,446.1h0M375.1,446.8h0M375.2,440.9h0M375.4,439.4h0M375.5,437.0h0M375.6,435.5h0M375.8,432.5h0M375.9,435.3h0M376.0,431.9h0M376.1,433.8h0M376.3,436.1h0M376.4,434.3h0M376.5,433.6h0M376.6,431.4h0M376.8,430.2h0M376.9,432.8h0M377.0,437.2h0M377.1,436.7h0M377.3,438.3h0M377.4,441.2h0M377.5,435.7h0M377.7,435.3h0M377.8,435.2h0M377.9,439.1h0M378.0,435.7h0M378.2,434.3h0M378.3,439.5h0M378.4,438.7h0M378.5,436.7h0M378.7,434.7h0M378.8,436.8h0M378.9,436.9h0M379.0,435.8h0M379.2,439.2h0M379.3,434.4h0M379.4,439.6h0M379.6,435.1h0M379.7,438.3h0M379.8,438.4h0M379.9,438.0h0M380.1,436.3h0M380.2,439.4h0M380.3,433.3h0M380.4,436.1h0M380.6,436.4h0M380.7,430.5h0M380.8,433.8h0M380.9,429.2h0M381.1,429.4h0M381.2,431.2h0M381.3,434.1h0M381.4,430.8h0M381.6,431.1h0M381.7,429.4h0M381.8,434.8h0M382.0,434.9h0M382.1,433.1h0M382.2,430.1h0M382.3,431.6h0M382.5,434.2h0M382.6,429.6h0M382.7,431.4h0M382.8,429.7h0M383.0,431.0h0M383.1,430.3h0M383.2,429.8h0M383.3,429.8h0M383.5,429.8h0M383.6,429.9h0M383.7,430.3h0M383.9,431.0h0M384.0,431.7h0M384.1,432.4h0M384.2,433.0h0M384.4,436.2h0M384.5,439.5h0M384.6,437.1h0M384.7,438.7h0M384.9,442.4h0M385.0,442.2h0M385.1,443.4h0M385.2,445.6h0M385.4,442.1h0M385.5,444.5h0M385.6,445.7h0M385.7,445.1h0M385.9,451.6h0M386.0,449.1h0M386.1,448.2h0M386.3,450.8h0M386.4,452.2h0M386.5,448.3h0M386.6,453.9h0M386.8,453.8h0M386.9,455.4h0M387.0,457.4h0M387.1,455.3h0M387.3,452.7h0M387.4,451.7h0M387.5,450.4h0M387.6,450.7h0M387.8,451.0h0M387.9,451.3h0M388.0,451.6h0M388.2,452.0h0M388.3,454.5h0M388.4,452.6h0M388.5,455.4h0M388.7,454.2h0M388.8,455.4h0M388.9,461.5h0M389.0,458.6h0M389.2,458.7h0M389.3,456.8h0M389.4,460.3h0M389.5,458.3h0M389.7,458.9h0M389.8,456.2h0M389.9,461.3h0M390.0,461.9h0M390.2,462.2h0M390.3,467.2h0M390.4,467.8h0M390.6,467.6h0M390.7,468.0h0M390.8,468.5h0M390.9,468.7h0M391.1,469.0h0M391.2,468.8h0M391.3,469.5h0M391.4,469.7h0M391.6,469.9h0M391.7,469.0h0M391.8,470.4h0M391.9,467.9h0M392.1,465.6h0M392.2,467.6h0M392.3,468.0h0M392.5,467.2h0M392.6,467.9h0M392.7,468.1h0M392.8,467.7h0M393.0,468.2h0M393.1,468.6h0M393.2,466.3h0M393.3,468.5h0M393.5,466.7h0M393.6,465.3h0M393.7,465.2h0M393.8,464.8h0M394.0,465.0h0M394.1,463.2h0M394.2,464.1h0M394.3,465.8h0M394.5,469.8h0M394.6,467.8h0M394.7,467.5h0M394.9,467.4h0M395.0,468.8h0M395.1,469.0h0M395.2,466.4h0M395.4,470.2h0M395.5,470.0h0M395.6,470.2h0M395.7,469.5h0M395.9,468.4h0M396.0,470.2h0M396.1,470.6h0M396.2,471.2h0M396.4,471.2h0M396.5,471.2h0M396.6,471.2h0M396.8,470.6h0M396.9,471.2h0M397.0,468.7h0M397.1,467.2h0M397.3,467.4h0M397.4,466.9h0M397.5,466.6h0M397.6,467.3h0M397.8,468.3h0M397.9,468.3h0M398.0,465.8h0M398.1,464.4h0M398.3,464.7h0M398.4,467.0h0M398.5,465.3h0M398.7,465.6h0M398.8,465.5h0M398.9,465.0h0M399.0,465.7h0M399.2,465.3h0M399.3,467.4h0M399.4,466.9h0M399.5,468.4h0M399.7,467.7h0M399.8,469.2h0M399.9,469.3h0M400.0,466.8h0M400.2,468.4h0M400.3,466.8h0M400.4,465.1h0M400.5,465.2h0M400.7,465.3h0M400.8,466.7h0M400.9,465.6h0M401.1,468.6h0M401.2,467.8h0M401.3,467.8h0M401.4,467.4h0M401.6,468.5h0M401.7,468.7h0M401.8,470.9h0M401.9,469.2h0M402.1,470.1h0M402.2,468.8h0M402.3,469.9h0M402.4,471.0h0M402.6,471.9h0M402.7,472.5h0M402.8,471.3h0M403.0,472.6h0M403.1,472.2h0M403.2,471.5h0M403.3,472.0h0M403.5,470.8h0M403.6,472.6h0M403.7,470.1h0M403.8,471.3h0M404.0,473.2h0M404.1,473.3h0M404.2,472.5h0M404.3,470.1h0M404.5,471.8h0M404.6,468.9h0M404.7,468.5h0M404.8,470.1h0M405.0,469.6h0M405.1,469.0h0M405.2,471.2h0M405.4,470.6h0M405.5,470.3h0M405.6,469.6h0M405.7,468.2h0M405.9,468.3h0M406.0,468.3h0M406.1,468.4h0M406.2,470.0h0M406.4,469.8h0M406.5,468.6h0M406.6,468.7h0M406.7,468.8h0M406.9,468.9h0M407.0,468.9h0M407.1,469.0h0M407.3,469.1h0M407.4,469.2h0M407.5,469.2h0M407.6,469.3h0M407.8,471.3h0M407.9,472.3h0M408.0,471.6h0M408.1,470.7h0M408.3,470.9h0M408.4,471.6h0M408.5,471.1h0M408.6,470.4h0M408.8,471.4h0M408.9,470.3h0M409.0,470.3h0M409.1,473.4h0M409.3,471.8h0M409.4,472.4h0M409.5,471.1h0M409.7,470.7h0M409.8,472.4h0M409.9,473.5h0M410.0,474.1h0M410.2,472.9h0M410.3,474.0h0M410.4,475.0h0M410.5,475.4h0M410.7,475.8h0M410.8,475.7h0M410.9,475.7h0M411.0,475.7h0M411.2,475.6h0M411.3,474.7h0M411.4,475.1h0M411.6,475.5h0M411.7,475.5h0M411.8,474.7h0M411.9,473.1h0M412.1,473.6h0M412.2,472.7h0M412.3,471.5h0M412.4,473.6h0M412.6,473.4h0M412.7,472.1h0M412.8,472.5h0M412.9,470.0h0M413.1,468.9h0M413.2,469.6h0M413.3,468.7h0M413.4,468.7h0M413.6,468.6h0M413.7,468.6h0M413.8,468.5h0M414.0,468.5h0M414.1,468.5h0M414.2,468.8h0M414.3,468.4h0M414.5,469.9h0M414.6,471.2h0M414.7,469.9h0M414.8,470.8h0M415.0,471.3h0M415.1,471.7h0M415.2,472.3h0M415.3,473.7h0M415.5,472.4h0M415.6,473.1h0M415.7,472.5h0M415.9,472.4h0M416.0,471.1h0M416.1,471.0h0M416.2,471.1h0M416.4,473.2h0M416.5,472.7h0M416.6,472.0h0M416.7,472.1h0M416.9,473.1h0M417.0,473.3h0M417.1,473.8h0M417.2,473.7h0M417.4,472.7h0M417.5,473.7h0M417.6,473.6h0M417.7,472.9h0M417.9,473.6h0M418.0,473.5h0M418.1,473.5h0M418.3,473.4h0M418.4,473.4h0M418.5,473.4h0M418.6,473.3h0M418.8,471.7h0M418.9,473.2h0M419.0,472.7h0M419.1,472.6h0M419.3,473.1h0M419.4,473.1h0M419.5,473.0h0M419.6,471.9h0M419.8,471.0h0M419.9,471.7h0M420.0,471.4h0M420.2,469.6h0M420.3,469.5h0M420.4,468.8h0M420.5,468.7h0M420.7,469.5h0M420.8,468.5h0M420.9,467.1h0M421.0,468.1h0M421.2,468.3h0M421.3,467.0h0M421.4,464.8h0M421.5,464.5h0M421.7,464.3h0M421.8,465.8h0M421.9,466.0h0M422.1,469.0h0M422.2,468.9h0M422.3,468.5h0M422.4,466.8h0M422.6,469.4h0M422.7,472.2h0M422.8,470.4h0M422.9,465.7h0M423.1,464.4h0M423.2,461.9h0M423.3,463.5h0M423.4,462.0h0M423.6,464.9h0M423.7,467.7h0M423.8,466.3h0M423.9,468.4h0M424.1,465.8h0M424.2,466.8h0M424.3,468.0h0M424.5,471.5h0M424.6,470.8h0M424.7,469.7h0M424.8,470.7h0M425.0,469.4h0M425.1,468.3h0M425.2,463.7h0M425.3,457.8h0M425.5,459.6h0M425.6,462.6h0M425.7,466.7h0M425.8,465.2h0M426.0,461.6h0M426.1,464.8h0M426.2,462.7h0M426.4,457.3h0M426.5,465.3h0M426.6,465.9h0M426.7,472.2h0M426.9,470.6h0M427.0,471.9h0M427.1,468.0h0M427.2,468.9h0M427.4,464.4h0M427.5,468.8h0M427.6,463.7h0M427.7,463.2h0M427.9,463.5h0M428.0,466.2h0M428.1,467.3h0M428.2,458.7h0M428.4,458.8h0M428.5,464.4h0M428.6,462.7h0M428.8,459.0h0M428.9,456.1h0M429.0,457.2h0M429.1,462.8h0M429.3,457.6h0M429.4,456.8h0M429.5,457.0h0M429.6,455.1h0M429.8,461.5h0M429.9,457.6h0M430.0,466.0h0M430.1,467.1h0M430.3,468.7h0M430.4,468.7h0M430.5,466.5h0M430.7,455.6h0M430.8,444.6h0M430.9,433.7h0M431.0,427.3h0M431.2,427.3h0M431.3,422.5h0M431.4,419.6h0M431.5,413.8h0M431.7,414.9h0M431.8,417.5h0M431.9,413.6h0M432.0,416.3h0M432.2,414.5h0M432.3,418.2h0M432.4,417.4h0M432.5,416.3h0M432.7,411.4h0M432.8,408.4h0M432.9,403.9h0M433.1,403.8h0M433.2,403.7h0M433.3,403.5h0M433.4,407.5h0M433.6,412.6h0M433.7,414.1h0M433.8,417.2h0M433.9,417.3h0M434.1,417.6h0M434.2,412.7h0M434.3,416.3h0M434.4,413.7h0M434.6,409.3h0M434.7,409.0h0M434.8,406.8h0M435.0,408.9h0M435.1,405.5h0M435.2,406.9h0M435.3,403.2h0M435.5,405.2h0M435.6,409.7h0M435.7,403.2h0M435.8,416.2h0M436.0,408.3h0M436.1,417.5h0M436.2,410.0h0M436.3,414.3h0M436.5,425.9h0M436.6,425.9h0M436.7,424.9h0M436.8,425.9h0M437.0,425.7h0M437.1,425.6h0M437.2,419.3h0M437.4,417.8h0M437.5,414.6h0M437.6,414.9h0M437.7,411.6h0M437.9,417.6h0M438.0,414.4h0M438.1,417.4h0M438.2,411.5h0M438.4,401.7h0M438.5,409.9h0M438.6,398.8h0M438.7,402.7h0M438.9,420.4h0M439.0,423.5h0M439.1,417.4h0M439.3,423.7h0M439.4,414.3h0M439.5,412.5h0M439.6,417.1h0M439.8,413.2h0M439.9,408.2h0M440.0,417.5h0M440.1,414.3h0M440.3,416.3h0M440.4,410.9h0M440.5,413.6h0M440.6,409.9h0M440.8,413.8h0M440.9,411.4h0M441.0,414.3h0M441.2,427.0h0M441.3,423.2h0M441.4,425.3h0M441.5,420.6h0M441.7,419.3h0M441.8,418.5h0M441.9,416.7h0M442.0,421.6h0M442.2,420.4h0M442.3,413.0h0M442.4,421.9h0M442.5,416.0h0M442.7,421.9h0M442.8,414.6h0M442.9,419.1h0M443.0,422.1h0M443.2,426.7h0M443.3,421.5h0M443.4,429.4h0M443.6,425.4h0M443.7,425.0h0M443.8,429.8h0M443.9,426.1h0M444.1,425.1h0M444.2,422.4h0M444.3,428.6h0M444.4,423.0h0M444.6,423.4h0M444.7,422.8h0M444.8,427.3h0M444.9,421.9h0M445.1,420.1h0M445.2,417.3h0M445.3,415.2h0M445.5,418.3h0M445.6,418.0h0M445.7,416.7h0M445.8,420.4h0M446.0,417.7h0M446.1,419.1h0M446.2,419.7h0M446.3,424.2h0M446.5,424.0h0M446.6,426.8h0M446.7,427.7h0M446.8,429.7h0M447.0,435.5h0M447.1,433.5h0M447.2,434.7h0M447.3,431.9h0M447.5,432.5h0M447.6,433.4h0M447.7,430.3h0M447.9,434.2h0M448.0,434.5h0M448.1,428.2h0M448.2,428.3h0M448.4,427.2h0M448.5,427.7h0M448.6,428.2h0M448.7,428.6h0M448.9,428.9h0M449.0,429.3h0M449.1,429.7h0M449.2,430.0h0M449.4,430.4h0M449.5,430.7h0M449.6,431.1h0M449.8,435.7h0M449.9,436.4h0M450.0,433.9h0M450.1,435.2h0M450.3,434.9h0M450.4,435.2h0M450.5,435.8h0M450.6,433.9h0M450.8,435.8h0M450.9,435.4h0M451.0,436.2h0M451.1,440.3h0M451.3,437.3h0M451.4,440.5h0M451.5,440.1h0M451.6,439.4h0M451.8,439.1h0M451.9,435.6h0M452.0,437.9h0M452.2,433.4h0M452.3,435.2h0M452.4,431.8h0M452.5,434.0h0M452.7,430.0h0M452.8,437.4h0M452.9,433.5h0M453.0,435.0h0M453.2,434.2h0M453.3,439.9h0M453.4,440.3h0M453.5,440.2h0M453.7,440.1h0M453.8,439.5h0M453.9,437.4h0M454.1,434.8h0M454.2,435.8h0M454.3,435.9h0M454.4,434.3h0M454.6,435.2h0M454.7,434.1h0M454.8,434.7h0M454.9,436.1h0M455.1,431.6h0M455.2,433.8h0M455.3,430.2h0M455.4,429.0h0M455.6,424.9h0M455.7,426.8h0M455.8,430.0h0M455.9,427.6h0M456.1,432.8h0M456.2,435.2h0M456.3,433.9h0M456.5,428.8h0M456.6,427.9h0M456.7,424.0h0M456.8,423.9h0M457.0,423.8h0M457.1,423.7h0M457.2,423.6h0M457.3,423.5h0M457.5,427.5h0M457.6,427.2h0M457.7,427.7h0M457.8,423.9h0M458.0,428.7h0M458.1,432.3h0M458.2,431.9h0M458.4,431.7h0M458.5,429.5h0M458.6,426.4h0M458.7,424.7h0M458.9,420.2h0M459.0,424.5h0M459.1,421.3h0M459.2,425.4h0M459.4,417.7h0M459.5,416.1h0M459.6,420.8h0M459.7,417.5h0M459.9,418.8h0M460.0,418.5h0M460.1,415.4h0M460.2,416.5h0M460.4,407.4h0M460.5,407.2h0M460.6,410.2h0M460.8,406.0h0M460.9,405.5h0M461.0,411.3h0M461.1,415.7h0M461.3,404.7h0M461.4,404.7h0M461.5,387.4h0M461.6,349.8h0M461.8,349.8h0M461.9,353.4h0M462.0,354.3h0M462.1,357.4h0M462.3,353.3h0M462.4,356.7h0M462.5,363.8h0M462.7,362.3h0M462.8,373.8h0M462.9,370.4h0M463.0,370.9h0M463.2,373.2h0M463.3,373.0h0M463.4,372.5h0M463.5,373.8h0M463.7,372.9h0M463.8,374.9h0M463.9,375.4h0M464.0,375.9h0M464.2,368.7h0M464.3,376.3h0M464.4,367.1h0M464.6,370.7h0M464.7,369.8h0M464.8,375.9h0M464.9,375.6h0M465.1,371.9h0M465.2,372.4h0M465.3,365.9h0M465.4,365.1h0M465.6,369.0h0M465.7,366.3h0M465.8,364.1h0M465.9,364.1h0M466.1,360.5h0M466.2,358.8h0M466.3,362.4h0M466.4,358.4h0M466.6,369.2h0M466.7,362.9h0M466.8,367.1h0M467.0,363.6h0M467.1,372.0h0M467.2,378.0h0M467.3,371.2h0M467.5,362.4h0M467.6,361.8h0M467.7,361.2h0M467.8,377.3h0M468.0,397.8h0M468.1,402.4h0M468.2,398.3h0M468.3,395.7h0M468.5,392.8h0M468.6,395.3h0M468.7,393.8h0M468.9,396.9h0M469.0,408.1h0M469.1,405.5h0M469.2,398.3h0M469.4,408.0h0M469.5,404.0h0M469.6,404.9h0M469.7,406.8h0M469.9,408.3h0M470.0,403.5h0M470.1,401.7h0M470.2,398.6h0M470.4,394.3h0M470.5,392.5h0M470.6,393.9h0M470.7,399.6h0M470.9,393.3h0M471.0,398.6h0M471.1,399.7h0M471.3,394.9h0M471.4,392.7h0M471.5,405.7h0M471.6,394.2h0M471.8,391.3h0M471.9,392.5h0M472.0,391.5h0M472.1,391.6h0M472.3,391.7h0M472.4,393.3h0M472.5,391.9h0M472.6,392.0h0M472.8,392.1h0M472.9,392.2h0M473.0,392.3h0M473.2,392.4h0M473.3,393.6h0M473.4,394.8h0M473.5,392.8h0M473.7,393.9h0M473.8,393.0h0M473.9,394.1h0M474.0,394.3h0M474.2,402.2h0M474.3,410.0h0M474.4,409.0h0M474.5,414.3h0M474.7,414.3h0M474.8,414.3h0M474.9,414.3h0M475.0,414.3h0M475.2,414.3h0M475.3,414.3h0M475.4,414.3h0M475.6,414.3h0M475.7,414.3h0M475.8,414.4h0M475.9,414.7h0M476.1,415.0h0M476.2,411.0h0M476.3,404.2h0M476.4,397.6h0M476.6,402.1h0M476.7,405.1h0M476.8,402.6h0M476.9,406.6h0M477.1,405.8h0M477.2,403.0h0M477.3,398.4h0M477.5,410.9h0M477.6,418.9h0M477.7,419.3h0M477.8,419.6h0M478.0,417.8h0M478.1,411.8h0M478.2,406.1h0M478.3,415.1h0M478.5,409.5h0M478.6,406.5h0M478.7,412.6h0M478.8,415.1h0M479.0,406.9h0M479.1,407.8h0M479.2,402.7h0M479.3,401.0h0M479.5,397.0h0M479.6,397.3h0M479.7,400.6h0M479.9,398.0h0M480.0,398.3h0M480.1,398.6h0M480.2,398.9h0M480.4,399.2h0M480.5,399.5h0M480.6,400.2h0M480.7,401.1h0M480.9,402.0h0M481.0,402.9h0M481.1,408.2h0M481.2,404.7h0M481.4,405.7h0M481.5,409.2h0M481.6,411.0h0M481.8,414.2h0M481.9,410.1h0M482.0,410.2h0M482.1,411.1h0M482.3,416.8h0M482.4,414.8h0M482.5,419.6h0M482.6,416.0h0M482.8,419.9h0M482.9,416.8h0M483.0,419.3h0M483.1,422.3h0M483.3,428.6h0M483.4,429.1h0M483.5,431.7h0M483.7,433.2h0M483.8,433.3h0M483.9,433.5h0M484.0,433.3h0M484.2,433.9h0M484.3,434.1h0M484.4,434.3h0M484.5,434.4h0M484.7,426.6h0M484.8,425.9h0M484.9,420.4h0M485.0,421.5h0M485.2,428.3h0M485.3,428.3h0M485.4,427.4h0M485.5,428.8h0M485.7,425.2h0M485.8,427.3h0M485.9,426.9h0M486.1,429.0h0M486.2,429.0h0M486.3,429.7h0M486.4,434.6h0M486.6,433.3h0M486.7,436.3h0M486.8,431.6h0M486.9,429.3h0M487.1,430.7h0M487.2,431.2h0M487.3,437.6h0M487.4,438.5h0M487.6,435.1h0M487.7,433.0h0M487.8,433.9h0M488.0,431.3h0M488.1,432.2h0M488.2,436.4h0M488.3,434.5h0M488.5,433.0h0M488.6,434.7h0M488.7,434.4h0M488.8,429.9h0M489.0,431.7h0M489.1,432.1h0M489.2,433.4h0M489.3,437.4h0M489.5,433.6h0M489.6,432.4h0M489.7,434.1h0M489.8,434.2h0M490.0,433.8h0M490.1,436.0h0M490.2,433.8h0M490.4,435.1h0M490.5,437.8h0M490.6,436.2h0M490.7,434.2h0M490.9,433.1h0M491.0,432.8h0M491.1,432.6h0M491.2,433.5h0M491.4,436.6h0M491.5,436.1h0M491.6,438.0h0M491.7,435.4h0M491.9,436.6h0M492.0,430.9h0M492.1,430.6h0M492.3,430.4h0M492.4,430.1h0M492.5,429.9h0M492.6,431.1h0M492.8,432.6h0M492.9,431.5h0M493.0,432.9h0M493.1,435.0h0M493.3,434.8h0M493.4,435.7h0M493.5,433.5h0M493.6,433.9h0M493.8,435.4h0M493.9,436.5h0M494.0,436.3h0M494.1,436.5h0M494.3,436.3h0M494.4,436.0h0M494.5,435.0h0M494.7,433.7h0M494.8,435.2h0M494.9,433.3h0M495.0,431.7h0M495.2,429.1h0M495.3,431.4h0M495.4,431.1h0M495.5,431.0h0M495.7,432.9h0M495.8,429.6h0M495.9,428.4h0M496.0,428.4h0M496.2,429.1h0M496.3,427.1h0M496.4,428.9h0M496.6,427.3h0M496.7,429.8h0M496.8,423.0h0M496.9,420.0h0M497.1,417.5h0M497.2,415.8h0M497.3,415.1h0M497.4,414.3h0M497.6,413.6h0M497.7,416.0h0M497.8,412.2h0M497.9,418.3h0M498.1,415.3h0M498.2,415.1h0M498.3,414.6h0M498.4,420.1h0M498.6,415.1h0M498.7,422.3h0M498.8,419.6h0M499.0,419.2h0M499.1,418.6h0M499.2,419.2h0M499.3,422.0h0M499.5,415.2h0M499.6,414.0h0M499.7,417.3h0M499.8,417.3h0M500.0,415.4h0M500.1,413.9h0M500.2,407.7h0M500.3,411.7h0M500.5,415.2h0M500.6,412.8h0M500.7,414.5h0M500.9,413.9h0M501.0,411.2h0M501.1,416.4h0M501.2,408.8h0M501.4,409.5h0M501.5,406.3h0M501.6,406.1h0M501.7,406.1h0M501.9,402.9h0M502.0,402.9h0M502.1,402.8h0M502.2,402.7h0M502.4,406.2h0M502.5,402.6h0M502.6,406.0h0M502.7,402.5h0M502.9,402.8h0M503.0,402.4h0M503.1,402.3h0M503.3,402.3h0M503.4,406.3h0M503.5,404.3h0M503.6,405.8h0M503.8,413.0h0M503.9,410.7h0M504.0,406.2h0M504.1,401.9h0M504.3,401.8h0M504.4,401.7h0M504.5,401.7h0M504.6,401.6h0M504.8,413.5h0M504.9,416.5h0M505.0,419.2h0M505.2,420.6h0M505.3,422.2h0M505.4,422.2h0M505.5,420.3h0M505.7,415.0h0M505.8,413.5h0M505.9,404.9h0M506.0,409.1h0M506.2,406.7h0M506.3,406.2h0M506.4,411.4h0M506.5,407.7h0M506.7,413.3h0M506.8,411.3h0M506.9,416.3h0M507.1,418.5h0M507.2,406.2h0M507.3,405.5h0M507.4,406.3h0M507.6,403.6h0M507.7,401.0h0M507.8,402.7h0M507.9,401.5h0M508.1,401.6h0M508.2,401.8h0M508.3,401.2h0M508.4,401.2h0M508.6,401.3h0M508.7,404.9h0M508.8,407.8h0M508.9,403.0h0M509.1,401.4h0M509.2,407.5h0M509.3,401.5h0M509.5,401.6h0M509.6,402.5h0M509.7,405.0h0M509.8,401.7h0M510.0,405.4h0M510.1,412.9h0M510.2,406.3h0M510.3,407.0h0M510.5,407.8h0M510.6,406.4h0M510.7,403.8h0M510.8,404.1h0M511.0,405.4h0M511.1,405.6h0M511.2,405.0h0M511.4,405.3h0M511.5,405.6h0M511.6,414.8h0M511.7,415.1h0M511.9,410.8h0M512.0,413.9h0M512.1,411.0h0M512.2,411.4h0M512.4,415.7h0M512.5,416.7h0M512.6,415.1h0M512.7,414.5h0M512.9,415.7h0M513.0,417.6h0M513.1,419.0h0M513.2,414.9h0M513.4,416.5h0M513.5,419.9h0M513.6,420.3h0M513.8,421.5h0M513.9,422.0h0M514.0,423.2h0M514.1,424.9h0M514.3,422.3h0M514.4,421.8h0M514.5,419.3h0M514.6,416.4h0M514.8,412.2h0M514.9,414.1h0M515.0,417.1h0M515.1,419.0h0M515.3,416.1h0M515.4,410.9h0M515.5,411.0h0M515.7,414.7h0M515.8,412.2h0M515.9,412.3h0M516.0,412.8h0M516.2,415.9h0M516.3,418.3h0M516.4,411.9h0M516.5,414.3h0M516.7,414.2h0M516.8,417.1h0M516.9,414.8h0M517.0,417.1h0M517.2,418.2h0M517.3,420.9h0M517.4,417.3h0M517.5,416.0h0M517.7,416.9h0M517.8,414.8h0M517.9,412.8h0M518.1,414.9h0M518.2,411.7h0M518.3,414.1h0M518.4,412.9h0M518.6,413.8h0M518.7,411.6h0M518.8,411.1h0M518.9,411.0h0M519.1,411.2h0M519.2,412.4h0M519.3,412.7h0M519.4,412.8h0M519.6,415.2h0M519.7,414.4h0M519.8,414.7h0M520.0,417.9h0M520.1,415.8h0M520.2,416.3h0M520.3,417.1h0M520.5,416.6h0M520.6,418.3h0M520.7,415.5h0M520.8,413.7h0M521.0,416.0h0M521.1,415.1h0M521.2,417.5h0M521.3,417.9h0M521.5,417.8h0M521.6,409.9h0M521.7,415.2h0M521.8,413.3h0M522.0,417.0h0M522.1,416.5h0M522.2,411.2h0M522.4,410.1h0M522.5,412.7h0M522.6,416.4h0M522.7,414.5h0M522.9,412.7h0M523.0,407.9h0M523.1,408.6h0M523.2,409.0h0M523.4,409.3h0M523.5,404.5h0M523.6,402.5h0M523.7,403.4h0M523.9,402.0h0M524.0,404.7h0M524.1,401.6h0M524.3,401.1h0M524.4,400.0h0M524.5,399.6h0M524.6,399.2h0M524.8,399.1h0M524.9,398.5h0M525.0,398.0h0M525.1,397.6h0M525.3,397.3h0M525.4,396.9h0M525.5,396.5h0M525.6,396.1h0M525.8,395.7h0M525.9,395.3h0M526.0,394.9h0M526.2,394.5h0M526.3,393.8h0M526.4,393.0h0M526.5,392.3h0M526.7,391.6h0M526.8,390.9h0M526.9,395.9h0M527.0,396.3h0M527.2,398.1h0M527.3,400.3h0M527.4,401.5h0M527.5,400.0h0M527.7,399.1h0M527.8,393.8h0M527.9,393.4h0M528.0,395.8h0M528.2,390.6h0M528.3,391.0h0M528.4,390.7h0M528.6,395.6h0M528.7,394.6h0M528.8,394.2h0M528.9,388.2h0M529.1,390.7h0M529.2,392.3h0M529.3,390.4h0M529.4,387.4h0M529.6,384.8h0M529.7,381.0h0M529.8,377.5h0M529.9,372.7h0M530.1,374.5h0M530.2,376.3h0M530.3,366.4h0M530.5,369.5h0M530.6,363.5h0M530.7,365.5h0M530.8,358.4h0M531.0,358.2h0M531.1,355.6h0M531.2,354.7h0M531.3,355.2h0M531.5,348.3h0M531.6,347.8h0M531.7,344.6h0M531.8,343.1h0M532.0,341.6h0M532.1,340.0h0M532.2,338.5h0M532.3,337.0h0M532.5,335.5h0M532.6,333.9h0M532.7,332.3h0M532.9,330.7h0M533.0,329.1h0M533.1,327.5h0M533.2,325.9h0M533.4,324.3h0M533.5,322.7h0M533.6,321.1h0M533.7,319.5h0M533.9,317.9h0M534.0,316.3h0M534.1,314.7h0M534.2,317.6h0M534.4,311.5h0M534.5,309.9h0M534.6,308.3h0M534.8,306.7h0M534.9,311.1h0M535.0,311.7h0M535.1,319.2h0M535.3,317.2h0M535.4,314.9h0M535.5,326.2h0M535.6,328.1h0M535.8,317.7h0M535.9,326.6h0M536.0,318.6h0M536.1,309.3h0M536.3,312.9h0M536.4,297.6h0M536.5,306.8h0M536.6,320.1h0M536.8,318.8h0M536.9,293.8h0M537.0,310.7h0M537.2,302.7h0M537.3,309.6h0M537.4,301.2h0M537.5,296.0h0M537.7,289.0h0M537.8,280.8h0M537.9,271.9h0M538.0,279.3h0M538.2,288.8h0M538.3,296.8h0M538.4,306.4h0M538.5,305.6h0M538.7,308.9h0M538.8,308.3h0M538.9,309.0h0M539.1,323.6h0M539.2,328.6h0M539.3,331.3h0M539.4,334.1h0M539.6,334.1h0M539.7,336.8h0M539.8,337.2h0M539.9,340.9h0M540.1,334.9h0M540.2,338.0h0M540.3,341.8h0M540.4,341.1h0M540.6,340.2h0M540.7,346.7h0M540.8,347.2h0M540.9,347.8h0M541.1,346.1h0M541.2,348.5h0M541.3,349.5h0M541.5,350.1h0M541.6,349.7h0M541.7,347.8h0M541.8,351.8h0M542.0,352.4h0M542.1,352.3h0M542.2,350.5h0M542.3,350.4h0M542.5,348.2h0M542.6,349.9h0M542.7,349.4h0M542.8,344.2h0M543.0,349.4h0M543.1,345.9h0M543.2,345.9h0M543.4,347.5h0M543.5,346.7h0M543.6,343.0h0M543.7,349.1h0M543.9,345.3h0M544.0,345.9h0M544.1,347.1h0M544.2,347.4h0M544.4,348.6h0M544.5,348.9h0M544.6,349.3h0M544.7,349.6h0M544.9,348.6h0M545.0,347.0h0M545.1,347.4h0M545.2,347.8h0M545.4,348.4h0M545.5,349.0h0M545.6,349.6h0M545.8,359.1h0M545.9,356.4h0M546.0,352.0h0M546.1,355.8h0M546.3,352.6h0M546.4,360.1h0M546.5,358.7h0M546.6,361.6h0M546.8,357.4h0M546.9,357.6h0M547.0,356.6h0M547.1,356.8h0M547.3,357.4h0M547.4,358.0h0M547.5,363.1h0M547.7,359.2h0M547.8,362.2h0M547.9,362.7h0M548.0,364.3h0M548.2,367.0h0M548.3,372.4h0M548.4,376.2h0M548.5,376.9h0M548.7,376.7h0M548.8,375.6h0M548.9,378.8h0M549.0,373.5h0M549.2,374.5h0M549.3,370.5h0M549.4,374.2h0M549.6,374.1h0M549.7,371.6h0M549.8,372.2h0M549.9,370.7h0M550.1,373.8h0M550.2,374.8h0M550.3,374.6h0M550.4,373.3h0M550.6,372.6h0M550.7,371.3h0M550.8,372.7h0M550.9,371.2h0M551.1,374.1h0M551.2,370.7h0M551.3,370.1h0M551.4,370.0h0M551.6,369.9h0M551.7,369.8h0M551.8,369.7h0M552.0,369.7h0M552.1,369.6h0M552.2,369.5h0M552.3,369.4h0M552.5,369.9h0M552.6,371.7h0M552.7,370.6h0M552.8,369.1h0M553.0,374.3h0M553.1,372.9h0M553.2,368.9h0M553.3,368.8h0M553.5,368.7h0M553.6,368.7h0M553.7,368.6h0M553.9,368.5h0M554.0,368.4h0M554.1,368.4h0M554.2,368.3h0M554.4,368.2h0M554.5,368.1h0M554.6,368.1h0M554.7,368.0h0M554.9,370.5h0M555.0,367.7h0M555.1,369.3h0M555.2,373.6h0M555.4,371.4h0M555.5,376.8h0M555.6,377.8h0M555.7,368.9h0M555.9,372.8h0M556.0,374.2h0M556.1,377.5h0M556.3,372.7h0M556.4,376.4h0M556.5,376.4h0M556.6,376.2h0M556.8,372.3h0M556.9,374.5h0M557.0,374.4h0M557.1,366.4h0M557.3,367.2h0M557.4,370.5h0M557.5,375.0h0M557.6,380.0h0M557.8,380.0h0M557.9,373.6h0M558.0,374.6h0M558.2,379.5h0M558.3,376.5h0M558.4,379.6h0M558.5,374.7h0M558.7,379.5h0M558.8,379.0h0M558.9,379.6h0M559.0,379.7h0M559.2,379.7h0M559.3,379.7h0M559.4,379.8h0M559.5,379.8h0M559.7,379.8h0M559.8,379.9h0M559.9,380.0h0M560.0,380.0h0M560.2,377.9h0M560.3,380.1h0M560.4,379.3h0M560.6,379.1h0M560.7,377.3h0M560.8,376.8h0M560.9,380.3h0M561.1,380.4h0M561.2,373.9h0M561.3,379.4h0M561.4,377.3h0M561.6,376.2h0M561.7,375.4h0M561.8,375.3h0M561.9,376.3h0M562.1,377.2h0M562.2,380.8h0M562.3,376.1h0M562.5,374.8h0M562.6,373.2h0M562.7,377.0h0M562.8,377.9h0M563.0,376.3h0M563.1,378.6h0M563.2,381.1h0M563.3,379.9h0M563.5,377.0h0M563.6,374.4h0M563.7,376.5h0M563.8,371.7h0M564.0,373.4h0M564.1,370.5h0M564.2,370.2h0M564.3,366.9h0M564.5,366.4h0M564.6,366.5h0M564.7,366.8h0M564.9,370.3h0M565.0,368.1h0M565.1,375.1h0M565.2,372.9h0M565.4,372.0h0M565.5,372.2h0M565.6,366.7h0M565.7,372.7h0M565.9,372.8h0M566.0,372.2h0M566.1,371.8h0M566.2,373.8h0M566.4,371.2h0M566.5,375.0h0M566.6,368.8h0M566.8,370.4h0M566.9,367.2h0M567.0,367.9h0M567.1,367.1h0M567.3,367.1h0M567.4,368.1h0M567.5,374.1h0M567.6,373.4h0M567.8,373.6h0M567.9,374.7h0M568.0,375.5h0M568.1,376.6h0M568.3,379.3h0M568.4,376.9h0M568.5,379.8h0M568.7,381.5h0M568.8,380.7h0M568.9,380.1h0M569.0,381.5h0M569.2,379.5h0M569.3,378.8h0M569.4,377.0h0M569.5,371.8h0M569.7,375.1h0M569.8,373.7h0M569.9,373.3h0M570.0,372.6h0M570.2,374.9h0M570.3,375.5h0M570.4,381.5h0M570.5,381.5h0M570.7,381.5h0M570.8,381.4h0M570.9,380.9h0M571.1,380.5h0M571.2,380.0h0M571.3,379.6h0M571.4,379.2h0M571.6,378.7h0M571.7,378.3h0M571.8,377.8h0M571.9,377.4h0M572.1,375.3h0M572.2,376.5h0M572.3,374.7h0M572.4,375.4h0M572.6,375.2h0M572.7,369.4h0M572.8,371.3h0M573.0,371.1h0M573.1,371.9h0M573.2,369.3h0M573.3,368.2h0M573.5,368.0h0M573.6,368.5h0M573.7,368.2h0M573.8,368.1h0M574.0,365.6h0M574.1,366.3h0M574.2,367.9h0M574.3,368.3h0M574.5,365.0h0M574.6,364.1h0M574.7,366.4h0M574.8,366.3h0M575.0,361.1h0M575.1,363.5h0M575.2,358.6h0M575.4,356.7h0M575.5,359.1h0M575.6,362.9h0M575.7,355.0h0M575.9,356.1h0M576.0,354.9h0M576.1,352.9h0M576.2,352.9h0M576.4,351.3h0M576.5,354.8h0M576.6,354.6h0M576.7,349.2h0M576.9,350.3h0M577.0,344.6h0M577.1,341.5h0M577.3,341.2h0M577.4,341.0h0M577.5,340.0h0M577.6,339.5h0M577.8,339.0h0M577.9,339.6h0M578.0,342.0h0M578.1,342.8h0M578.3,343.4h0M578.4,350.8h0M578.5,346.8h0M578.6,348.2h0M578.8,348.4h0M578.9,346.3h0M579.0,345.4h0M579.1,346.6h0M579.3,346.2h0M579.4,346.0h0M579.5,344.4h0M579.7,343.5h0M579.8,340.8h0M579.9,338.4h0M580.0,337.4h0M580.2,341.2h0M580.3,338.5h0M580.4,334.2h0M580.5,337.0h0M580.7,334.3h0M580.8,341.2h0M580.9,343.8h0M581.0,341.5h0M581.2,344.0h0M581.3,341.4h0M581.4,343.5h0M581.6,340.9h0M581.7,342.5h0M581.8,338.4h0M581.9,343.3h0M582.1,347.2h0M582.2,348.1h0M582.3,348.9h0M582.4,349.1h0M582.6,349.2h0M582.7,349.0h0M582.8,348.7h0M582.9,348.4h0M583.1,348.1h0M583.2,347.9h0M583.3,347.6h0M583.4,347.3h0M583.6,346.2h0M583.7,342.7h0M583.8,343.3h0M584.0,341.5h0M584.1,344.3h0M584.2,343.6h0M584.3,344.9h0M584.5,343.1h0M584.6,340.3h0M584.7,338.3h0M584.8,335.4h0M585.0,336.3h0M585.1,330.6h0M585.2,330.2h0M585.3,329.9h0M585.5,329.5h0M585.6,331.1h0M585.7,328.8h0M585.9,328.5h0M586.0,328.1h0M586.1,327.7h0M586.2,327.4h0M586.4,327.0h0M586.5,326.7h0M586.6,332.0h0M586.7,327.5h0M586.9,326.0h0M587.0,332.8h0M587.1,333.1h0M587.2,331.9h0M587.4,331.6h0M587.5,327.1h0M587.6,333.5h0M587.7,333.0h0M587.9,332.2h0M588.0,331.3h0M588.1,330.5h0M588.3,329.6h0M588.4,328.7h0M588.5,326.1h0M588.6,319.7h0M588.8,325.4h0M588.9,325.3h0M589.0,319.9h0M589.1,318.1h0M589.3,314.1h0M589.4,304.1h0M589.5,301.6h0M589.6,292.7h0M589.8,291.4h0M589.9,281.5h0M590.0,285.4h0M590.2,280.7h0M590.3,281.5h0M590.4,283.7h0M590.5,291.6h0M590.7,292.2h0M590.8,295.2h0M590.9,293.5h0M591.0,295.9h0M591.2,292.9h0M591.3,296.4h0M591.4,300.3h0M591.5,302.0h0M591.7,303.6h0M591.8,304.1h0M591.9,298.8h0M592.1,300.4h0M592.2,300.2h0M592.3,296.8h0M592.4,295.8h0M592.6,300.1h0M592.7,296.9h0M592.8,301.2h0M592.9,299.0h0M593.1,298.1h0M593.2,296.7h0M593.3,297.3h0M593.4,298.8h0M593.6,300.1h0M593.7,300.9h0M593.8,301.7h0M593.9,299.9h0M594.1,302.8h0M594.2,298.5h0M594.3,303.2h0M594.5,299.9h0M594.6,300.7h0M594.7,297.6h0M594.8,298.1h0M595.0,299.9h0M595.1,299.6h0M595.2,294.3h0M595.3,296.9h0M595.5,297.3h0M595.6,292.4h0M595.7,294.0h0M595.8,292.9h0M596.0,292.9h0M596.1,295.2h0M596.2,292.6h0M596.4,290.0h0M596.5,287.4h0M596.6,287.1h0M596.7,286.7h0M596.9,286.4h0M597.0,285.7h0M597.1,284.4h0M597.2,283.5h0M597.4,285.2h0M597.5,281.1h0M597.6,280.4h0M597.7,279.8h0M597.9,279.8h0M598.0,281.1h0M598.1,283.5h0M598.2,278.7h0M598.4,278.4h0M598.5,280.4h0M598.6,275.4h0M598.8,277.4h0M598.9,276.5h0M599.0,269.9h0M599.1,269.0h0M599.3,264.3h0M599.4,258.0h0M599.5,254.1h0M599.6,253.3h0M599.8,253.2h0M599.9,254.1h0M600.0,251.4h0M600.1,252.3h0M600.3,249.6h0M600.4,248.5h0M600.5,250.2h0M600.7,249.8h0M600.8,248.7h0M600.9,247.8h0M601.0,244.5h0M601.2,243.7h0M601.3,243.3h0M601.4,243.3h0M601.5,241.3h0M601.7,240.5h0M601.8,242.2h0M601.9,240.5h0M602.0,242.1h0M602.2,239.0h0M602.3,241.2h0M602.4,241.1h0M602.5,244.9h0M602.7,247.9h0M602.8,242.1h0M602.9,239.8h0M603.1,239.1h0M603.2,236.1h0M603.3,239.2h0M603.4,238.8h0M603.6,235.5h0M603.7,240.5h0M603.8,239.8h0M603.9,242.4h0M604.1,240.1h0M604.2,238.0h0M604.3,241.1h0M604.4,232.7h0M604.6,234.7h0M604.7,234.0h0M604.8,233.9h0M605.0,232.2h0M605.1,229.1h0M605.2,230.5h0M605.3,229.1h0M605.5,227.4h0M605.6,228.6h0M605.7,233.4h0M605.8,239.1h0M606.0,242.5h0M606.1,257.5h0M606.2,258.1h0M606.3,264.7h0M606.5,267.7h0M606.6,269.5h0M606.7,273.3h0M606.8,275.7h0M607.0,275.9h0M607.1,278.7h0M607.2,280.2h0M607.4,281.7h0M607.5,283.1h0M607.6,284.5h0M607.7,281.7h0M607.9,287.2h0M608.0,288.5h0M608.1,289.8h0M608.2,291.2h0M608.4,288.8h0M608.5,287.7h0M608.6,289.7h0M608.7,294.4h0M608.9,293.3h0M609.0,298.7h0M609.1,299.2h0M609.3,299.5h0M609.4,304.0h0M609.5,307.1h0M609.6,314.9h0M609.8,313.7h0M609.9,323.5h0M610.0,325.6h0M610.1,321.7h0M610.3,323.7h0M610.4,324.5h0M610.5,319.8h0M610.6,323.6h0M610.8,328.4h0M610.9,328.4h0M611.0,332.4h0M611.2,335.7h0M611.3,333.8h0M611.4,328.4h0M611.5,333.0h0M611.7,331.4h0M611.8,331.2h0M611.9,332.5h0M612.0,328.6h0M612.2,322.7h0M612.3,321.9h0M612.4,319.9h0M612.5,318.9h0M612.7,318.8h0M612.8,318.1h0M612.9,318.5h0M613.0,318.6h0M613.2,315.2h0M613.3,321.3h0M613.4,317.6h0M613.6,317.7h0M613.7,317.2h0M613.8,317.5h0M613.9,310.1h0M614.1,310.7h0M614.2,313.1h0M614.3,309.7h0M614.4,307.0h0M614.6,309.5h0M614.7,309.2h0M614.8,306.9h0M614.9,306.5h0M615.1,304.9h0M615.2,304.4h0M615.3,303.5h0M615.5,302.6h0M615.6,306.6h0M615.7,310.2h0M615.8,306.2h0M616.0,305.2h0M616.1,304.7h0M616.2,299.3h0M616.3,297.8h0M616.5,301.0h0M616.6,293.9h0M616.7,293.9h0M616.8,295.8h0M617.0,295.1h0M617.1,294.0h0M617.2,297.0h0M617.3,302.2h0M617.5,299.4h0M617.6,301.2h0M617.7,298.3h0M617.9,302.2h0M618.0,299.7h0M618.1,300.6h0M618.2,302.8h0M618.4,301.7h0M618.5,296.1h0M618.6,295.0h0M618.7,296.8h0M618.9,299.4h0M619.0,301.1h0M619.1,305.1h0M619.2,305.7h0M619.4,305.2h0M619.5,303.5h0M619.6,298.1h0M619.8,297.9h0M619.9,295.6h0M620.0,302.4h0M620.1,298.6h0M620.3,301.5h0M620.4,305.2h0M620.5,298.7h0M620.6,305.3h0M620.8,306.0h0M620.9,299.7h0M621.0,307.2h0M621.1,309.7h0M621.3,307.7h0M621.4,297.0h0M621.5,306.4h0M621.6,298.8h0M621.8,297.6h0M621.9,303.0h0M622.0,305.6h0M622.2,302.9h0M622.3,301.6h0M622.4,303.0h0M622.5,306.3h0M622.7,312.6h0M622.8,314.6h0M622.9,309.7h0M623.0,306.5h0M623.2,311.3h0M623.3,308.2h0M623.4,309.1h0M623.5,310.0h0M623.7,311.0h0M623.8,314.7h0M623.9,326.9h0M624.1,328.5h0M624.2,330.3h0M624.3,332.0h0M624.4,336.5h0M624.6,337.1h0M624.7,335.9h0M624.8,340.4h0M624.9,340.1h0M625.1,340.5h0M625.2,340.6h0M625.3,340.7h0M625.4,340.8h0M625.6,340.9h0M625.7,341.0h0M625.8,341.1h0M625.9,341.2h0M626.1,341.2h0M626.2,334.7h0M626.3,341.5h0M626.5,341.5h0M626.6,341.0h0M626.7,341.7h0M626.8,341.8h0M627.0,341.9h0M627.1,342.0h0M627.2,342.1h0M627.3,336.6h0M627.5,339.2h0M627.6,333.5h0M627.7,333.4h0M627.8,334.1h0M628.0,335.0h0M628.1,339.7h0M628.2,332.2h0M628.4,336.2h0M628.5,335.9h0M628.6,340.0h0M628.7,336.6h0M628.9,341.9h0M629.0,343.8h0M629.1,342.4h0M629.2,339.4h0M629.4,345.5h0M629.5,346.9h0M629.6,341.8h0M629.7,338.2h0M629.9,332.2h0M630.0,342.2h0M630.1,348.4h0M630.2,348.6h0M630.4,340.6h0M630.5,347.8h0M630.6,347.5h0M630.8,346.4h0M630.9,351.3h0M631.0,349.1h0M631.1,348.8h0M631.3,353.5h0M631.4,354.1h0M631.5,356.2h0M631.6,356.4h0M631.8,353.9h0M631.9,359.3h0M632.0,357.8h0M632.1,357.9h0M632.3,357.2h0M632.4,354.0h0M632.5,352.6h0M632.7,357.0h0M632.8,359.1h0M632.9,362.2h0M633.0,356.2h0M633.2,355.1h0M633.3,359.7h0M633.4,360.5h0M633.5,356.7h0M633.7,360.7h0M633.8,363.6h0M633.9,360.2h0M634.0,364.4h0M634.2,365.0h0M634.3,363.9h0M634.4,371.1h0M634.6,363.3h0M634.7,369.2h0M634.8,368.7h0M634.9,367.3h0M635.1,367.8h0M635.2,364.9h0M635.3,363.2h0M635.4,366.9h0M635.6,368.5h0M635.7,366.5h0M635.8,369.5h0M635.9,367.8h0M636.1,365.9h0M636.2,368.1h0M636.3,365.6h0M636.4,366.1h0M636.6,370.3h0M636.7,368.4h0M636.8,374.2h0M637.0,372.1h0M637.1,372.0h0M637.2,376.3h0M637.3,379.5h0M637.5,377.1h0M637.6,378.2h0M637.7,382.2h0M637.8,382.6h0M638.0,382.2h0M638.1,379.7h0M638.2,378.4h0M638.3,377.0h0M638.5,375.8h0M638.6,379.4h0M638.7,380.0h0M638.9,379.6h0M639.0,379.2h0M639.1,378.8h0M639.2,378.5h0M639.4,376.1h0M639.5,370.5h0M639.6,374.6h0M639.7,377.0h0M639.9,371.9h0M640.0,373.1h0M640.1,375.8h0M640.2,375.5h0M640.4,374.9h0M640.5,374.4h0M640.6,373.8h0M640.7,373.2h0M640.9,372.7h0M641.0,372.1h0M641.1,371.6h0M641.3,369.6h0M641.4,370.5h0M641.5,366.0h0M641.6,366.6h0M641.8,367.4h0M641.9,360.4h0M642.0,360.3h0M642.1,357.1h0M642.3,358.3h0M642.4,355.8h0M642.5,354.8h0M642.6,362.6h0M642.8,363.8h0M642.9,360.6h0M643.0,361.4h0M643.2,362.6h0M643.3,357.1h0M643.4,360.1h0M643.5,356.6h0M643.7,357.3h0M643.8,355.5h0M643.9,355.9h0M644.0,359.9h0M644.2,358.2h0M644.3,352.8h0M644.4,350.4h0M644.5,350.6h0M644.7,353.5h0M644.8,352.0h0M644.9,353.4h0M645.0,351.6h0M645.2,351.9h0M645.3,356.2h0M645.4,352.4h0M645.6,355.7h0M645.7,352.9h0M645.8,353.0h0M645.9,353.2h0M646.1,353.3h0M646.2,353.5h0M646.3,353.6h0M646.4,353.8h0M646.6,353.9h0M646.7,354.1h0M646.8,354.2h0M646.9,355.5h0M647.1,354.6h0M647.2,354.7h0M647.3,354.9h0M647.5,357.4h0M647.6,357.7h0M647.7,365.1h0M647.8,359.6h0M648.0,360.0h0M648.1,365.3h0M648.2,365.9h0M648.3,366.7h0M648.5,364.4h0M648.6,367.0h0M648.7,365.2h0M648.8,366.9h0M649.0,364.1h0M649.1,366.7h0M649.2,370.8h0M649.3,370.5h0M649.5,370.1h0M649.6,369.7h0M649.7,369.3h0M649.9,368.9h0M650.0,365.7h0M650.1,368.2h0M650.2,367.8h0M650.4,367.4h0M650.5,367.0h0M650.6,366.6h0M650.7,366.2h0M650.9,365.8h0M651.0,362.7h0M651.1,361.9h0M651.2,364.7h0M651.4,364.3h0M651.5,361.9h0M651.6,361.3h0M651.8,358.7h0M651.9,359.6h0M652.0,355.4h0M652.1,361.8h0M652.3,358.7h0M652.4,354.8h0M652.5,352.2h0M652.6,352.5h0M652.8,351.0h0M652.9,358.1h0M653.0,358.7h0M653.1,356.3h0M653.3,358.9h0M653.4,358.6h0M653.5,358.3h0M653.7,358.0h0M653.8,357.7h0M653.9,357.4h0M654.0,357.1h0M654.2,356.8h0M654.3,356.5h0M654.4,356.1h0M654.5,355.8h0M654.7,355.5h0M654.8,355.2h0M654.9,354.9h0M655.0,354.6h0M655.2,354.3h0M655.3,354.0h0M655.4,353.7h0M655.5,353.4h0M655.7,353.1h0M655.8,352.8h0M655.9,352.5h0M656.1,352.1h0M656.2,351.8h0M656.3,351.5h0M656.4,351.2h0M656.6,350.9h0M656.7,347.9h0M656.8,342.1h0M656.9,344.0h0M657.1,336.3h0M657.2,339.6h0M657.3,334.0h0M657.4,330.8h0M657.6,328.4h0M657.7,327.9h0M657.8,327.4h0M658.0,330.2h0M658.1,326.5h0M658.2,327.9h0M658.3,332.8h0M658.5,328.1h0M658.6,325.2h0M658.7,331.2h0M658.8,328.3h0M659.0,329.4h0M659.1,323.6h0M659.2,322.3h0M659.3,321.8h0M659.5,321.4h0M659.6,320.9h0M659.7,320.4h0M659.8,320.0h0M660.0,319.5h0M660.1,319.0h0M660.2,318.6h0M660.4,318.1h0M660.5,317.6h0M660.6,317.8h0M660.7,316.7h0M660.9,318.9h0M661.0,319.5h0M661.1,319.0h0M661.2,314.8h0M661.4,314.4h0M661.5,313.9h0M661.6,313.5h0M661.7,313.4h0M661.9,313.3h0M662.0,315.2h0M662.1,318.7h0M662.3,318.1h0M662.4,322.4h0M662.5,323.1h0M662.6,324.2h0M662.8,323.0h0M662.9,312.5h0M663.0,316.4h0M663.1,318.4h0M663.3,319.4h0M663.4,320.9h0M663.5,320.1h0M663.6,321.6h0M663.8,318.0h0M663.9,315.6h0M664.0,324.3h0M664.1,328.6h0M664.3,328.4h0M664.4,328.2h0M664.5,328.0h0M664.7,327.8h0M664.8,323.3h0M664.9,325.4h0M665.0,327.4h0M665.2,321.8h0M665.3,321.5h0M665.4,316.5h0M665.5,319.2h0M665.7,316.1h0M665.8,315.8h0M665.9,318.2h0M666.0,319.5h0M666.2,315.4h0M666.3,326.0h0M666.4,326.1h0M666.6,323.3h0M666.7,322.0h0M666.8,321.6h0M666.9,320.9h0M667.1,320.0h0M667.2,320.6h0M667.3,321.3h0M667.4,320.4h0M667.6,319.6h0M667.7,322.3h0M667.8,318.0h0M667.9,324.6h0M668.1,325.4h0M668.2,323.4h0M668.3,325.0h0M668.4,324.1h0M668.6,326.6h0M668.7,324.6h0M668.8,322.1h0M669.0,324.2h0M669.1,326.7h0M669.2,325.5h0M669.3,323.0h0M669.5,325.2h0M669.6,319.3h0M669.7,320.1h0M669.8,324.0h0M670.0,324.1h0M670.1,328.5h0M670.2,330.0h0M670.3,330.7h0M670.5,328.1h0M670.6,331.3h0M670.7,331.6h0M670.9,331.9h0M671.0,332.2h0M671.1,332.5h0M671.2,332.8h0M671.4,333.1h0M671.5,333.4h0M671.6,333.7h0M671.7,334.0h0M671.9,334.3h0M672.0,333.8h0M672.1,332.5h0M672.2,326.8h0M672.4,324.6h0M672.5,322.9h0M672.6,324.4h0M672.7,324.6h0M672.9,329.2h0M673.0,331.2h0M673.1,332.4h0M673.3,333.2h0M673.4,332.2h0M673.5,331.6h0M673.6,330.7h0M673.8,333.7h0M673.9,332.9h0M674.0,326.3h0M674.1,324.3h0M674.3,322.3h0M674.4,316.9h0M674.5,319.5h0M674.6,313.5h0M674.8,312.3h0M674.9,311.2h0M675.0,310.0h0M675.2,308.8h0M675.3,307.7h0M675.4,308.8h0M675.5,305.2h0M675.7,306.6h0M675.8,302.7h0M675.9,301.4h0M676.0,300.2h0M676.2,298.9h0M676.3,297.7h0M676.4,296.4h0M676.5,296.6h0M676.7,294.4h0M676.8,290.8h0M676.9,284.9h0M677.1,279.5h0M677.2,280.6h0M677.3,277.7h0M677.4,280.1h0M677.6,277.6h0M677.7,274.5h0M677.8,274.5h0M677.9,274.6h0M678.1,274.7h0M678.2,276.8h0M678.3,274.0h0M678.4,273.6h0M678.6,272.6h0M678.7,273.4h0M678.8,275.8h0M678.9,278.1h0M679.1,281.2h0M679.2,274.6h0M679.3,270.7h0M679.5,265.2h0M679.6,264.2h0M679.7,246.8h0M679.8,239.8h0M680.0,242.6h0M680.1,244.1h0M680.2,252.3h0M680.3,252.1h0M680.5,245.3h0M680.6,244.7h0M680.7,226.7h0M680.8,211.5h0M681.0,209.8h0M681.1,200.5h0M681.2,208.2h0M681.4,223.8h0M681.5,207.6h0M681.6,199.7h0M681.7,216.0h0M681.9,216.7h0M682.0,210.6h0M682.1,211.8h0M682.2,216.2h0M682.4,216.7h0M682.5,212.5h0M682.6,199.6h0M682.7,189.3h0M682.9,182.1h0M683.0,181.4h0M683.1,190.8h0M683.2,197.2h0M683.4,180.1h0M683.5,188.7h0M683.6,193.5h0M683.8,197.4h0M683.9,217.7h0M684.0,207.3h0M684.1,216.0h0M684.3,214.6h0M684.4,213.2h0M684.5,211.8h0M684.6,210.3h0M684.8,208.9h0M684.9,207.5h0M685.0,193.4h0M685.1,188.7h0M685.3,182.4h0M685.4,192.3h0M685.5,184.0h0M685.7,188.9h0M685.8,176.8h0M685.9,173.5h0M686.0,176.3h0M686.2,168.9h0M686.3,174.6h0M686.4,171.3h0M686.5,171.7h0M686.7,167.3h0M686.8,168.7h0M686.9,160.7h0M687.0,151.2h0M687.2,159.0h0M687.3,154.2h0M687.4,163.2h0M687.5,161.1h0M687.7,156.4h0M687.8,153.7h0M687.9,144.8h0M688.1,148.8h0M688.2,142.1h0M688.3,144.7h0M688.4,141.7h0M688.6,145.2h0M688.7,154.1h0M688.8,158.8h0M688.9,161.9h0M689.1,162.0h0M689.2,167.1h0M689.3,167.4h0M689.4,168.7h0M689.6,177.4h0M689.7,179.2h0M689.8,181.3h0M690.0,183.9h0M690.1,185.9h0M690.2,187.9h0M690.3,189.9h0M690.5,191.9h0M690.6,193.9h0M690.7,191.4h0M690.8,196.6h0M691.0,198.0h0M691.1,198.0h0M691.2,197.0h0M691.3,190.5h0M691.5,203.3h0M691.6,204.6h0M691.7,196.7h0M691.8,192.8h0M692.0,193.5h0M692.1,208.1h0M692.2,206.5h0M692.4,200.9h0M692.5,192.8h0M692.6,206.9h0M692.7,206.7h0M692.9,199.7h0M693.0,211.5h0M693.1,206.1h0M693.2,218.7h0M693.4,221.9h0M693.5,216.0h0M693.6,221.9h0M693.7,215.2h0M693.9,205.4h0M694.0,192.8h0M694.1,192.4h0M694.3,195.7h0M694.4,185.1h0M694.5,194.3h0M694.6,187.6h0M694.8,187.3h0M694.9,190.0h0M695.0,199.1h0M695.1,190.2h0M695.3,189.9h0M695.4,195.9h0M695.5,198.1h0M695.6,229.3h0M695.8,213.4h0M695.9,239.2h0M696.0,228.7h0M696.2,227.3h0M696.3,234.5h0M696.4,237.0h0M696.5,223.1h0M696.7,210.2h0M696.8,202.2h0M696.9,196.4h0M697.0,197.0h0M697.2,197.8h0M697.3,198.7h0M697.4,207.9h0M697.5,209.5h0M697.7,215.2h0M697.8,208.2h0M697.9,210.8h0M698.0,204.3h0M698.2,203.8h0M698.3,204.7h0M698.4,205.9h0M698.6,207.1h0M698.7,208.3h0M698.8,209.5h0M698.9,210.7h0M699.1,211.9h0M699.2,213.1h0M699.3,214.3h0M699.4,224.7h0M699.6,226.2h0M699.7,227.7h0M699.8,227.3h0M699.9,221.6h0M700.1,221.8h0M700.2,223.2h0M700.3,224.6h0M700.5,226.0h0M700.6,227.4h0M700.7,228.8h0M700.8,230.2h0M701.0,231.6h0M701.1,233.0h0M701.2,234.4h0M701.3,235.8h0M701.5,237.3h0M701.6,239.0h0M701.7,240.6h0M701.8,242.3h0M702.0,244.0h0M702.1,246.5h0M702.2,247.3h0M702.3,249.0h0M702.5,253.6h0M702.6,265.6h0M702.7,267.0h0M702.9,272.6h0M703.0,285.1h0M703.1,276.6h0M703.2,271.5h0M703.4,284.4h0M703.5,281.1h0M703.6,279.9h0M703.7,281.0h0M703.9,279.5h0M704.0,280.1h0M704.1,285.9h0M704.2,288.7h0M704.4,283.7h0M704.5,292.6h0M704.6,293.9h0M704.8,293.9h0M704.9,293.7h0M705.0,292.9h0M705.1,290.5h0M705.3,285.8h0M705.4,285.3h0M705.5,287.9h0M705.6,282.1h0M705.8,274.2h0M705.9,276.3h0M706.0,275.3h0M706.1,276.3h0M706.3,278.3h0M706.4,273.9h0M706.5,269.1h0M706.6,269.1h0M706.8,275.0h0M706.9,272.9h0M707.0,269.2h0M707.2,269.9h0M707.3,269.3h0M707.4,269.3h0M707.5,275.4h0M707.7,270.8h0M707.8,273.7h0M707.9,281.9h0M708.0,285.5h0M708.2,279.4h0M708.3,274.3h0M708.4,279.3h0M708.5,279.4h0M708.7,282.8h0M708.8,280.2h0M708.9,276.1h0M709.1,276.4h0M709.2,272.9h0M709.3,274.4h0M709.4,276.0h0M709.6,275.0h0M709.7,278.5h0M709.8,277.6h0M709.9,277.0h0M710.1,278.9h0M710.2,272.6h0M710.3,276.4h0M710.4,282.1h0M710.6,286.0h0M710.7,273.8h0M710.8,282.8h0M710.9,283.5h0M711.1,296.6h0M711.2,301.8h0M711.3,304.1h0M711.5,292.9h0M711.6,294.3h0M711.7,302.4h0M711.8,317.1h0M712.0,311.7h0M712.1,310.8h0M712.2,313.4h0M712.3,310.9h0M712.5,313.3h0M712.6,313.2h0M712.7,315.2h0M712.8,314.6h0M713.0,320.5h0M713.1,327.3h0M713.2,325.5h0M713.4,330.6h0M713.5,333.5h0M713.6,332.8h0M713.7,337.6h0M713.9,338.9h0M714.0,340.1h0M714.1,338.0h0M714.2,339.8h0M714.4,343.9h0M714.5,345.1h0M714.6,346.6h0M714.7,348.1h0M714.9,349.6h0M715.0,351.1h0M715.1,352.6h0M715.2,354.1h0M715.4,354.0h0M715.5,346.2h0M715.6,358.6h0M715.8,360.1h0M715.9,359.5h0M716.0,353.9h0M716.1,351.0h0M716.3,357.8h0M716.4,356.9h0M716.5,354.0h0M716.6,348.5h0M716.8,348.1h0M716.9,352.3h0M717.0,347.6h0M717.1,349.0h0M717.3,357.8h0M717.4,357.8h0M717.5,357.6h0M717.7,354.6h0M717.8,357.1h0M717.9,356.9h0M718.0,356.7h0M718.2,356.4h0M718.3,356.2h0M718.4,356.0h0M718.5,352.6h0M718.7,353.4h0M718.8,355.3h0M718.9,355.0h0M719.0,354.8h0M719.2,354.6h0M719.3,354.4h0M719.4,354.1h0M719.6,350.8h0M719.7,342.3h0M719.8,335.6h0M719.9,335.2h0M720.1,326.8h0M720.2,335.3h0M720.3,326.6h0M720.4,328.1h0M720.6,324.7h0M720.7,324.5h0M720.8,332.0h0M720.9,324.1h0M721.1,323.9h0M721.2,323.6h0M721.3,323.4h0M721.4,323.2h0M721.6,327.9h0M721.7,327.1h0M721.8,323.6h0M722.0,323.8h0M722.1,324.0h0M722.2,324.2h0M722.3,324.5h0M722.5,324.7h0M722.6,324.9h0M722.7,325.1h0M722.8,329.2h0M723.0,336.3h0M723.1,343.7h0M723.2,345.3h0M723.3,341.4h0M723.5,345.7h0M723.6,342.7h0M723.7,334.7h0M723.9,347.2h0M724.0,347.1h0M724.1,338.8h0M724.2,339.9h0M724.4,339.7h0M724.5,345.7h0M724.6,345.7h0M724.7,344.0h0M724.9,341.4h0M725.0,338.3h0M725.1,333.6h0M725.2,329.3h0M725.4,329.9h0M725.5,329.7h0M725.6,332.2h0M725.7,339.4h0M725.9,342.0h0M726.0,338.5h0M726.1,349.8h0M726.3,353.5h0M726.4,350.0h0M726.5,348.8h0M726.6,349.0h0M726.8,349.5h0M726.9,353.8h0M727.0,354.0h0M727.1,352.9h0M727.3,349.7h0M727.4,354.2h0M727.5,354.3h0M727.6,352.6h0M727.8,354.6h0M727.9,352.5h0M728.0,354.9h0M728.2,355.0h0M728.3,355.2h0M728.4,355.3h0M728.5,355.5h0M728.7,355.7h0M728.8,355.8h0M728.9,356.0h0M729.0,356.1h0M729.2,356.3h0M729.3,356.4h0M729.4,353.6h0M729.5,356.7h0M729.7,356.9h0M729.8,357.1h0M729.9,355.8h0M730.0,357.4h0M730.2,355.9h0M730.3,357.7h0M730.4,357.8h0M730.6,357.7h0M730.7,357.4h0M730.8,357.2h0M730.9,355.7h0M731.1,351.5h0M731.2,356.6h0M731.3,353.3h0M731.4,352.9h0M731.6,353.6h0M731.7,352.7h0M731.8,344.6h0M731.9,340.0h0M732.1,342.4h0M732.2,336.5h0M732.3,335.5h0M732.5,333.6h0M732.6,332.1h0M732.7,333.4h0M732.8,336.5h0M733.0,332.4h0M733.1,329.1h0M733.2,339.9h0M733.3,345.1h0M733.5,344.9h0M733.6,352.4h0M733.7,345.0h0M733.8,338.5h0M734.0,339.8h0M734.1,335.5h0M734.2,328.7h0M734.3,340.8h0M734.5,328.4h0M734.6,330.1h0M734.7,328.3h0M734.9,328.3h0M735.0,328.3h0M735.1,328.3h0M735.2,328.2h0M735.4,328.2h0M735.5,328.2h0M735.6,328.7h0M735.7,332.6h0M735.9,332.6h0M736.0,343.3h0M736.1,343.3h0M736.2,348.8h0M736.4,337.1h0M736.5,339.2h0M736.6,347.3h0M736.8,341.1h0M736.9,344.2h0M737.0,347.8h0M737.1,347.6h0M737.3,346.2h0M737.4,347.2h0M737.5,347.1h0M737.6,346.9h0M737.8,346.7h0M737.9,343.4h0M738.0,346.4h0M738.1,344.1h0M738.3,343.6h0M738.4,340.0h0M738.5,343.2h0M738.7,341.2h0M738.8,343.4h0M738.9,342.6h0M739.0,340.2h0M739.2,343.4h0M739.3,342.6h0M739.4,341.2h0M739.5,334.6h0M739.7,342.1h0M739.8,341.7h0M739.9,341.4h0M740.0,341.0h0M740.2,340.7h0M740.3,340.4h0M740.4,340.0h0M740.5,339.7h0M740.7,339.3h0M740.8,339.0h0M740.9,338.7h0M741.1,338.3h0M741.2,338.0h0M741.3,336.1h0M741.4,332.6h0M741.6,332.6h0M741.7,332.6h0M741.8,329.8h0M741.9,325.6h0M742.1,316.1h0M742.2,319.9h0M742.3,314.4h0M742.4,309.8h0M742.6,315.3h0M742.7,306.4h0M742.8,305.4h0M743.0,301.7h0M743.1,302.7h0M743.2,299.2h0M743.3,297.5h0M743.5,299.2h0M743.6,308.5h0M743.7,313.1h0M743.8,308.7h0M744.0,310.7h0M744.1,315.6h0M744.2,314.7h0M744.3,307.9h0M744.5,314.3h0M744.6,314.8h0M744.7,314.6h0M744.8,310.8h0M745.0,311.0h0M745.1,313.1h0M745.2,303.1h0M745.4,307.4h0M745.5,301.7h0M745.6,305.1h0M745.7,306.1h0M745.9,303.4h0M746.0,309.5h0M746.1,293.3h0M746.2,305.5h0M746.4,301.6h0M746.5,302.5h0M746.6,297.3h0M746.7,303.6h0M746.9,301.9h0M747.0,311.3h0M747.1,309.0h0M747.3,303.7h0M747.4,308.1h0M747.5,307.2h0M747.6,310.5h0M747.8,290.1h0M747.9,289.1h0M748.0,285.7h0M748.1,282.4h0M748.3,286.0h0M748.4,289.7h0M748.5,291.9h0M748.6,295.7h0M748.8,286.3h0M748.9,292.4h0M749.0,295.7h0M749.1,299.8h0M749.3,308.5h0M749.4,315.1h0M749.5,309.8h0M749.7,319.6h0M749.8,319.1h0M749.9,322.5h0M750.0,322.2h0M750.2,325.3h0M750.3,326.7h0M750.4,326.7h0M750.5,326.3h0M750.7,331.0h0M750.8,326.2h0M750.9,333.7h0M751.0,335.3h0M751.2,332.2h0M751.3,338.2h0M751.4,339.6h0M751.6,340.3h0M751.7,340.5h0M751.8,340.7h0M751.9,340.9h0M752.1,341.1h0M752.2,334.0h0M752.3,337.3h0M752.4,332.0h0M752.6,337.4h0M752.7,332.3h0M752.8,339.4h0M752.9,333.4h0M753.1,336.7h0M753.2,333.5h0M753.3,334.8h0M753.4,341.2h0M753.6,341.0h0M753.7,346.5h0M753.8,347.2h0M754.0,348.0h0M754.1,348.8h0M754.2,349.5h0M754.3,350.3h0M754.5,351.0h0M754.6,354.7h0M754.7,357.2h0M754.8,363.1h0M755.0,371.0h0M755.1,376.4h0M755.2,381.9h0M755.3,386.6h0M755.5,389.7h0M755.6,392.8h0M755.7,395.8h0M755.9,398.9h0M756.0,401.0h0M756.1,400.2h0M756.2,382.5h0M756.4,378.1h0M756.5,380.0h0M756.6,375.3h0M756.7,376.7h0M756.9,375.5h0M757.0,381.6h0M757.1,376.7h0M757.2,375.4h0M757.4,377.5h0M757.5,377.6h0M757.6,375.6h0M757.7,368.6h0M757.9,366.7h0M758.0,365.5h0M758.1,364.3h0M758.3,363.1h0M758.4,361.9h0M758.5,360.7h0M758.6,359.5h0M758.8,358.3h0M758.9,357.7h0M759.0,357.4h0M759.1,357.1h0M759.3,356.8h0M759.4,356.5h0M759.5,360.4h0M759.6,361.9h0M759.8,360.0h0M759.9,358.9h0M760.0,355.1h0M760.2,354.8h0M760.3,354.5h0M760.4,354.3h0M760.5,354.0h0M760.7,353.7h0M760.8,353.4h0M760.9,355.2h0M761.0,352.8h0M761.2,353.3h0M761.3,357.5h0M761.4,355.3h0M761.5,354.8h0M761.7,355.3h0M761.8,355.8h0M761.9,356.3h0M762.1,356.8h0M762.2,357.3h0M762.3,357.8h0M762.4,358.3h0M762.6,358.8h0M762.7,359.3h0M762.8,359.8h0M762.9,361.0h0M763.1,369.5h0M763.2,366.8h0M763.3,371.6h0M763.4,375.6h0M763.6,377.7h0M763.7,380.9h0M763.8,381.4h0M763.9,381.9h0M764.1,382.4h0M764.2,382.9h0M764.3,383.4h0M764.5,383.9h0M764.6,384.4h0M764.7,384.9h0M764.8,385.4h0M765.0,385.9h0M765.1,386.4h0M765.2,386.9h0M765.3,387.4h0M765.5,387.7h0M765.6,388.0h0M765.7,387.9h0M765.8,387.8h0M766.0,387.7h0M766.1,387.6h0M766.2,387.5h0M766.4,387.3h0M766.5,387.2h0M766.6,387.1h0M766.7,386.9h0M766.9,381.6h0M767.0,374.7h0M767.1,385.3h0M767.2,385.5h0M767.4,381.8h0M767.5,378.0h0M767.6,376.9h0M767.7,379.8h0M767.9,386.0h0M768.0,385.5h0M768.1,383.3h0M768.2,381.3h0M768.4,381.1h0M768.5,379.8h0M768.6,381.2h0M768.8,382.3h0M768.9,381.9h0M769.0,379.8h0M769.1,376.8h0M769.3,376.0h0M769.4,375.7h0M769.5,379.9h0M769.6,381.1h0M769.8,373.7h0M769.9,375.2h0M770.0,371.7h0M770.1,371.6h0M770.3,374.0h0M770.4,370.4h0M770.5,372.0h0M770.7,373.4h0M770.8,374.5h0M770.9,368.1h0M771.0,373.8h0M771.2,370.7h0M771.3,371.2h0M771.4,366.5h0M771.5,366.3h0M771.7,366.1h0M771.8,366.0h0M771.9,365.8h0M772.0,369.2h0M772.2,365.5h0M772.3,365.3h0M772.4,365.1h0M772.5,366.7h0M772.7,364.8h0M772.8,364.7h0M772.9,366.2h0M773.1,368.6h0M773.2,371.0h0M773.3,370.5h0M773.4,370.6h0M773.6,367.4h0M773.7,365.6h0M773.8,370.0h0M773.9,364.5h0M774.1,363.3h0M774.2,366.6h0M774.3,365.0h0M774.4,368.3h0M774.6,369.9h0M774.7,373.1h0M774.8,374.7h0M775.0,370.4h0M775.1,371.5h0M775.2,368.8h0M775.3,376.0h0M775.5,367.4h0M775.6,368.1h0M775.7,371.5h0M775.8,370.2h0M776.0,366.9h0M776.1,369.7h0M776.2,369.3h0M776.3,365.0h0M776.5,372.9h0M776.6,367.4h0M776.7,358.6h0M776.8,355.9h0M777.0,360.7h0M777.1,362.4h0M777.2,359.5h0M777.4,355.3h0M777.5,353.0h0M777.6,354.7h0M777.7,351.9h0M777.9,354.4h0M778.0,354.3h0M778.1,355.4h0M778.2,354.7h0M778.4,350.2h0M778.5,350.9h0M778.6,340.1h0M778.7,329.6h0M778.9,327.6h0M779.0,333.5h0M779.1,322.0h0M779.3,329.9h0M779.4,324.7h0M779.5,317.2h0M779.6,312.5h0M779.8,300.0h0M779.9,294.9h0M780.0,291.1h0M780.1,288.5h0M780.3,292.9h0M780.4,300.7h0M780.5,285.8h0M780.6,298.7h0M780.8,288.8h0M780.9,296.7h0M781.0,287.5h0M781.2,294.7h0M781.3,293.7h0M781.4,292.7h0M781.5,291.4h0M781.7,284.3h0M781.8,280.0h0M781.9,284.8h0M782.0,284.4h0M782.2,280.3h0M782.3,276.6h0M782.4,275.9h0M782.5,280.4h0M782.7,276.8h0M782.8,279.6h0M782.9,286.0h0M783.0,284.8h0M783.2,281.9h0M783.3,275.6h0M783.4,282.0h0M783.6,275.3h0M783.7,271.0h0M783.8,274.1h0M783.9,279.3h0M784.1,283.1h0M784.2,273.2h0M784.3,272.9h0M784.4,269.9h0M784.6,269.7h0M784.7,270.1h0M784.8,274.5h0M784.9,280.9h0M785.1,269.8h0M785.2,271.3h0M785.3,282.6h0M785.5,272.9h0M785.6,276.2h0M785.7,272.4h0M785.8,269.7h0M786.0,269.7h0M786.1,269.7h0M786.2,269.7h0M786.3,269.7h0M786.5,269.7h0M786.6,270.0h0M786.7,269.7h0M786.8,271.5h0M787.0,284.0h0M787.1,289.1h0M787.2,272.4h0M787.3,277.4h0M787.5,269.7h0M787.6,271.6h0M787.7,275.8h0M787.9,269.2h0M788.0,280.2h0M788.1,283.9h0M788.2,275.7h0M788.4,288.0h0M788.5,296.4h0M788.6,293.4h0M788.7,300.8h0M788.9,290.0h0M789.0,290.8h0M789.1,285.3h0M789.2,284.8h0M789.4,280.4h0M789.5,283.8h0M789.6,288.7h0M789.8,284.1h0M789.9,288.3h0M790.0,279.4h0M790.1,277.8h0M790.3,280.2h0M790.4,274.6h0M790.5,270.1h0M790.6,270.4h0M790.8,270.7h0M790.9,272.3h0M791.0,282.7h0M791.1,271.7h0M791.3,276.4h0M791.4,281.0h0M791.5,287.7h0M791.6,291.7h0M791.8,285.5h0M791.9,297.0h0M792.0,299.9h0M792.2,289.0h0M792.3,287.8h0M792.4,302.1h0M792.5,284.5h0M792.7,284.9h0M792.8,284.9h0M792.9,293.3h0M793.0,283.8h0M793.2,278.3h0M793.3,279.8h0M793.4,282.5h0M793.5,285.2h0M793.7,287.3h0M793.8,274.7h0M793.9,279.1h0M794.1,303.0h0M794.2,296.2h0M794.3,303.2h0M794.4,304.5h0M794.6,302.1h0M794.7,305.0h0M794.8,299.8h0M794.9,293.3h0M795.1,301.7h0M795.2,280.2h0M795.3,286.6h0M795.4,286.4h0M795.6,284.7h0M795.7,297.6h0M795.8,296.3h0M795.9,288.4h0M796.1,291.6h0M796.2,284.8h0M796.3,296.8h0M796.5,295.6h0M796.6,294.4h0M796.7,290.9h0M796.8,292.0h0M797.0,290.8h0M797.1,289.1h0M797.2,285.5h0M797.3,281.9h0M797.5,278.3h0M797.6,274.7h0M797.7,271.1h0M797.8,267.5h0M798.0,256.9h0M798.1,260.1h0M798.2,258.8h0M798.4,263.4h0M798.5,259.7h0M798.6,264.8h0M798.7,264.6h0M798.9,261.1h0M799.0,265.1h0M799.1,259.3h0M799.2,268.2h0M799.4,271.3h0M799.5,271.2h0M799.6,278.1h0M799.7,283.8h0M799.9,284.5h0M800.0,285.2h0M800.1,285.8h0M800.2,286.3h0M800.4,287.2h0M800.5,287.8h0M800.6,285.2h0M800.8,283.0h0M800.9,282.8h0M801.0,281.5h0M801.1,282.8h0M801.3,279.2h0M801.4,278.9h0M801.5,275.8h0M801.6,282.8h0M801.8,282.4h0M801.9,272.0h0M802.0,273.8h0M802.1,277.2h0M802.3,276.5h0M802.4,292.8h0M802.5,277.6h0M802.7,282.0h0M802.8,278.5h0M802.9,283.2h0M803.0,284.3h0M803.2,295.2h0M803.3,286.7h0M803.4,292.7h0M803.5,298.2h0M803.7,297.7h0M803.8,299.5h0M803.9,299.8h0M804.0,300.1h0M804.2,300.4h0M804.3,300.7h0M804.4,301.0h0M804.6,301.3h0M804.7,301.6h0M804.8,301.9h0M804.9,302.2h0M805.1,300.3h0M805.2,300.5h0M805.3,301.5h0M805.4,302.8h0M805.6,300.3h0M805.7,301.5h0M805.8,297.0h0M805.9,300.4h0M806.1,300.9h0M806.2,302.9h0M806.3,304.1h0M806.4,305.2h0M806.6,305.5h0M806.7,298.1h0M806.8,302.4h0M807.0,300.0h0M807.1,304.7h0M807.2,306.0h0M807.3,302.9h0M807.5,298.0h0M807.6,297.1h0M807.7,300.8h0M807.8,297.8h0M808.0,298.5h0M808.1,299.1h0M808.2,298.9h0M808.3,296.8h0M808.5,305.1h0M808.6,308.7h0M808.7,310.9h0M808.9,309.8h0M809.0,308.6h0M809.1,316.4h0M809.2,318.7h0M809.4,319.0h0M809.5,316.3h0M809.6,320.7h0M809.7,321.7h0M809.9,320.0h0M810.0,323.2h0M810.1,315.8h0M810.2,313.4h0M810.4,314.8h0M810.5,318.2h0M810.6,321.5h0M810.7,320.4h0M810.9,321.7h0M811.0,325.2h0M811.1,319.7h0M811.3,323.3h0M811.4,319.8h0M811.5,317.2h0M811.6,320.0h0M811.8,324.0h0M811.9,316.6h0M812.0,314.1h0M812.1,312.8h0M812.3,312.7h0M812.4,313.1h0M812.5,313.5h0M812.6,317.0h0M812.8,314.3h0M812.9,314.7h0M813.0,315.1h0M813.2,315.6h0M813.3,316.0h0M813.4,316.4h0M813.5,316.8h0M813.7,317.3h0M813.8,317.7h0M813.9,318.1h0M814.0,318.6h0M814.2,319.0h0M814.3,319.4h0M814.4,319.8h0M814.5,322.2h0M814.7,320.7h0M814.8,321.1h0M814.9,321.5h0M815.0,322.0h0M815.2,322.4h0M815.3,323.2h0M815.4,324.2h0M815.6,325.2h0M815.7,326.2h0M815.8,327.2h0M815.9,328.2h0M816.1,329.2h0M816.2,330.1h0M816.3,331.1h0M816.4,332.1h0M816.6,333.1h0M816.7,334.1h0M816.8,335.1h0M816.9,335.8h0M817.1,338.6h0M817.2,337.0h0M817.3,337.6h0M817.5,339.8h0M817.6,342.9h0M817.7,343.1h0M817.8,343.7h0M818.0,344.8h0M818.1,343.5h0M818.2,346.3h0M818.3,350.3h0M818.5,348.6h0M818.6,345.0h0M818.7,346.1h0M818.8,342.8h0M819.0,345.0h0M819.1,345.5h0M819.2,346.0h0M819.3,347.6h0M819.5,344.1h0M819.6,349.8h0M819.7,347.3h0M819.9,347.3h0M820.0,345.8h0M820.1,347.0h0M820.2,345.0h0M820.4,344.9h0M820.5,343.3h0M820.6,347.9h0M820.7,345.5h0M820.9,342.0h0M821.0,343.0h0M821.1,341.4h0M821.2,340.7h0M821.4,340.0h0M821.5,343.2h0M821.6,337.7h0M821.8,337.5h0M821.9,337.3h0M822.0,337.1h0M822.1,340.7h0M822.3,341.7h0M822.4,346.9h0M822.5,341.7h0M822.6,342.9h0M822.8,342.2h0M822.9,341.9h0M823.0,340.9h0M823.1,338.1h0M823.3,339.3h0M823.4,339.8h0M823.5,341.1h0M823.7,339.3h0M823.8,344.0h0M823.9,346.0h0M824.0,347.9h0M824.2,348.6h0M824.3,345.9h0M824.4,343.6h0M824.5,341.6h0M824.7,345.4h0M824.8,339.4h0M824.9,337.3h0M825.0,337.4h0M825.2,337.4h0M825.3,337.5h0M825.4,337.6h0M825.5,337.6h0M825.7,337.7h0M825.8,337.6h0M825.9,339.1h0M826.1,339.4h0M826.2,336.9h0M826.3,336.7h0M826.4,336.4h0M826.6,336.1h0M826.7,335.9h0M826.8,340.3h0M826.9,336.4h0M827.1,336.6h0M827.2,334.9h0M827.3,334.6h0M827.4,334.4h0M827.6,334.1h0M827.7,333.9h0M827.8,333.6h0M828.0,333.4h0M828.1,333.1h0M828.2,332.9h0M828.3,332.3h0M828.5,330.6h0M828.6,328.9h0M828.7,327.3h0M828.8,329.6h0M829.0,329.1h0M829.1,331.0h0M829.2,325.4h0M829.3,333.2h0M829.5,334.8h0M829.6,334.6h0M829.7,330.2h0M829.8,333.5h0M830.0,332.3h0M830.1,328.2h0M830.2,322.8h0M830.4,315.8h0M830.5,309.8h0M830.6,318.0h0M830.7,316.3h0M830.9,308.6h0M831.0,303.4h0M831.1,303.9h0M831.2,305.4h0M831.4,302.8h0M831.5,305.6h0M831.6,300.9h0M831.7,295.7h0M831.9,292.2h0M832.0,291.0h0M832.1,289.9h0M832.3,288.7h0M832.4,287.5h0M832.5,286.3h0M832.6,285.1h0M832.8,283.9h0M832.9,288.9h0M833.0,286.4h0M833.1,287.9h0M833.3,290.3h0M833.4,287.9h0M833.5,288.4h0M833.6,293.9h0M833.8,287.4h0M833.9,287.2h0M834.0,283.4h0M834.1,282.7h0M834.3,283.6h0M834.4,281.1h0M834.5,282.2h0M834.7,276.4h0M834.8,279.6h0M834.9,277.6h0M835.0,274.9h0M835.2,274.1h0M835.3,277.4h0M835.4,268.1h0M835.5,270.8h0M835.7,274.5h0M835.8,268.1h0M835.9,266.3h0M836.0,261.1h0M836.2,260.4h0M836.3,259.6h0M836.4,258.9h0M836.6,258.2h0M836.7,257.4h0M836.8,256.7h0M836.9,256.1h0M837.1,256.3h0M837.2,256.4h0M837.3,256.5h0M837.4,257.6h0M837.6,262.5h0M837.7,257.4h0M837.8,257.1h0M837.9,257.2h0M838.1,257.4h0M838.2,257.5h0M838.3,258.2h0M838.4,262.6h0M838.6,268.8h0M838.7,263.4h0M838.8,273.0h0M839.0,279.6h0M839.1,279.9h0M839.2,280.2h0M839.3,271.1h0M839.5,277.9h0M839.6,275.0h0M839.7,271.7h0M839.8,266.0h0M840.0,265.4h0M840.1,260.4h0M840.2,267.9h0M840.3,260.6h0M840.5,261.1h0M840.6,261.6h0M840.7,262.1h0M840.9,262.6h0M841.0,267.0h0M841.1,271.3h0M841.2,264.9h0M841.4,264.6h0M841.5,271.5h0M841.6,279.3h0M841.7,277.1h0M841.9,279.8h0M842.0,285.2h0M842.1,280.8h0M842.2,284.5h0M842.4,285.5h0M842.5,286.9h0M842.6,290.3h0M842.7,284.1h0M842.9,282.8h0M843.0,281.2h0M843.1,286.8h0M843.3,290.4h0M843.4,280.6h0M843.5,287.3h0M843.6,289.2h0M843.8,290.3h0M843.9,283.0h0M844.0,285.7h0M844.1,279.0h0M844.3,288.0h0M844.4,294.7h0M844.5,286.7h0M844.6,281.7h0M844.8,289.9h0M844.9,293.0h0M845.0,296.9h0M845.2,296.5h0M845.3,298.3h0M845.4,293.1h0M845.5,287.3h0M845.7,285.6h0M845.8,276.3h0M845.9,273.2h0M846.0,279.5h0M846.2,279.8h0M846.3,283.9h0M846.4,268.2h0M846.5,268.8h0M846.7,264.4h0M846.8,263.0h0M846.9,265.2h0M847.1,262.7h0M847.2,255.5h0M847.3,256.7h0M847.4,256.5h0M847.6,258.1h0M847.7,254.0h0M847.8,255.9h0M847.9,254.8h0M848.1,253.5h0M848.2,255.9h0M848.3,252.6h0M848.4,246.7h0M848.6,245.6h0M848.7,250.2h0M848.8,247.6h0M848.9,251.5h0M849.1,254.3h0M849.2,252.6h0M849.3,245.4h0M849.5,247.0h0M849.6,245.1h0M849.7,243.4h0M849.8,242.7h0M850.0,239.0h0M850.1,242.2h0M850.2,239.1h0M850.3,246.5h0M850.5,236.5h0M850.6,232.3h0M850.7,231.5h0M850.8,232.3h0M851.0,230.5h0M851.1,233.2h0M851.2,235.9h0M851.4,238.8h0M851.5,234.6h0M851.6,232.4h0M851.7,226.1h0M851.9,235.5h0M852.0,223.2h0M852.1,237.1h0M852.2,222.9h0M852.4,223.3h0M852.5,214.7h0M852.6,232.1h0M852.7,231.4h0M852.9,232.4h0M853.0,222.2h0M853.1,221.0h0M853.2,215.5h0M853.4,216.4h0M853.5,220.0h0M853.6,224.4h0M853.8,219.0h0M853.9,222.1h0M854.0,227.2h0M854.1,222.4h0M854.3,233.9h0M854.4,232.7h0M854.5,236.4h0M854.6,229.8h0M854.8,231.1h0M854.9,229.1h0M855.0,229.0h0M855.1,230.0h0M855.3,231.0h0M855.4,232.0h0M855.5,233.0h0M855.7,234.0h0M855.8,235.0h0M855.9,236.0h0M856.0,241.4h0M856.2,236.9h0M856.3,233.8h0M856.4,232.2h0M856.5,234.3h0M856.7,232.8h0M856.8,234.2h0M856.9,227.5h0M857.0,224.2h0M857.2,222.6h0M857.3,226.3h0M857.4,220.1h0M857.5,227.1h0M857.7,219.6h0M857.8,217.3h0M857.9,222.3h0M858.1,229.5h0M858.2,229.7h0M858.3,229.0h0M858.4,225.9h0M858.6,219.2h0M858.7,214.2h0M858.8,220.1h0M858.9,222.5h0M859.1,219.8h0M859.2,215.6h0M859.3,208.2h0M859.4,205.0h0M859.6,214.6h0M859.7,206.1h0M859.8,196.6h0M860.0,189.3h0M860.1,183.6h0M860.2,190.1h0M860.3,180.9h0M860.5,179.4h0M860.6,185.1h0M860.7,185.3h0M860.8,183.7h0M861.0,185.1h0M861.1,180.1h0M861.2,186.0h0M861.3,191.8h0M861.5,187.0h0M861.6,189.0h0M861.7,181.9h0M861.8,190.3h0M862.0,193.5h0M862.1,197.6h0M862.2,195.3h0M862.4,195.3h0M862.5,194.1h0M862.6,196.8h0M862.7,196.4h0M862.9,197.7h0M863.0,195.8h0M863.1,192.6h0M863.2,184.1h0M863.4,190.3h0M863.5,185.0h0M863.6,182.8h0M863.7,187.6h0M863.9,185.2h0M864.0,183.8h0M864.1,191.7h0M864.3,188.3h0M864.4,187.1h0M864.5,187.3h0M864.6,186.4h0M864.8,189.0h0M864.9,183.2h0M865.0,176.2h0M865.1,185.6h0M865.3,178.0h0M865.4,173.9h0M865.5,176.6h0M865.6,173.4h0M865.8,165.9h0M865.9,152.6h0M866.0,154.7h0M866.2,151.1h0M866.3,150.2h0M866.4,158.6h0M866.5,163.3h0M866.7,157.2h0M866.8,156.0h0M866.9,145.2h0M867.0,138.7h0M867.2,143.7h0M867.3,138.7h0M867.4,138.7h0M867.5,138.7h0M867.7,138.7h0M867.8,139.6h0M867.9,152.4h0M868.0,152.9h0M868.2,173.7h0M868.3,171.7h0M868.4,172.1h0M868.6,174.3h0M868.7,184.6h0M868.8,180.3h0M868.9,192.5h0M869.1,196.3h0M869.2,194.0h0M869.3,199.3h0M869.4,203.9h0M869.6,210.4h0M869.7,205.5h0M869.8,215.0h0M869.9,223.0h0M870.1,223.4h0M870.2,225.3h0M870.3,228.4h0M870.5,230.9h0M870.6,229.9h0M870.7,231.0h0M870.8,230.6h0M871.0,227.9h0M871.1,230.3h0M871.2,240.2h0M871.3,245.2h0M871.5,239.9h0M871.6,239.7h0M871.7,246.4h0M871.8,240.0h0M872.0,235.4h0M872.1,243.8h0M872.2,245.5h0M872.3,248.0h0M872.5,251.9h0M872.6,249.1h0M872.7,246.0h0M872.9,244.0h0M873.0,240.3h0M873.1,233.4h0M873.2,233.5h0M873.4,233.9h0M873.5,235.4h0M873.6,240.6h0M873.7,240.8h0M873.9,237.2h0M874.0,239.0h0M874.1,238.5h0M874.2,238.9h0M874.4,243.6h0M874.5,250.8h0M874.6,254.3h0M874.8,258.0h0M874.9,255.4h0M875.0,248.6h0M875.1,248.3h0M875.3,247.5h0M875.4,242.7h0M875.5,243.2h0M875.6,248.8h0M875.8,254.2h0M875.9,248.4h0M876.0,242.6h0M876.1,240.4h0M876.3,227.0h0M876.4,225.6h0M876.5,217.6h0M876.6,213.0h0M876.8,216.6h0M876.9,203.9h0M877.0,205.5h0M877.2,198.5h0M877.3,196.6h0M877.4,194.3h0M877.5,185.9h0M877.7,183.2h0M877.8,186.0h0M877.9,183.2h0M878.0,176.6h0M878.2,172.9h0M878.3,172.3h0M878.4,172.9h0M878.5,168.4h0M878.7,159.6h0M878.8,158.8h0M878.9,166.3h0M879.1,175.5h0M879.2,178.1h0M879.3,176.4h0M879.4,178.3h0M879.6,177.2h0M879.7,181.8h0M879.8,184.4h0M879.9,184.1h0M880.1,182.2h0M880.2,178.8h0M880.3,163.2h0M880.4,183.3h0M880.6,183.2h0M880.7,168.6h0M880.8,170.7h0M880.9,182.6h0M881.1,182.4h0M881.2,182.2h0M881.3,176.4h0M881.5,181.9h0M881.6,181.7h0M881.7,181.5h0M881.8,181.3h0M882.0,167.6h0M882.1,161.8h0M882.2,160.1h0M882.3,154.8h0M882.5,149.6h0M882.6,152.9h0M882.7,154.9h0M882.8,139.4h0M883.0,158.7h0M883.1,162.1h0M883.2,175.2h0M883.4,164.5h0M883.5,165.7h0M883.6,161.7h0M883.7,167.0h0M883.9,179.0h0M884.0,179.0h0M884.1,179.0h0M884.2,179.0h0M884.4,179.0h0M884.5,179.0h0M884.6,179.0h0M884.7,179.0h0M884.9,179.0h0M885.0,179.0h0M885.1,179.2h0M885.2,179.4h0M885.4,175.0h0M885.5,178.0h0M885.6,180.2h0M885.8,180.4h0M885.9,180.7h0M886.0,178.3h0M886.1,181.2h0M886.3,181.4h0M886.4,181.6h0M886.5,181.7h0M886.6,181.8h0M886.8,181.9h0M886.9,182.0h0M887.0,182.1h0M887.1,182.2h0M887.3,182.3h0M887.4,182.4h0M887.5,182.5h0M887.7,182.6h0M887.8,182.7h0M887.9,182.8h0M888.0,177.4h0M888.2,183.0h0M888.3,183.1h0M888.4,182.8h0M888.5,174.1h0M888.7,177.3h0M888.8,180.0h0M888.9,183.6h0M889.0,175.0h0M889.2,170.9h0M889.3,161.9h0M889.4,176.8h0M889.6,182.3h0M889.7,183.9h0M889.8,183.8h0M889.9,183.7h0M890.1,183.6h0M890.2,183.5h0M890.3,165.8h0M890.4,161.9h0M890.6,173.1h0M890.7,183.1h0M890.8,183.0h0M890.9,182.9h0M891.1,178.4h0M891.2,174.6h0M891.3,174.7h0M891.4,165.7h0M891.6,146.9h0M891.7,157.0h0M891.8,143.7h0M892.0,142.2h0M892.1,138.1h0M892.2,154.7h0M892.3,148.8h0M892.5,141.4h0M892.6,136.5h0M892.7,135.9h0M892.8,134.6h0M893.0,133.3h0M893.1,132.0h0M893.2,130.8h0M893.3,152.4h0M893.5,147.9h0M893.6,157.2h0M893.7,146.7h0M893.9,141.4h0M894.0,141.0h0M894.1,155.5h0M894.2,148.1h0M894.4,123.1h0M894.5,128.9h0M894.6,138.0h0M894.7,140.5h0M894.9,146.2h0M895.0,150.9h0M895.1,154.5h0M895.2,158.2h0M895.4,161.8h0M895.5,165.5h0M895.6,169.2h0M895.7,179.8h0M895.9,178.4h0M896.0,179.8h0M896.1,183.1h0M896.3,186.4h0M896.4,189.7h0M896.5,193.0h0M896.6,198.1h0M896.8,203.3h0M896.9,208.5h0M897.0,213.7h0M897.1,224.8h0M897.3,221.4h0M897.4,219.9h0M897.5,209.1h0M897.6,216.0h0M897.8,208.2h0M897.9,201.5h0M898.0,201.2h0M898.2,200.9h0M898.3,200.6h0M898.4,200.3h0M898.5,200.0h0M898.7,199.7h0M898.8,199.4h0M898.9,199.1h0M899.0,198.8h0M899.2,198.6h0M899.3,198.3h0M899.4,198.0h0M899.5,197.7h0M899.7,197.4h0M899.8,197.1h0M899.9,197.8h0M900.0,196.5h0M900.2,202.5h0M900.3,199.6h0M900.4,206.5h0M900.6,201.1h0M900.7,203.3h0M900.8,207.9h0M900.9,203.8h0M901.1,199.3h0M901.2,195.1h0M901.3,195.6h0M901.4,197.4h0M901.6,206.4h0M901.7,211.3h0M901.8,204.4h0M901.9,203.0h0M902.1,207.3h0M902.2,200.8h0M902.3,195.3h0M902.5,199.0h0M902.6,197.4h0M902.7,197.6h0M902.8,195.1h0M903.0,203.7h0M903.1,208.0h0M903.2,208.7h0M903.3,204.4h0M903.5,207.6h0M903.6,206.2h0M903.7,209.0h0M903.8,210.4h0M904.0,200.3h0M904.1,203.9h0M904.2,213.1h0M904.3,215.6h0M904.5,215.8h0M904.6,217.6h0M904.7,213.6h0M904.9,217.8h0M905.0,213.7h0M905.1,210.3h0M905.2,214.4h0M905.4,220.3h0M905.5,220.3h0M905.6,220.3h0M905.7,219.5h0M905.9,220.3h0M906.0,220.3h0M906.1,220.3h0M906.2,212.1h0M906.4,218.7h0M906.5,212.0h0M906.6,214.3h0M906.8,207.7h0M906.9,209.5h0M907.0,214.2h0M907.1,211.2h0M907.3,210.6h0M907.4,208.7h0M907.5,206.8h0M907.6,209.1h0M907.8,200.9h0M907.9,200.4h0M908.0,204.2h0M908.1,203.7h0M908.3,203.9h0M908.4,202.2h0M908.5,200.5h0M908.7,199.0h0M908.8,198.4h0M908.9,197.7h0M909.0,197.0h0M909.2,196.4h0M909.3,195.7h0M909.4,195.0h0M909.5,194.4h0M909.7,188.4h0M909.8,190.0h0M909.9,181.3h0M910.0,176.0h0M910.2,174.4h0M910.3,180.9h0M910.4,174.8h0M910.5,176.1h0M910.7,176.1h0M910.8,167.8h0M910.9,172.8h0M911.1,160.6h0M911.2,160.6h0M911.3,175.1h0M911.4,177.1h0M911.6,186.1h0M911.7,181.9h0M911.8,174.7h0M911.9,176.6h0M912.1,176.3h0M912.2,178.8h0M912.3,176.8h0M912.4,183.3h0M912.6,179.9h0M912.7,177.6h0M912.8,177.2h0M913.0,170.5h0M913.1,173.8h0M913.2,174.4h0M913.3,176.9h0M913.5,182.6h0M913.6,186.4h0M913.7,185.5h0M913.8,177.4h0M914.0,183.5h0M914.1,179.7h0M914.2,185.5h0M914.3,181.5h0M914.5,183.2h0M914.6,185.9h0M914.7,178.7h0M914.8,176.0h0M915.0,173.2h0M915.1,177.5h0M915.2,186.0h0M915.4,190.3h0M915.5,182.3h0M915.6,189.3h0M915.7,183.8h0M915.9,188.1h0M916.0,192.8h0M916.1,192.9h0M916.2,193.0h0M916.4,193.0h0M916.5,193.1h0M916.6,188.1h0M916.7,194.6h0M916.9,195.9h0M917.0,197.2h0M917.1,198.5h0M917.3,199.8h0M917.4,201.1h0M917.5,202.3h0M917.6,201.5h0M917.8,198.2h0M917.9,203.6h0M918.0,202.4h0M918.1,197.8h0M918.3,207.4h0M918.4,219.6h0M918.5,217.4h0M918.6,235.3h0M918.8,255.4h0M918.9,248.0h0M919.0,245.9h0M919.1,233.0h0M919.3,224.2h0M919.4,214.6h0M919.5,213.9h0M919.7,205.8h0M919.8,211.9h0M919.9,207.6h0M920.0,210.1h0M920.2,209.1h0M920.3,205.8h0M920.4,207.5h0M920.5,200.4h0M920.7,200.9h0M920.8,202.5h0M920.9,202.8h0M921.0,199.2h0M921.2,199.2h0M921.3,199.9h0M921.4,200.4h0M921.6,197.7h0M921.7,195.3h0M921.8,193.7h0M921.9,192.1h0M922.1,190.5h0M922.2,188.9h0M922.3,187.3h0M922.4,185.7h0M922.6,184.1h0M922.7,182.5h0M922.8,180.9h0M922.9,179.3h0M923.1,180.8h0M923.2,177.9h0M923.3,178.5h0M923.4,177.6h0M923.6,180.3h0M923.7,178.9h0M923.8,187.0h0M924.0,180.4h0M924.1,190.3h0M924.2,193.1h0M924.3,192.5h0M924.5,191.0h0M924.6,190.6h0M924.7,190.7h0M924.8,190.1h0M925.0,187.1h0M925.1,125.1h0M925.2,125.1h0M925.3,125.1h0M925.5,125.1h0M925.6,125.1h0M925.7,125.1h0M925.9,123.9h0M926.0,125.1h0M926.1,125.1h0M926.2,120.4h0M926.4,115.8h0M926.5,119.2h0M926.6,115.5h0M926.7,118.1h0M926.9,116.5h0M927.0,115.0h0M927.1,113.5h0M927.2,112.2h0M927.4,110.8h0M927.5,109.5h0M927.6,108.2h0M927.7,106.8h0M927.9,105.5h0M928.0,104.1h0M928.1,91.7h0M928.3,91.5h0M928.4,86.7h0M928.5,81.9h0M928.6,79.9h0M928.8,84.7h0M928.9,84.4h0M929.0,74.9h0M929.1,76.2h0M929.3,84.5h0M929.4,74.5h0M929.5,67.4h0M929.6,63.6h0M929.8,55.2h0M929.9,49.1h0M930.0,55.6h0M930.2,55.7h0M930.3,50.0h0M930.4,49.1h0M930.5,47.0h0M930.7,49.5h0M930.8,52.6h0M930.9,56.1h0M931.0,54.7h0M931.2,51.0h0M931.3,49.6h0M931.4,54.6h0M931.5,59.0h0M931.7,59.1h0M931.8,67.7h0M931.9,63.7h0M932.1,66.6h0M932.2,65.4h0M932.3,62.4h0M932.4,68.5h0M932.6,71.0h0M932.7,70.0h0M932.8,72.1h0M932.9,82.7h0M933.1,79.1h0M933.2,83.7h0M933.3,94.7h0M933.4,78.0h0M933.6,85.3h0M933.7,83.0h0M933.8,91.1h0M933.9,88.7h0M934.1,86.8h0M934.2,87.2h0M934.3,88.3h0M934.5,89.8h0M934.6,79.0h0M934.7,91.6h0M934.8,91.0h0M935.0,92.7h0M935.1,90.6h0M935.2,97.4h0M935.3,85.8h0M935.5,95.3h0M935.6,91.7h0M935.7,92.0h0M935.8,99.9h0M936.0,102.8h0M112.5,402.2h0M112.5,417.3h0M114.0,427.4h0M114.6,427.4h0M688.4,90.9h0M688.4,92.9h0M688.4,111.5h0M688.4,113.5h0M688.4,122.6h0M689.3,136.2h0M350.8,372.5h0M789.4,257.1h0M702.1,295.4h0M284.5,235.4h0M284.2,240.5h0M284.8,244.5h0M537.9,264.2h0M537.9,270.7h0M537.6,278.8h0M605.5,215.3h0M605.2,221.8h0M605.8,226.9h0M463.3,349.8h0M755.9,401.2h0M755.9,396.6h0M930.3,42.0h0M918.8,266.2h0M918.5,258.1h0M918.5,249.0h0M918.5,239.5h0M918.5,229.4h0M918.2,219.3h0M897.2,258.1h0M897.2,248.0h0M896.8,237.0h0M896.8,226.9h0M431.5,389.6h0M431.5,396.1h0M431.5,402.2h0M468.1,425.9h0M468.1,435.4h0M468.1,440.0h0M748.0,276.2h0M747.7,280.8h0M716.1,367.4h0M798.0,239.0h0M798.0,244.5h0M798.3,250.6h0M778.9,310.0h0M778.9,316.0h0M778.6,322.6h0M778.9,330.1h0M778.6,337.7h0M860.5,158.9h0M860.5,152.3h0M860.5,144.8h0" stroke="#000" stroke-width="5.6" stroke-linecap="round" fill="none"/>
<path d="M112.5,451.2 L112.8,449.1 L113.1,449.4 L113.4,450.3 L113.7,451.3 L114.0,452.2 L114.4,452.6 L114.7,453.0 L115.0,453.6 L115.3,454.1 L115.6,454.4 L116.0,454.7 L116.3,455.1 L116.6,455.4 L116.9,455.7 L117.2,456.2 L117.5,456.9 L117.9,457.6 L118.2,458.0 L118.5,458.2 L118.8,458.5 L119.1,458.8 L119.5,459.1 L119.8,459.4 L120.1,459.7 L120.4,459.9 L120.7,459.8 L121.0,459.3 L121.4,458.4 L121.7,457.5 L122.0,456.5 L122.3,455.8 L122.6,455.4 L122.9,455.4 L123.3,455.8 L123.6,456.6 L123.9,457.6 L124.2,458.8 L124.5,460.1 L124.9,461.2 L125.2,462.2 L125.5,462.9 L125.8,463.2 L126.1,463.2 L126.4,463.0 L126.8,462.5 L127.1,461.8 L127.4,461.1 L127.7,460.4 L128.0,459.7 L128.4,459.3 L128.7,459.1 L129.0,459.2 L129.3,459.6 L129.6,460.3 L129.9,461.4 L130.3,462.6 L130.6,463.8 L130.9,465.0 L131.2,465.9 L131.5,466.6 L131.9,467.0 L132.2,467.0 L132.5,466.9 L132.8,466.5 L133.1,466.0 L133.4,465.3 L133.8,464.7 L134.1,464.0 L134.4,463.5 L134.7,463.2 L135.0,463.0 L135.4,463.1 L135.7,463.5 L136.0,464.1 L136.3,465.0 L136.6,466.0 L136.9,467.1 L137.3,468.1 L137.6,469.0 L137.9,469.6 L138.2,469.9 L138.5,470.1 L138.9,470.1 L139.2,470.1 L139.5,470.1 L139.8,470.1 L140.1,470.2 L140.4,470.3 L140.8,470.5 L141.1,470.8 L141.4,471.1 L141.7,471.4 L142.0,471.7 L142.4,472.0 L142.7,472.2 L143.0,469.5 L143.3,466.8 L143.6,463.1 L143.9,459.8 L144.3,455.6 L144.6,451.7 L144.9,451.8 L145.2,452.6 L145.5,453.6 L145.9,454.6 L146.2,455.1 L146.5,455.4 L146.8,456.0 L147.1,456.6 L147.4,456.9 L147.8,457.2 L148.1,457.6 L148.4,457.9 L148.7,458.2 L149.0,458.6 L149.4,459.4 L149.7,460.1 L150.0,460.6 L150.3,460.8 L150.6,461.1 L150.9,461.4 L151.3,461.7 L151.6,462.0 L151.9,462.2 L152.2,462.5 L152.5,462.5 L152.9,462.0 L153.2,461.3 L153.5,460.3 L153.8,459.4 L154.1,458.6 L154.4,458.1 L154.8,458.1 L155.1,458.4 L155.4,459.1 L155.7,460.1 L156.0,461.3 L156.4,462.6 L156.7,463.8 L157.0,464.8 L157.3,465.5 L157.6,465.9 L157.9,466.0 L158.3,465.8 L158.6,465.4 L158.9,464.7 L159.2,464.0 L159.5,463.3 L159.9,462.6 L160.2,462.1 L160.5,461.9 L160.8,461.9 L161.1,462.3 L161.4,463.0 L161.8,464.0 L162.1,465.1 L162.4,466.4 L162.7,467.6 L163.0,468.6 L163.4,469.4 L163.7,469.8 L164.0,469.9 L164.3,469.8 L164.6,469.4 L164.9,468.9 L165.3,468.3 L165.6,467.7 L165.9,467.0 L166.2,466.5 L166.5,466.1 L166.9,465.9 L167.2,466.0 L167.5,466.3 L167.8,466.9 L168.1,467.8 L168.4,468.8 L168.8,469.8 L169.1,470.9 L169.4,471.8 L169.7,472.5 L170.0,472.8 L170.4,473.0 L170.7,473.1 L171.0,473.1 L171.3,473.1 L171.6,473.1 L171.9,473.1 L172.3,473.3 L172.6,473.5 L172.9,473.8 L173.2,474.1 L173.5,474.4 L173.9,474.7 L174.2,475.0 L174.5,475.2 L174.8,473.2 L175.1,470.6 L175.4,468.1 L175.8,464.2 L176.1,460.2 L176.4,456.4 L176.7,455.7 L177.0,456.3 L177.4,457.2 L177.7,458.1 L178.0,458.7 L178.3,458.9 L178.6,459.3 L178.9,459.8 L179.3,460.1 L179.6,460.3 L179.9,460.6 L180.2,460.9 L180.5,461.1 L180.9,461.4 L181.2,462.0 L181.5,462.7 L181.8,463.1 L182.1,463.2 L182.4,463.4 L182.8,463.6 L183.1,463.9 L183.4,464.1 L183.7,464.3 L184.0,464.4 L184.4,464.4 L184.7,464.0 L185.0,463.2 L185.3,462.2 L185.6,461.1 L185.9,460.2 L186.3,459.6 L186.6,459.3 L186.9,459.5 L187.2,460.1 L187.5,461.0 L187.8,462.0 L188.2,463.2 L188.5,464.3 L188.8,465.3 L189.1,466.0 L189.4,466.4 L189.8,466.5 L190.1,466.2 L190.4,465.7 L190.7,465.1 L191.0,464.3 L191.3,463.4 L191.7,462.7 L192.0,462.1 L192.3,461.7 L192.6,461.6 L192.9,461.8 L193.3,462.3 L193.6,463.2 L193.9,464.2 L194.2,465.4 L194.5,466.5 L194.8,467.5 L195.2,468.2 L195.5,468.7 L195.8,468.7 L196.1,468.6 L196.4,468.2 L196.8,467.6 L197.1,466.9 L197.4,466.2 L197.7,465.5 L198.0,464.8 L198.3,464.3 L198.7,464.0 L199.0,463.9 L199.3,464.1 L199.6,464.6 L199.9,465.3 L200.3,466.2 L200.6,467.2 L200.9,468.1 L201.2,469.0 L201.5,469.6 L201.8,470.0 L202.2,470.1 L202.5,470.1 L202.8,470.0 L203.1,469.9 L203.4,469.8 L203.8,469.8 L204.1,469.8 L204.4,470.0 L204.7,470.1 L205.0,470.3 L205.3,470.6 L205.7,470.8 L206.0,471.0 L206.3,471.2 L206.6,469.0 L206.9,465.6 L207.3,462.2 L207.6,457.4 L207.9,452.7 L208.2,447.8 L208.5,445.9 L208.8,446.1 L209.2,446.7 L209.5,447.3 L209.8,447.7 L210.1,447.6 L210.4,447.7 L210.8,447.9 L211.1,448.0 L211.4,447.9 L211.7,447.8 L212.0,447.9 L212.3,447.8 L212.7,447.7 L213.0,448.0 L213.3,448.4 L213.6,448.6 L213.9,448.5 L214.3,448.3 L214.6,448.2 L214.9,448.2 L215.2,448.1 L215.5,448.0 L215.8,447.9 L216.2,447.6 L216.5,447.0 L216.8,445.9 L217.1,444.7 L217.4,443.3 L217.8,442.1 L218.1,441.1 L218.4,440.5 L218.7,440.3 L219.0,440.5 L219.3,441.0 L219.7,441.8 L220.0,442.6 L220.3,443.5 L220.6,444.2 L220.9,444.7 L221.3,444.8 L221.6,444.7 L221.9,444.2 L222.2,443.4 L222.5,442.5 L222.8,441.4 L223.2,440.3 L223.5,439.2 L223.8,438.3 L224.1,437.6 L224.4,437.1 L224.8,437.0 L225.1,437.1 L225.4,437.6 L225.7,438.4 L226.0,439.2 L226.3,440.1 L226.7,440.8 L227.0,441.3 L227.3,441.5 L227.6,441.3 L227.9,440.9 L228.3,440.3 L228.6,439.4 L228.9,438.5 L229.2,437.5 L229.5,436.4 L229.8,435.5 L230.2,434.6 L230.5,434.0 L230.8,433.6 L231.1,433.4 L231.4,433.5 L231.8,433.9 L232.1,434.5 L232.4,435.2 L232.7,435.8 L233.0,436.4 L233.3,436.8 L233.7,437.0 L234.0,436.8 L234.3,436.5 L234.6,436.2 L234.9,435.8 L235.3,435.4 L235.6,435.0 L235.9,434.8 L236.2,434.6 L236.5,434.5 L236.8,434.4 L237.2,434.3 L237.5,434.2 L237.8,434.1 L238.1,434.0 L238.4,432.2 L238.8,428.1 L239.1,424.1 L239.4,418.9 L239.7,413.8 L240.0,408.3 L240.3,405.0 L240.7,404.9 L241.0,405.1 L241.3,405.6 L241.6,405.7 L241.9,405.4 L242.3,405.3 L242.6,405.2 L242.9,405.1 L243.2,404.7 L243.5,404.4 L243.8,404.2 L244.2,403.9 L244.5,403.5 L244.8,403.5 L245.1,403.6 L245.4,403.6 L245.8,403.3 L246.1,402.9 L246.4,402.6 L246.7,402.2 L247.0,401.9 L247.3,401.6 L247.7,401.2 L248.0,400.8 L248.3,399.9 L248.6,398.7 L248.9,397.2 L249.3,395.6 L249.6,394.1 L249.9,392.8 L250.2,391.9 L250.5,391.4 L250.8,391.2 L251.2,391.4 L251.5,391.9 L251.8,392.5 L252.1,393.1 L252.4,393.6 L252.7,393.9 L253.1,393.9 L253.4,393.5 L253.7,392.8 L254.0,391.9 L254.3,390.7 L254.7,389.4 L255.0,388.0 L255.3,386.7 L255.6,385.5 L255.9,384.4 L256.2,383.7 L256.6,383.2 L256.9,383.0 L257.2,383.2 L257.5,383.7 L257.8,384.2 L258.2,384.8 L258.5,385.3 L258.8,385.6 L259.1,385.6 L259.4,385.2 L259.7,384.6 L260.1,383.7 L260.4,382.7 L260.7,381.5 L261.0,380.2 L261.3,378.9 L261.7,377.7 L262.0,376.6 L262.3,375.6 L262.6,374.9 L262.9,374.4 L263.2,374.2 L263.6,374.3 L263.9,374.6 L264.2,375.0 L264.5,375.4 L264.8,375.7 L265.2,375.9 L265.5,375.8 L265.8,375.5 L266.1,375.0 L266.4,374.4 L266.7,373.7 L267.1,373.0 L267.4,372.4 L267.7,371.9 L268.0,371.4 L268.3,371.0 L268.7,370.6 L269.0,370.3 L269.3,370.0 L269.6,369.6 L269.9,369.3 L270.2,368.0 L270.6,364.2 L270.9,360.5 L271.2,355.6 L271.5,350.9 L271.8,345.6 L272.2,341.7 L272.5,341.5 L272.8,341.8 L273.1,342.4 L273.4,342.7 L273.7,342.6 L274.1,342.5 L274.4,342.5 L274.7,342.5 L275.0,342.3 L275.3,342.1 L275.7,342.0 L276.0,341.8 L276.3,341.6 L276.6,341.5 L276.9,341.8 L277.2,342.0 L277.6,341.8 L277.9,341.5 L278.2,341.3 L278.5,341.1 L278.8,340.8 L279.2,340.6 L279.5,340.4 L279.8,340.1 L280.1,339.4 L280.4,338.4 L280.7,337.0 L281.1,335.6 L281.4,334.1 L281.7,333.0 L282.0,332.8 L282.3,333.1 L282.7,333.7 L283.0,334.7 L283.3,336.0 L283.6,337.4 L283.9,338.9 L284.2,340.2 L284.6,341.4 L284.9,342.3 L285.2,342.9 L285.5,343.1 L285.8,343.0 L286.2,342.7 L286.5,342.3 L286.8,341.8 L287.1,341.3 L287.4,340.9 L287.7,340.7 L288.1,340.7 L288.4,341.0 L288.7,341.6 L289.0,342.6 L289.3,343.9 L289.7,345.3 L290.0,346.7 L290.3,348.1 L290.6,349.3 L290.9,350.2 L291.2,350.8 L291.6,351.0 L291.9,351.1 L292.2,350.9 L292.5,350.6 L292.8,350.2 L293.2,349.7 L293.5,349.3 L293.8,349.0 L294.1,348.9 L294.4,349.0 L294.7,349.3 L295.1,349.9 L295.4,350.8 L295.7,351.9 L296.0,353.1 L296.3,354.4 L296.7,355.7 L297.0,356.7 L297.3,357.6 L297.6,358.1 L297.9,358.5 L298.2,358.7 L298.6,358.9 L298.9,359.1 L299.2,359.3 L299.5,359.6 L299.8,360.0 L300.2,360.4 L300.5,360.9 L300.8,361.5 L301.1,362.0 L301.4,362.5 L301.7,363.0 L302.1,363.3 L302.4,360.6 L302.7,357.9 L303.0,354.2 L303.3,350.8 L303.7,346.6 L304.0,342.9 L304.3,343.5 L304.6,344.6 L304.9,346.1 L305.2,347.4 L305.6,348.3 L305.9,349.0 L306.2,350.0 L306.5,350.9 L306.8,351.7 L307.2,352.3 L307.5,353.1 L307.8,353.9 L308.1,354.6 L308.4,355.4 L308.7,356.5 L309.1,357.7 L309.4,358.5 L309.7,359.1 L310.0,359.8 L310.3,360.5 L310.7,361.2 L311.0,361.9 L311.3,362.5 L311.6,363.2 L311.9,363.5 L312.2,363.5 L312.6,363.1 L312.9,362.5 L313.2,362.0 L313.5,361.6 L313.8,361.5 L314.2,361.9 L314.5,362.7 L314.8,363.8 L315.1,365.2 L315.4,366.8 L315.7,368.4 L316.1,370.0 L316.4,371.4 L316.7,372.5 L317.0,373.3 L317.3,373.8 L317.6,374.0 L318.0,373.9 L318.3,373.7 L318.6,373.3 L318.9,373.0 L319.2,372.7 L319.6,372.7 L319.9,372.8 L320.2,373.3 L320.5,374.0 L320.8,375.1 L321.1,376.5 L321.5,378.1 L321.8,379.7 L322.1,381.3 L322.4,382.7 L322.7,383.9 L323.1,384.7 L323.4,385.2 L323.7,385.4 L324.0,385.5 L324.3,385.4 L324.6,385.1 L325.0,384.9 L325.3,384.7 L325.6,384.5 L325.9,384.5 L326.2,384.8 L326.6,385.2 L326.9,385.9 L327.2,386.9 L327.5,388.2 L327.8,389.6 L328.1,391.1 L328.5,392.5 L328.8,393.8 L329.1,394.8 L329.4,395.6 L329.7,396.2 L330.1,396.7 L330.4,397.1 L330.7,397.4 L331.0,397.8 L331.3,398.3 L331.6,398.8 L332.0,399.4 L332.3,400.1 L332.6,400.8 L332.9,399.9 L333.2,398.8 L333.6,397.7 L333.9,396.5 L334.2,395.3 L334.5,394.1 L334.8,392.9 L335.1,390.1 L335.5,387.5 L335.8,385.0 L336.1,383.5 L336.4,384.3 L336.7,385.7 L337.1,387.1 L337.4,388.1 L337.7,388.8 L338.0,389.7 L338.3,390.6 L338.6,391.4 L339.0,392.1 L339.3,392.8 L339.6,393.6 L339.9,394.3 L340.2,395.0 L340.6,396.1 L340.9,397.3 L341.2,398.1 L341.5,398.8 L341.8,399.4 L342.1,400.1 L342.5,400.8 L342.8,401.5 L343.1,402.1 L343.4,402.8 L343.7,403.2 L344.1,403.2 L344.4,402.9 L344.7,402.3 L345.0,401.8 L345.3,401.3 L345.6,401.2 L346.0,401.4 L346.3,402.1 L346.6,403.2 L346.9,404.5 L347.2,406.0 L347.6,407.7 L347.9,409.3 L348.2,410.7 L348.5,411.9 L348.8,412.7 L349.1,413.3 L349.5,413.5 L349.8,413.4 L350.1,413.2 L350.4,412.9 L350.7,412.5 L351.1,412.3 L351.4,412.1 L351.7,412.2 L352.0,412.6 L352.3,413.3 L352.6,414.3 L353.0,415.6 L353.3,417.2 L353.6,418.8 L353.9,420.4 L354.2,421.8 L354.6,423.0 L354.9,423.9 L355.2,424.4 L355.5,424.7 L355.8,424.8 L356.1,424.7 L356.5,424.5 L356.8,424.2 L357.1,424.0 L357.4,423.8 L357.7,423.8 L358.1,423.9 L358.4,424.3 L358.7,425.0 L359.0,425.9 L359.3,427.1 L359.6,428.5 L360.0,430.0 L360.3,431.4 L360.6,432.7 L360.9,433.8 L361.2,434.6 L361.6,435.2 L361.9,435.7 L362.2,436.1 L362.5,436.5 L362.8,436.8 L363.1,437.3 L363.5,437.8 L363.8,438.4 L364.1,439.0 L364.4,439.7 L364.7,440.4 L365.1,441.1 L365.4,441.7 L365.7,440.8 L366.0,439.1 L366.3,437.4 L366.6,435.7 L367.0,432.6 L367.3,429.6 L367.6,426.4 L367.9,425.6 L368.2,426.3 L368.6,427.4 L368.9,428.5 L369.2,429.3 L369.5,429.7 L369.8,430.3 L370.1,431.0 L370.5,431.6 L370.8,431.9 L371.1,432.4 L371.4,432.9 L371.7,433.3 L372.1,433.7 L372.4,434.5 L372.7,435.4 L373.0,436.0 L373.3,436.4 L373.6,436.8 L374.0,437.2 L374.3,437.6 L374.6,438.0 L374.9,438.4 L375.2,438.7 L375.6,439.0 L375.9,438.8 L376.2,438.2 L376.5,437.4 L376.8,436.6 L377.1,435.8 L377.5,435.3 L377.8,435.2 L378.1,435.6 L378.4,436.3 L378.7,437.3 L379.1,438.5 L379.4,439.8 L379.7,441.2 L380.0,442.4 L380.3,443.3 L380.6,444.0 L381.0,444.3 L381.3,444.3 L381.6,444.0 L381.9,443.5 L382.2,443.0 L382.5,442.3 L382.9,441.7 L383.2,441.3 L383.5,441.1 L383.8,441.1 L384.1,441.4 L384.5,442.1 L384.8,443.1 L385.1,444.4 L385.4,445.7 L385.7,447.0 L386.0,448.2 L386.4,449.2 L386.7,449.9 L387.0,450.2 L387.3,450.2 L387.6,450.1 L388.0,449.7 L388.3,449.3 L388.6,448.7 L388.9,448.2 L389.2,447.7 L389.5,447.4 L389.9,447.2 L390.2,447.3 L390.5,447.6 L390.8,448.2 L391.1,449.1 L391.5,450.2 L391.8,451.4 L392.1,452.5 L392.4,453.6 L392.7,454.5 L393.0,455.1 L393.4,455.4 L393.7,455.6 L394.0,455.8 L394.3,455.8 L394.6,455.9 L395.0,456.1 L395.3,456.3 L395.6,456.6 L395.9,456.9 L396.2,457.3 L396.5,457.8 L396.9,458.2 L397.2,458.6 L397.5,458.9 L397.8,457.8 L398.1,455.0 L398.5,452.3 L398.8,448.3 L399.1,444.4 L399.4,440.1 L399.7,438.0 L400.0,438.4 L400.4,439.3 L400.7,440.3 L401.0,441.0 L401.3,441.2 L401.6,441.6 L402.0,442.1 L402.3,442.6 L402.6,442.8 L402.9,443.0 L403.2,443.3 L403.5,443.6 L403.9,443.8 L404.2,444.3 L404.5,445.1 L404.8,445.6 L405.1,445.8 L405.5,446.0 L405.8,446.2 L406.1,446.5 L406.4,446.7 L406.7,446.9 L407.0,447.1 L407.4,447.2 L407.7,446.9 L408.0,446.3 L408.3,445.3 L408.6,444.3 L409.0,443.3 L409.3,442.6 L409.6,442.2 L409.9,442.3 L410.2,442.8 L410.5,443.6 L410.9,444.6 L411.2,445.7 L411.5,446.9 L411.8,448.0 L412.1,448.8 L412.5,449.3 L412.8,449.5 L413.1,449.4 L413.4,449.0 L413.7,448.4 L414.0,447.6 L414.4,446.8 L414.7,446.1 L415.0,445.4 L415.3,445.0 L415.6,444.8 L416.0,444.9 L416.3,445.3 L416.6,446.1 L416.9,447.1 L417.2,448.2 L417.5,449.4 L417.9,450.5 L418.2,451.3 L418.5,451.9 L418.8,452.1 L419.1,452.0 L419.5,451.7 L419.8,451.2 L420.1,450.6 L420.4,449.9 L420.7,449.1 L421.0,448.5 L421.4,447.9 L421.7,447.6 L422.0,447.4 L422.3,447.5 L422.6,447.9 L423.0,448.6 L423.3,449.4 L423.6,450.4 L423.9,451.4 L424.2,452.3 L424.5,453.1 L424.9,453.5 L425.2,453.7 L425.5,453.8 L425.8,453.8 L426.1,453.7 L426.5,453.6 L426.8,453.6 L427.1,453.6 L427.4,453.7 L427.7,453.9 L428.0,454.1 L428.4,454.3 L428.7,454.6 L429.0,454.8 L429.3,455.0 L429.6,454.2 L430.0,451.1 L430.3,448.0 L430.6,443.8 L430.9,439.8 L431.2,435.1 L431.5,431.9 L431.9,432.1 L432.2,432.7 L432.5,433.6 L432.8,434.2 L433.1,434.4 L433.5,434.6 L433.8,435.0 L434.1,435.3 L434.4,435.3 L434.7,435.4 L435.0,435.6 L435.4,435.8 L435.7,435.8 L436.0,436.1 L436.3,436.7 L436.6,437.1 L437.0,437.3 L437.3,437.3 L437.6,437.4 L437.9,437.5 L438.2,437.6 L438.5,437.6 L438.9,437.7 L439.2,437.7 L439.5,437.3 L439.8,436.6 L440.1,435.6 L440.5,434.4 L440.8,433.2 L441.1,432.3 L441.4,431.7 L441.7,431.6 L442.0,431.8 L442.4,432.4 L442.7,433.2 L443.0,434.2 L443.3,435.3 L443.6,436.2 L444.0,437.0 L444.3,437.4 L444.6,437.5 L444.9,437.3 L445.2,436.8 L445.5,436.1 L445.9,435.2 L446.2,434.3 L446.5,433.3 L446.8,432.5 L447.1,431.9 L447.4,431.5 L447.8,431.4 L448.1,431.6 L448.4,432.2 L448.7,433.0 L449.0,434.0 L449.4,435.0 L449.7,436.0 L450.0,436.7 L450.3,437.2 L450.6,437.3 L450.9,437.1 L451.3,436.7 L451.6,436.1 L451.9,435.4 L452.2,434.5 L452.5,433.7 L452.9,432.8 L453.2,432.1 L453.5,431.6 L453.8,431.2 L454.1,431.1 L454.4,431.3 L454.8,431.8 L455.1,432.5 L455.4,433.3 L455.7,434.2 L456.0,435.0 L456.4,435.6 L456.7,436.0 L457.0,436.1 L457.3,436.0 L457.6,435.9 L457.9,435.6 L458.3,435.4 L458.6,435.2 L458.9,435.1 L459.2,435.0 L459.5,435.0 L459.9,435.1 L460.2,435.2 L460.5,435.3 L460.8,435.4 L461.1,435.4 L461.4,435.2 L461.8,432.2 L462.1,429.3 L462.4,425.4 L462.7,421.7 L463.0,417.2 L463.4,413.4 L463.7,413.2 L464.0,413.7 L464.3,414.4 L464.6,415.0 L464.9,415.1 L465.3,415.1 L465.6,415.3 L465.9,415.5 L466.2,415.5 L466.5,415.5 L466.9,415.5 L467.2,415.6 L467.5,415.5 L467.8,415.6 L468.1,416.0 L468.4,416.4 L468.8,416.4 L469.1,416.3 L469.4,416.3 L469.7,416.2 L470.0,416.2 L470.4,416.2 L470.7,416.1 L471.0,416.0 L471.3,415.6 L471.6,414.8 L471.9,413.7 L472.3,412.4 L472.6,411.1 L472.9,410.0 L473.2,409.2 L473.5,408.8 L473.9,408.9 L474.2,409.2 L474.5,409.9 L474.8,410.8 L475.1,411.7 L475.4,412.5 L475.8,413.2 L476.1,413.6 L476.4,413.6 L476.7,413.3 L477.0,412.7 L477.4,411.9 L477.7,411.0 L478.0,409.9 L478.3,408.8 L478.6,408.1 L478.9,407.6 L479.3,407.3 L479.6,407.3 L479.9,407.6 L480.2,408.2 L480.5,409.2 L480.9,410.3 L481.2,411.5 L481.5,412.6 L481.8,413.6 L482.1,414.2 L482.4,414.6 L482.8,414.6 L483.1,414.4 L483.4,414.0 L483.7,413.4 L484.0,412.7 L484.4,412.0 L484.7,411.3 L485.0,410.7 L485.3,410.3 L485.6,410.1 L485.9,410.1 L486.3,410.3 L486.6,410.9 L486.9,411.7 L487.2,412.6 L487.5,413.6 L487.9,414.6 L488.2,415.4 L488.5,416.0 L488.8,416.3 L489.1,416.4 L489.4,416.4 L489.8,416.4 L490.1,416.3 L490.4,416.2 L490.7,416.2 L491.0,416.3 L491.4,416.5 L491.7,416.7 L492.0,416.9 L492.3,417.2 L492.6,417.4 L492.9,417.6 L493.3,417.8 L493.6,415.0 L493.9,411.9 L494.2,408.8 L494.5,404.2 L494.9,399.6 L495.2,395.2 L495.5,394.6 L495.8,394.9 L496.1,395.6 L496.4,396.3 L496.8,396.5 L497.1,396.5 L497.4,396.7 L497.7,396.9 L498.0,396.9 L498.4,396.9 L498.7,396.9 L499.0,397.0 L499.3,396.9 L499.6,396.9 L499.9,397.3 L500.3,397.7 L500.6,397.9 L500.9,397.8 L501.2,397.7 L501.5,397.6 L501.9,397.6 L502.2,397.6 L502.5,397.5 L502.8,397.4 L503.1,397.1 L503.4,396.4 L503.8,395.3 L504.1,394.1 L504.4,392.8 L504.7,391.6 L505.0,390.7 L505.4,390.3 L505.7,390.3 L506.0,390.6 L506.3,391.2 L506.6,392.1 L506.9,393.0 L507.3,394.0 L507.6,394.9 L507.9,395.5 L508.2,395.8 L508.5,395.8 L508.8,395.4 L509.2,394.8 L509.5,394.1 L509.8,393.2 L510.1,392.3 L510.4,391.5 L510.8,390.8 L511.1,390.4 L511.4,390.2 L511.7,390.4 L512.0,390.9 L512.3,391.7 L512.7,392.6 L513.0,393.7 L513.3,394.8 L513.6,395.7 L513.9,396.3 L514.3,396.6 L514.6,396.6 L514.9,396.4 L515.2,395.9 L515.5,395.2 L515.8,394.5 L516.2,393.7 L516.5,392.9 L516.8,392.2 L517.1,391.6 L517.4,391.2 L517.8,391.1 L518.1,391.2 L518.4,391.6 L518.7,392.3 L519.0,393.1 L519.3,394.0 L519.7,394.9 L520.0,395.7 L520.3,396.2 L520.6,396.5 L520.9,396.5 L521.3,396.5 L521.6,396.3 L521.9,396.1 L522.2,396.0 L522.5,395.9 L522.8,395.8 L523.2,395.9 L523.5,396.0 L523.8,396.1 L524.1,396.3 L524.4,396.4 L524.8,396.5 L525.1,396.6 L525.4,394.3 L525.7,391.1 L526.0,387.8 L526.3,383.2 L526.7,378.6 L527.0,373.9 L527.3,372.4 L527.6,372.6 L527.9,373.3 L528.3,374.0 L528.6,374.3 L528.9,374.3 L529.2,374.4 L529.5,374.7 L529.8,374.8 L530.2,374.7 L530.5,374.7 L530.8,374.7 L531.1,374.7 L531.4,374.7 L531.8,375.0 L532.1,375.4 L532.4,375.7 L532.7,375.6 L533.0,375.5 L533.3,375.4 L533.7,375.4 L534.0,375.4 L534.3,375.3 L534.6,375.2 L534.9,375.0 L535.3,374.3 L535.6,373.3 L535.9,372.1 L536.2,370.7 L536.5,369.5 L536.8,368.6 L537.2,368.1 L537.5,368.0 L537.8,368.3 L538.1,368.8 L538.4,369.6 L538.8,370.5 L539.1,371.4 L539.4,372.1 L539.7,372.6 L540.0,372.8 L540.3,372.7 L540.7,372.2 L541.0,371.5 L541.3,370.6 L541.6,369.5 L541.9,368.4 L542.3,367.4 L542.6,366.5 L542.9,365.8 L543.2,365.4 L543.5,365.3 L543.8,365.6 L544.2,366.2 L544.5,366.9 L544.8,367.8 L545.1,368.7 L545.4,369.5 L545.8,370.0 L546.1,370.2 L546.4,370.0 L546.7,369.6 L547.0,369.0 L547.3,368.2 L547.7,367.3 L548.0,366.3 L548.3,365.3 L548.6,364.4 L548.9,363.6 L549.3,363.0 L549.6,362.7 L549.9,362.5 L550.2,362.7 L550.5,363.2 L550.8,363.8 L551.2,364.5 L551.5,365.2 L551.8,365.8 L552.1,366.2 L552.4,366.4 L552.8,366.3 L553.1,366.0 L553.4,365.7 L553.7,365.4 L554.0,365.0 L554.3,364.7 L554.7,364.5 L555.0,364.3 L555.3,364.2 L555.6,364.2 L555.9,364.1 L556.3,364.1 L556.6,364.1 L556.9,364.0 L557.2,362.3 L557.5,359.2 L557.8,356.1 L558.2,351.8 L558.5,347.5 L558.8,342.9 L559.1,340.7 L559.4,340.8 L559.8,341.4 L560.1,342.1 L560.4,342.6 L560.7,342.5 L561.0,342.7 L561.3,342.9 L561.7,343.1 L562.0,343.0 L562.3,343.0 L562.6,343.1 L562.9,343.1 L563.3,343.0 L563.6,343.3 L563.9,343.7 L564.2,344.0 L564.5,343.9 L564.8,343.8 L565.2,343.8 L565.5,343.8 L565.8,343.8 L566.1,343.7 L566.4,343.6 L566.8,343.4 L567.1,342.9 L567.4,341.9 L567.7,340.7 L568.0,339.4 L568.3,338.2 L568.7,337.2 L569.0,336.6 L569.3,336.4 L569.6,336.6 L569.9,337.1 L570.3,337.9 L570.6,338.8 L570.9,339.7 L571.2,340.5 L571.5,341.0 L571.8,341.3 L572.2,341.2 L572.5,340.8 L572.8,340.1 L573.1,339.2 L573.4,338.2 L573.7,337.1 L574.1,336.1 L574.4,335.2 L574.7,334.5 L575.0,334.0 L575.3,333.9 L575.7,334.1 L576.0,334.6 L576.3,335.3 L576.6,336.2 L576.9,337.1 L577.2,337.9 L577.6,338.5 L577.9,338.7 L578.2,338.7 L578.5,338.3 L578.8,337.7 L579.2,337.0 L579.5,336.1 L579.8,335.1 L580.1,334.1 L580.4,333.2 L580.7,332.4 L581.1,331.8 L581.4,331.4 L581.7,331.2 L582.0,331.3 L582.3,331.7 L582.7,332.3 L583.0,333.0 L583.3,333.8 L583.6,334.4 L583.9,334.9 L584.2,335.1 L584.6,335.0 L584.9,334.8 L585.2,334.5 L585.5,334.1 L585.8,333.8 L586.2,333.5 L586.5,333.2 L586.8,333.1 L587.1,333.0 L587.4,332.9 L587.7,332.9 L588.1,332.9 L588.4,332.8 L588.7,332.7 L589.0,331.7 L589.3,328.6 L589.7,325.5 L590.0,321.3 L590.3,317.2 L590.6,312.6 L590.9,309.4 L591.2,309.4 L591.6,309.8 L591.9,310.4 L592.2,310.8 L592.5,310.7 L592.8,310.6 L593.2,310.8 L593.5,310.8 L593.8,310.6 L594.1,310.5 L594.4,310.4 L594.7,310.3 L595.1,310.1 L595.4,310.2 L595.7,310.5 L596.0,310.7 L596.3,310.6 L596.7,310.4 L597.0,310.2 L597.3,310.1 L597.6,309.9 L597.9,309.7 L598.2,309.5 L598.6,309.3 L598.9,308.7 L599.2,307.7 L599.5,306.4 L599.8,305.0 L600.2,303.6 L600.5,302.4 L600.8,301.6 L601.1,301.2 L601.4,301.2 L601.7,301.6 L602.1,302.2 L602.4,302.9 L602.7,303.7 L603.0,304.4 L603.3,304.9 L603.7,305.1 L604.0,304.9 L604.3,304.5 L604.6,303.7 L604.9,302.8 L605.2,301.6 L605.6,300.4 L605.9,299.3 L606.2,298.2 L606.5,297.5 L606.8,297.7 L607.2,298.3 L607.5,299.1 L607.8,300.3 L608.1,301.8 L608.4,303.4 L608.7,305.0 L609.1,306.6 L609.4,307.9 L609.7,309.0 L610.0,309.7 L610.3,310.2 L610.7,310.4 L611.0,310.4 L611.3,310.2 L611.6,310.0 L611.9,309.8 L612.2,309.6 L612.6,309.5 L612.9,309.5 L613.2,309.8 L613.5,310.4 L613.8,311.2 L614.2,312.3 L614.5,313.6 L614.8,315.0 L615.1,316.5 L615.4,317.9 L615.7,319.1 L616.1,320.1 L616.4,320.8 L616.7,321.4 L617.0,321.8 L617.3,322.2 L617.7,322.6 L618.0,323.0 L618.3,323.5 L618.6,324.1 L618.9,324.7 L619.2,325.4 L619.6,326.1 L619.9,326.8 L620.2,327.5 L620.5,327.9 L620.8,326.6 L621.2,325.2 L621.5,323.8 L621.8,321.4 L622.1,319.2 L622.4,316.3 L622.7,313.8 L623.1,312.7 L623.4,313.8 L623.7,315.2 L624.0,316.5 L624.3,317.3 L624.7,318.0 L625.0,318.9 L625.3,319.8 L625.6,320.4 L625.9,321.1 L626.2,321.8 L626.6,322.5 L626.9,323.1 L627.2,323.9 L627.5,325.0 L627.8,326.1 L628.2,326.8 L628.5,327.4 L628.8,328.0 L629.1,328.6 L629.4,329.3 L629.7,329.9 L630.1,330.5 L630.4,331.1 L630.7,331.4 L631.0,331.2 L631.3,330.8 L631.7,330.2 L632.0,329.6 L632.3,329.1 L632.6,329.0 L632.9,329.4 L633.2,330.1 L633.6,330.9 L633.9,331.9 L634.2,333.1 L634.5,334.4 L634.8,335.6 L635.2,336.6 L635.5,337.3 L635.8,337.7 L636.1,337.8 L636.4,337.5 L636.7,337.1 L637.1,336.4 L637.4,335.7 L637.7,335.0 L638.0,334.4 L638.3,334.0 L638.6,333.7 L639.0,333.8 L639.3,334.2 L639.6,335.0 L639.9,336.0 L640.2,337.2 L640.6,338.5 L640.9,339.7 L641.2,340.7 L641.5,341.4 L641.8,341.8 L642.1,341.9 L642.5,341.8 L642.8,341.4 L643.1,340.9 L643.4,340.3 L643.7,339.7 L644.1,339.1 L644.4,338.6 L644.7,338.2 L645.0,338.1 L645.3,338.2 L645.6,338.5 L646.0,339.2 L646.3,340.1 L646.6,341.1 L646.9,342.2 L647.2,343.2 L647.6,344.1 L647.9,344.8 L648.2,345.2 L648.5,345.3 L648.8,345.4 L649.1,345.4 L649.5,345.4 L649.8,345.4 L650.1,345.5 L650.4,345.7 L650.7,345.9 L651.1,346.2 L651.4,346.5 L651.7,346.8 L652.0,347.2 L652.3,345.2 L652.6,343.1 L653.0,341.0 L653.3,338.9 L653.6,336.7 L653.9,333.0 L654.2,329.4 L654.6,326.0 L654.9,324.8 L655.2,324.4 L655.5,324.2 L655.8,324.1 L656.1,323.4 L656.5,322.6 L656.8,322.0 L657.1,321.4 L657.4,320.6 L657.7,319.8 L658.1,319.0 L658.4,318.2 L658.7,317.3 L659.0,316.6 L659.3,316.1 L659.6,315.7 L660.0,315.0 L660.3,314.1 L660.6,313.2 L660.9,312.4 L661.2,311.5 L661.6,310.7 L661.9,309.8 L662.2,308.9 L662.5,307.8 L662.8,306.2 L663.1,304.3 L663.5,302.2 L663.8,300.2 L664.1,298.3 L664.4,296.7 L664.7,295.5 L665.1,294.7 L665.4,294.3 L665.7,294.2 L666.0,294.3 L666.3,294.4 L666.6,294.5 L667.0,294.5 L667.3,294.1 L667.6,293.5 L667.9,292.5 L668.2,291.2 L668.6,289.7 L668.9,288.0 L669.2,286.2 L669.5,284.3 L669.8,282.6 L670.1,281.0 L670.5,279.6 L670.8,278.7 L671.1,278.2 L671.4,278.0 L671.7,278.1 L672.1,278.4 L672.4,278.8 L672.7,279.2 L673.0,279.4 L673.3,279.3 L673.6,278.9 L674.0,278.2 L674.3,277.2 L674.6,276.0 L674.9,274.7 L675.2,273.2 L675.6,271.7 L675.9,270.2 L676.2,268.8 L676.5,267.5 L676.8,266.5 L677.1,266.2 L677.5,266.3 L677.8,266.6 L678.1,267.3 L678.4,268.1 L678.7,268.9 L679.1,269.8 L679.4,270.5 L679.7,271.0 L680.0,271.2 L680.3,271.2 L680.6,271.1 L681.0,270.9 L681.3,270.6 L681.6,270.4 L681.9,270.3 L682.2,270.2 L682.6,270.2 L682.9,270.3 L683.2,270.4 L683.5,270.5 L683.8,270.6 L684.1,270.7 L684.5,270.7 L684.8,268.6 L685.1,265.7 L685.4,262.9 L685.7,258.7 L686.1,254.5 L686.4,250.2 L686.7,249.0 L687.0,249.4 L687.3,250.1 L687.6,250.9 L688.0,251.2 L688.3,251.3 L688.6,251.5 L688.9,251.9 L689.2,252.0 L689.6,252.0 L689.9,252.1 L690.2,252.2 L690.5,252.3 L690.8,252.3 L691.1,252.7 L691.5,253.2 L691.8,253.5 L692.1,253.5 L692.4,253.5 L692.7,253.5 L693.1,253.6 L693.4,253.6 L693.7,253.6 L694.0,253.6 L694.3,253.4 L694.6,252.8 L695.0,251.9 L695.3,250.7 L695.6,249.5 L695.9,248.4 L696.2,247.5 L696.6,247.1 L696.9,247.1 L697.2,247.6 L697.5,248.3 L697.8,249.3 L698.1,250.4 L698.5,251.4 L698.8,252.3 L699.1,253.0 L699.4,253.3 L699.7,253.3 L700.1,253.0 L700.4,252.4 L700.7,251.7 L701.0,250.8 L701.3,249.9 L701.6,249.0 L702.0,248.3 L702.3,248.5 L702.6,249.3 L702.9,250.5 L703.2,252.0 L703.5,253.8 L703.9,255.8 L704.2,257.9 L704.5,260.1 L704.8,262.0 L705.1,263.8 L705.5,265.2 L705.8,266.3 L706.1,267.1 L706.4,267.7 L706.7,268.1 L707.0,268.4 L707.4,268.7 L707.7,268.9 L708.0,269.2 L708.3,269.7 L708.6,270.3 L709.0,271.2 L709.3,272.3 L709.6,273.8 L709.9,275.6 L710.2,277.6 L710.5,279.7 L710.9,281.8 L711.2,283.7 L711.5,285.5 L711.8,287.0 L712.1,288.2 L712.5,289.4 L712.8,290.4 L713.1,291.4 L713.4,292.4 L713.7,293.4 L714.0,294.6 L714.4,295.8 L714.7,297.1 L715.0,298.4 L715.3,299.7 L715.6,301.0 L716.0,302.3 L716.3,302.5 L716.6,301.6 L716.9,300.7 L717.2,299.8 L717.5,297.7 L717.9,295.6 L718.2,293.3 L718.5,291.8 L718.8,292.1 L719.1,293.6 L719.5,295.3 L719.8,296.6 L720.1,297.5 L720.4,298.6 L720.7,299.8 L721.0,300.8 L721.4,301.7 L721.7,302.6 L722.0,303.6 L722.3,304.5 L722.6,305.4 L723.0,306.6 L723.3,308.0 L723.6,309.2 L723.9,310.0 L724.2,310.9 L724.5,311.7 L724.9,312.6 L725.2,313.5 L725.5,314.4 L725.8,315.3 L726.1,316.0 L726.5,316.4 L726.8,316.3 L727.1,315.8 L727.4,315.1 L727.7,314.4 L728.0,314.0 L728.4,313.9 L728.7,314.3 L729.0,315.1 L729.3,316.2 L729.6,317.5 L730.0,318.9 L730.3,320.4 L730.6,321.7 L730.9,322.8 L731.2,323.6 L731.5,324.0 L731.9,324.2 L732.2,324.0 L732.5,323.7 L732.8,323.2 L733.1,322.7 L733.5,322.2 L733.8,321.9 L734.1,321.7 L734.4,321.8 L734.7,322.2 L735.0,323.0 L735.4,324.0 L735.7,325.3 L736.0,326.8 L736.3,328.2 L736.6,329.6 L737.0,330.7 L737.3,331.5 L737.6,331.9 L737.9,332.1 L738.2,332.1 L738.5,331.9 L738.9,331.5 L739.2,331.1 L739.5,330.6 L739.8,330.4 L740.1,330.3 L740.5,330.5 L740.8,330.9 L741.1,331.5 L741.4,332.4 L741.7,333.6 L742.0,334.9 L742.4,336.4 L742.7,337.9 L743.0,339.3 L743.3,340.6 L743.6,341.5 L744.0,342.2 L744.3,342.8 L744.6,343.2 L744.9,343.7 L745.2,344.1 L745.5,344.5 L745.9,345.1 L746.2,345.7 L746.5,346.4 L746.8,347.1 L747.1,347.8 L747.5,348.6 L747.8,349.3 L748.1,349.1 L748.4,347.1 L748.7,345.1 L749.0,343.0 L749.4,339.9 L749.7,336.9 L750.0,333.3 L750.3,330.5 L750.6,329.5 L751.0,330.5 L751.3,331.7 L751.6,332.6 L751.9,333.1 L752.2,333.6 L752.5,334.3 L752.9,335.0 L753.2,335.4 L753.5,335.8 L753.8,336.3 L754.1,336.8 L754.5,337.2 L754.8,337.8 L755.1,338.7 L755.4,339.5 L755.7,339.9 L756.0,340.3 L756.4,340.7 L756.7,341.1 L757.0,341.6 L757.3,342.0 L757.6,342.4 L758.0,342.7 L758.3,342.6 L758.6,342.2 L758.9,341.5 L759.2,340.6 L759.5,339.8 L759.9,339.2 L760.2,339.0 L760.5,339.2 L760.8,339.8 L761.1,340.8 L761.5,341.9 L761.8,343.3 L762.1,344.7 L762.4,346.0 L762.7,347.2 L763.0,348.1 L763.4,348.6 L763.7,348.8 L764.0,348.7 L764.3,348.4 L764.6,348.0 L765.0,347.4 L765.3,346.9 L765.6,346.6 L765.9,346.4 L766.2,346.4 L766.5,346.8 L766.9,347.5 L767.2,348.5 L767.5,349.8 L767.8,351.2 L768.1,352.7 L768.4,354.1 L768.8,355.2 L769.1,356.1 L769.4,356.6 L769.7,356.9 L770.0,356.9 L770.4,356.7 L770.7,356.4 L771.0,356.0 L771.3,355.6 L771.6,355.2 L771.9,354.9 L772.3,354.7 L772.6,354.2 L772.9,353.9 L773.2,353.9 L773.5,354.2 L773.9,354.8 L774.2,355.4 L774.5,356.1 L774.8,356.7 L775.1,357.1 L775.4,357.3 L775.8,357.3 L776.1,357.0 L776.4,356.7 L776.7,356.3 L777.0,355.8 L777.4,355.5 L777.7,355.1 L778.0,354.9 L778.3,354.8 L778.6,354.7 L778.9,354.6 L779.3,354.5 L779.6,354.4 L779.9,353.9 L780.2,351.2 L780.5,348.5 L780.9,345.8 L781.2,342.0 L781.5,338.5 L781.8,334.3 L782.1,330.5 L782.4,328.2 L782.8,328.5 L783.1,329.1 L783.4,329.4 L783.7,329.3 L784.0,329.2 L784.4,329.3 L784.7,329.3 L785.0,329.1 L785.3,328.8 L785.6,328.7 L785.9,328.6 L786.3,328.3 L786.6,328.3 L786.9,328.5 L787.2,328.7 L787.5,328.5 L787.9,328.3 L788.2,328.0 L788.5,327.8 L788.8,327.6 L789.1,327.4 L789.4,327.1 L789.8,326.8 L790.1,326.2 L790.4,325.2 L790.7,323.9 L791.0,322.4 L791.4,320.9 L791.7,319.7 L792.0,318.7 L792.3,318.2 L792.6,318.1 L792.9,318.4 L793.3,318.9 L793.6,319.5 L793.9,320.3 L794.2,320.9 L794.5,321.4 L794.9,321.6 L795.2,321.4 L795.5,320.9 L795.8,320.2 L796.1,319.2 L796.4,318.0 L796.8,316.7 L797.1,315.5 L797.4,314.3 L797.7,313.4 L798.0,312.6 L798.4,312.3 L798.7,312.3 L799.0,312.6 L799.3,313.2 L799.6,314.0 L799.9,314.8 L800.3,315.6 L800.6,316.1 L800.9,316.4 L801.2,316.4 L801.5,316.0 L801.9,315.5 L802.2,314.7 L802.5,313.7 L802.8,312.7 L803.1,311.6 L803.4,310.6 L803.8,309.6 L804.1,308.9 L804.4,308.3 L804.7,307.9 L805.0,307.9 L805.4,308.1 L805.7,308.6 L806.0,309.2 L806.3,309.8 L806.6,310.4 L806.9,310.9 L807.3,311.1 L807.6,311.0 L807.9,310.8 L808.2,310.4 L808.5,310.0 L808.9,309.5 L809.2,309.1 L809.5,308.8 L809.8,308.5 L810.1,308.3 L810.4,308.2 L810.8,308.0 L811.1,307.9 L811.4,307.8 L811.7,307.7 L812.0,307.5 L812.4,304.5 L812.7,301.4 L813.0,298.3 L813.3,293.5 L813.6,289.0 L813.9,284.6 L814.3,284.0 L814.6,284.2 L814.9,284.6 L815.2,285.0 L815.5,284.9 L815.9,284.7 L816.2,284.7 L816.5,284.6 L816.8,284.4 L817.1,284.1 L817.4,283.9 L817.8,283.7 L818.1,283.4 L818.4,283.2 L818.7,283.4 L819.0,283.5 L819.4,283.4 L819.7,283.0 L820.0,282.7 L820.3,282.5 L820.6,282.2 L820.9,281.9 L821.3,281.6 L821.6,281.3 L821.9,280.7 L822.2,279.7 L822.5,278.3 L822.9,276.8 L823.2,275.3 L823.5,273.9 L823.8,272.8 L824.1,272.2 L824.4,271.9 L824.8,272.0 L825.1,272.4 L825.4,273.0 L825.7,273.7 L826.0,274.3 L826.4,274.8 L826.7,274.9 L827.0,274.8 L827.3,274.3 L827.6,273.5 L827.9,272.5 L828.3,271.3 L828.6,270.2 L828.9,269.1 L829.2,268.1 L829.5,267.3 L829.9,266.7 L830.2,266.4 L830.5,266.4 L830.8,266.7 L831.1,267.3 L831.4,268.2 L831.8,269.1 L832.1,269.9 L832.4,270.6 L832.7,271.1 L833.0,271.2 L833.3,270.9 L833.7,270.5 L834.0,269.8 L834.3,269.0 L834.6,268.0 L834.9,267.0 L835.3,266.0 L835.6,265.2 L835.9,264.4 L836.2,263.9 L836.5,263.6 L836.8,263.5 L837.2,263.8 L837.5,264.3 L837.8,264.9 L838.1,265.7 L838.4,266.4 L838.8,266.9 L839.1,267.3 L839.4,267.4 L839.7,267.2 L840.0,266.9 L840.3,266.6 L840.7,266.2 L841.0,265.9 L841.3,265.6 L841.6,265.4 L841.9,265.3 L842.3,265.2 L842.6,265.1 L842.9,265.1 L843.2,265.1 L843.5,263.2 L843.8,260.8 L844.2,258.3 L844.5,255.9 L844.8,253.4 L845.1,249.6 L845.4,245.7 L845.8,241.9 L846.1,240.8 L846.4,241.0 L846.7,241.5 L847.0,242.1 L847.3,242.3 L847.7,242.1 L848.0,242.2 L848.3,242.3 L848.6,242.3 L848.9,242.0 L849.3,241.9 L849.6,241.9 L849.9,241.7 L850.2,241.6 L850.5,241.8 L850.8,242.1 L851.2,242.2 L851.5,242.0 L851.8,241.8 L852.1,241.6 L852.4,241.5 L852.8,241.3 L853.1,241.1 L853.4,240.9 L853.7,240.5 L854.0,239.8 L854.3,238.6 L854.7,237.2 L855.0,235.8 L855.3,234.5 L855.6,233.5 L855.9,232.8 L856.3,232.7 L856.6,232.8 L856.9,233.3 L857.2,234.0 L857.5,234.8 L857.8,235.5 L858.2,236.1 L858.5,236.5 L858.8,236.5 L859.1,236.2 L859.4,235.6 L859.8,234.8 L860.1,233.7 L860.4,232.6 L860.7,231.4 L861.0,230.2 L861.3,229.2 L861.7,228.5 L862.0,228.0 L862.3,227.8 L862.6,227.9 L862.9,228.4 L863.3,229.1 L863.6,229.9 L863.9,230.6 L864.2,231.2 L864.5,231.6 L864.8,231.7 L865.2,231.4 L865.5,230.8 L865.8,230.1 L866.1,229.2 L866.4,228.1 L866.8,227.0 L867.1,225.9 L867.4,224.9 L867.7,224.0 L868.0,223.3 L868.3,222.8 L868.7,222.6 L869.0,222.7 L869.3,223.0 L869.6,223.5 L869.9,224.2 L870.3,224.7 L870.6,225.2 L870.9,225.5 L871.2,225.5 L871.5,225.3 L871.8,224.9 L872.2,224.5 L872.5,224.0 L872.8,223.5 L873.1,223.1 L873.4,222.7 L873.8,222.5 L874.1,222.3 L874.4,222.1 L874.7,222.0 L875.0,221.8 L875.3,220.3 L875.7,217.9 L876.0,215.5 L876.3,213.0 L876.6,210.6 L876.9,206.9 L877.3,203.2 L877.6,199.3 L877.9,197.5 L878.2,197.6 L878.5,198.1 L878.8,198.6 L879.2,198.9 L879.5,198.7 L879.8,198.7 L880.1,198.9 L880.4,198.8 L880.8,198.6 L881.1,198.5 L881.4,198.4 L881.7,198.3 L882.0,198.1 L882.3,198.2 L882.7,198.6 L883.0,198.7 L883.3,198.5 L883.6,198.2 L883.9,198.1 L884.3,197.9 L884.6,197.7 L884.9,197.6 L885.2,197.3 L885.5,197.0 L885.8,196.3 L886.2,195.2 L886.5,193.8 L886.8,192.4 L887.1,191.0 L887.4,189.9 L887.8,189.2 L888.1,188.9 L888.4,189.0 L888.7,189.4 L889.0,190.0 L889.3,190.8 L889.7,191.6 L890.0,192.2 L890.3,192.6 L890.6,192.7 L890.9,192.4 L891.3,191.9 L891.6,191.1 L891.9,190.0 L892.2,188.9 L892.5,187.6 L892.8,186.5 L893.2,185.4 L893.5,184.6 L893.8,184.0 L894.1,183.8 L894.4,183.8 L894.8,184.2 L895.1,184.9 L895.4,185.6 L895.7,186.4 L896.0,187.0 L896.3,187.4 L896.7,187.6 L897.0,187.3 L897.3,186.8 L897.6,186.1 L897.9,185.2 L898.2,184.1 L898.6,183.0 L898.9,181.9 L899.2,180.8 L899.5,179.9 L899.8,179.2 L900.2,178.6 L900.5,178.3 L900.8,178.4 L901.1,178.6 L901.4,179.1 L901.7,179.7 L902.1,180.3 L902.4,180.8 L902.7,181.1 L903.0,181.1 L903.3,180.9 L903.7,180.6 L904.0,180.1 L904.3,179.6 L904.6,179.1 L904.9,178.7 L905.2,178.3 L905.6,178.0 L905.9,177.8 L906.2,177.6 L906.5,177.5 L906.8,177.3 L907.2,177.1 L907.5,175.9 L907.8,173.0 L908.1,170.1 L908.4,167.3 L908.7,163.3 L909.1,159.3 L909.4,154.9 L909.7,152.2 L910.0,152.2 L910.3,152.6 L910.7,153.2 L911.0,153.6 L911.3,153.5 L911.6,153.5 L911.9,153.6 L912.2,153.6 L912.6,153.5 L912.9,153.3 L913.2,153.3 L913.5,153.1 L913.8,152.9 L914.2,153.1 L914.5,153.4 L914.8,153.6 L915.1,153.4 L915.4,153.2 L915.7,153.0 L916.1,152.9 L916.4,152.7 L916.7,152.6 L917.0,152.4 L917.3,152.1 L917.7,151.5 L918.0,150.4 L918.3,149.1 L918.6,147.7 L918.9,146.3 L919.2,145.2 L919.6,144.4 L919.9,144.0 L920.2,144.1 L920.5,144.4 L920.8,145.0 L921.2,145.8 L921.5,146.6 L921.8,147.3 L922.1,147.7 L922.4,147.9 L922.7,147.7 L923.1,147.2 L923.4,146.5 L923.7,145.5 L924.0,144.4 L924.3,143.2 L924.7,142.0 L925.0,140.9 L925.3,140.1 L925.6,139.5 L925.9,139.1 L926.2,139.2 L926.6,139.5 L926.9,140.1 L927.2,140.9 L927.5,141.7 L927.8,142.4 L928.2,142.8 L928.5,143.0 L928.8,142.9 L929.1,142.4 L929.4,141.7 L929.7,140.9 L930.1,139.9 L930.4,138.8 L930.7,137.7 L931.0,136.6 L931.3,135.7 L931.7,134.9 L932.0,134.3 L932.3,134.0 L932.6,134.0 L932.9,134.2 L933.2,134.7 L933.6,135.3 L933.9,135.9 L934.2,136.4 L934.5,136.8 L934.8,136.9 L935.2,136.7 L935.5,136.4 L935.8,136.0 L936.1,135.5 L936.4,135.0 L936.7,134.6 L937.1,134.2 L937.4,133.9 L937.7,133.7 L938.0,133.5 L938.3,133.4 L938.7,133.2 L939.0,133.1 L939.3,132.9 L939.6,132.7" fill="none" stroke="#0072B2" stroke-width="2.1" stroke-linejoin="round"/>
<path d="M940,78.2 L943.8,78.2 Q945.2,78.4 945.2,80 L945.2,112.3 L942.3,113.2 L942.2,125.5 L941.2,134 L937.0,134.5 L937.0,99 L940,97 Z" fill="#0072B2"/>
<g fill="#ff0000" fill-opacity="0.6" stroke="#ff0000" stroke-opacity="0.6" stroke-width="0.9"><circle cx="941.50" cy="41.25" r="2.05"/><circle cx="941.50" cy="45.25" r="2.05"/><circle cx="940.50" cy="48.25" r="2.05"/><circle cx="941.50" cy="51.50" r="2.05"/><circle cx="940.50" cy="58.25" r="2.05"/><circle cx="940.50" cy="63.50" r="2.05"/><circle cx="940.60" cy="64.80" r="2.05"/><circle cx="940.40" cy="64.20" r="2.05"/><circle cx="940.50" cy="71.00" r="2.05"/><circle cx="940.50" cy="70.50" r="2.05"/><circle cx="939.75" cy="73.00" r="2.05"/><circle cx="939.80" cy="73.60" r="2.05"/><circle cx="939.50" cy="79.25" r="2.05"/><circle cx="939.50" cy="79.60" r="2.05"/><circle cx="939.40" cy="78.80" r="2.05"/><circle cx="939.25" cy="87.00" r="2.05"/><circle cx="939.40" cy="87.30" r="2.05"/><circle cx="938.50" cy="92.00" r="2.05"/><circle cx="938.70" cy="91.60" r="2.05"/><circle cx="939.50" cy="95.50" r="2.05"/><circle cx="939.50" cy="95.20" r="2.05"/><circle cx="939.40" cy="95.80" r="2.05"/></g>
<rect x="71.5" y="15.5" width="914" height="527" fill="none" stroke="#000" stroke-width="1"/>
<g stroke="#000" stroke-width="1"><line x1="175.50" y1="542.5" x2="175.50" y2="547.4"/><line x1="303.00" y1="542.5" x2="303.00" y2="547.4"/><line x1="430.50" y1="542.5" x2="430.50" y2="547.4"/><line x1="558.00" y1="542.5" x2="558.00" y2="547.4"/><line x1="685.50" y1="542.5" x2="685.50" y2="547.4"/><line x1="813.00" y1="542.5" x2="813.00" y2="547.4"/><line x1="940.50" y1="542.5" x2="940.50" y2="547.4"/><line x1="66.6" y1="511.50" x2="71.5" y2="511.50"/><line x1="66.6" y1="411.50" x2="71.5" y2="411.50"/><line x1="66.6" y1="310.50" x2="71.5" y2="310.50"/><line x1="66.6" y1="209.50" x2="71.5" y2="209.50"/><line x1="66.6" y1="108.50" x2="71.5" y2="108.50"/></g>
<g opacity="0.999"><text x="175.7" y="562" text-anchor="middle">2002</text><text x="303.2" y="562" text-anchor="middle">2006</text><text x="430.7" y="562" text-anchor="middle">2010</text><text x="558.2" y="562" text-anchor="middle">2014</text><text x="685.7" y="562" text-anchor="middle">2018</text><text x="813.2" y="562" text-anchor="middle">2022</text><text x="940.7" y="562" text-anchor="middle">2026</text><text x="59.8" y="516.5" text-anchor="end">0</text><text x="59.8" y="416.5" text-anchor="end">200</text><text x="59.8" y="315.5" text-anchor="end">400</text><text x="59.8" y="214.5" text-anchor="end">600</text><text x="59.8" y="113.5" text-anchor="end">800</text>
<text x="528.6" y="582" text-anchor="middle" style="letter-spacing:0">ds</text>
<text transform="translate(25.3,278.5) rotate(-90)" text-anchor="middle" stroke="#000" stroke-width="0.12">y</text></g>
</svg></body></html>
